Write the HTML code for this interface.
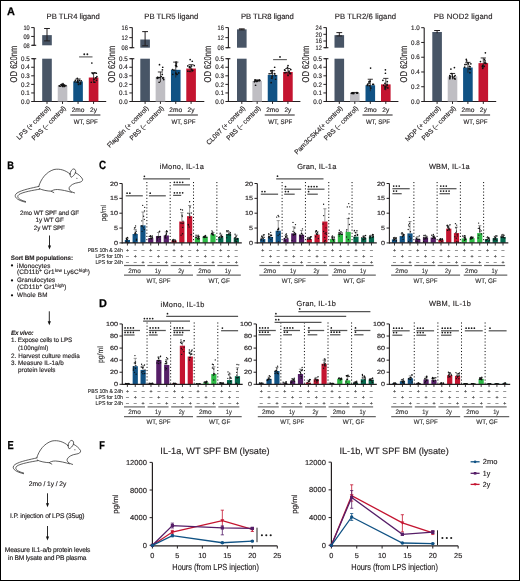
<!DOCTYPE html>
<html><head><meta charset="utf-8"><style>
html,body{margin:0;padding:0;background:#fff;}
body{width:520px;height:581px;overflow:hidden;}
svg{display:block;will-change:transform;}
text{font-family:"Liberation Sans",sans-serif;text-rendering:geometricPrecision;}
</style></head><body>
<svg width="520" height="581" viewBox="0 0 520 581">
<rect x="0" y="0" width="520" height="581" fill="#fff"/>
<text x="73.20" y="18.80" font-size="7.7" text-anchor="middle" fill="#231f20" textLength="53.3" lengthAdjust="spacing" stroke="#231f20" stroke-width="0.15">PB TLR4 ligand</text>
<line x1="33.70" y1="101.50" x2="106.20" y2="101.50" stroke="#231f20" stroke-width="1.1"/>
<line x1="34.20" y1="58.70" x2="34.20" y2="102.00" stroke="#231f20" stroke-width="1.1"/>
<line x1="32.20" y1="58.70" x2="36.20" y2="58.70" stroke="#231f20" stroke-width="1.1"/>
<line x1="31.20" y1="101.50" x2="34.20" y2="101.50" stroke="#231f20" stroke-width="1"/>
<text x="29.70" y="103.70" font-size="6.6" text-anchor="end" fill="#231f20" textLength="8.7" lengthAdjust="spacingAndGlyphs" stroke="#231f20" stroke-width="0.15">0.0</text>
<line x1="31.20" y1="92.94" x2="34.20" y2="92.94" stroke="#231f20" stroke-width="1"/>
<text x="29.70" y="95.14" font-size="6.6" text-anchor="end" fill="#231f20" textLength="8.7" lengthAdjust="spacingAndGlyphs" stroke="#231f20" stroke-width="0.15">0.1</text>
<line x1="31.20" y1="84.38" x2="34.20" y2="84.38" stroke="#231f20" stroke-width="1"/>
<text x="29.70" y="86.58" font-size="6.6" text-anchor="end" fill="#231f20" textLength="8.7" lengthAdjust="spacingAndGlyphs" stroke="#231f20" stroke-width="0.15">0.2</text>
<line x1="31.20" y1="75.82" x2="34.20" y2="75.82" stroke="#231f20" stroke-width="1"/>
<text x="29.70" y="78.02" font-size="6.6" text-anchor="end" fill="#231f20" textLength="8.7" lengthAdjust="spacingAndGlyphs" stroke="#231f20" stroke-width="0.15">0.3</text>
<line x1="31.20" y1="67.26" x2="34.20" y2="67.26" stroke="#231f20" stroke-width="1"/>
<text x="29.70" y="69.46" font-size="6.6" text-anchor="end" fill="#231f20" textLength="8.7" lengthAdjust="spacingAndGlyphs" stroke="#231f20" stroke-width="0.15">0.4</text>
<line x1="31.20" y1="58.70" x2="34.20" y2="58.70" stroke="#231f20" stroke-width="1"/>
<text x="29.70" y="60.90" font-size="6.6" text-anchor="end" fill="#231f20" textLength="8.7" lengthAdjust="spacingAndGlyphs" stroke="#231f20" stroke-width="0.15">0.5</text>
<line x1="34.20" y1="27.60" x2="34.20" y2="45.30" stroke="#231f20" stroke-width="1.1"/>
<line x1="32.20" y1="45.30" x2="36.20" y2="45.30" stroke="#231f20" stroke-width="1.1"/>
<line x1="31.20" y1="27.60" x2="34.20" y2="27.60" stroke="#231f20" stroke-width="1"/>
<text x="29.70" y="29.80" font-size="6.6" text-anchor="end" fill="#231f20" textLength="6.3" lengthAdjust="spacingAndGlyphs" stroke="#231f20" stroke-width="0.15">10</text>
<line x1="31.20" y1="36.45" x2="34.20" y2="36.45" stroke="#231f20" stroke-width="1"/>
<text x="29.70" y="38.65" font-size="6.6" text-anchor="end" fill="#231f20" textLength="6.3" lengthAdjust="spacingAndGlyphs" stroke="#231f20" stroke-width="0.15">09</text>
<line x1="31.20" y1="45.30" x2="34.20" y2="45.30" stroke="#231f20" stroke-width="1"/>
<text x="29.70" y="47.50" font-size="6.6" text-anchor="end" fill="#231f20" textLength="6.3" lengthAdjust="spacingAndGlyphs" stroke="#231f20" stroke-width="0.15">08</text>
<rect x="42.20" y="35.12" width="9.60" height="10.18" fill="#485566"/>
<rect x="42.20" y="58.70" width="9.60" height="42.80" fill="#485566"/>
<line x1="47.00" y1="28.49" x2="47.00" y2="40.88" stroke="#231f20" stroke-width="1"/>
<line x1="44.10" y1="28.49" x2="49.90" y2="28.49" stroke="#231f20" stroke-width="1"/>
<line x1="44.10" y1="40.88" x2="49.90" y2="40.88" stroke="#231f20" stroke-width="1"/>
<rect x="57.73" y="85.66" width="9.60" height="15.84" fill="#bfbec3"/>
<line x1="62.53" y1="84.64" x2="62.53" y2="86.69" stroke="#231f20" stroke-width="0.8"/>
<line x1="59.93" y1="84.64" x2="65.13" y2="84.64" stroke="#231f20" stroke-width="0.9"/>
<circle cx="61.65" cy="85.61" r="0.85" fill="#111"/>
<circle cx="63.24" cy="84.96" r="0.85" fill="#111"/>
<circle cx="59.22" cy="85.81" r="0.85" fill="#111"/>
<circle cx="64.82" cy="85.81" r="0.85" fill="#111"/>
<circle cx="65.90" cy="85.69" r="0.85" fill="#111"/>
<circle cx="62.33" cy="85.25" r="0.85" fill="#111"/>
<circle cx="63.48" cy="85.33" r="0.85" fill="#111"/>
<circle cx="60.15" cy="86.21" r="0.85" fill="#111"/>
<circle cx="62.69" cy="86.42" r="0.85" fill="#111"/>
<circle cx="64.17" cy="86.52" r="0.85" fill="#111"/>
<circle cx="64.29" cy="85.76" r="0.85" fill="#111"/>
<circle cx="62.99" cy="83.52" r="0.85" fill="#111"/>
<circle cx="61.54" cy="84.38" r="0.85" fill="#111"/>
<rect x="73.26" y="81.38" width="9.60" height="20.12" fill="#105284"/>
<line x1="78.06" y1="78.99" x2="78.06" y2="83.78" stroke="#231f20" stroke-width="0.8"/>
<line x1="75.46" y1="78.99" x2="80.66" y2="78.99" stroke="#231f20" stroke-width="0.9"/>
<circle cx="74.87" cy="81.81" r="0.85" fill="#111"/>
<circle cx="79.55" cy="80.39" r="0.85" fill="#111"/>
<circle cx="80.64" cy="82.50" r="0.85" fill="#111"/>
<circle cx="77.35" cy="82.05" r="0.85" fill="#111"/>
<circle cx="80.11" cy="83.78" r="0.85" fill="#111"/>
<circle cx="80.64" cy="83.78" r="0.85" fill="#111"/>
<circle cx="75.32" cy="80.33" r="0.85" fill="#111"/>
<circle cx="81.23" cy="80.78" r="0.85" fill="#111"/>
<circle cx="77.63" cy="80.69" r="0.85" fill="#111"/>
<circle cx="78.11" cy="82.16" r="0.85" fill="#111"/>
<circle cx="77.28" cy="82.18" r="0.85" fill="#111"/>
<circle cx="77.31" cy="78.39" r="0.85" fill="#111"/>
<circle cx="78.49" cy="84.38" r="0.85" fill="#111"/>
<rect x="88.79" y="77.53" width="9.60" height="23.97" fill="#c41430"/>
<line x1="93.59" y1="72.82" x2="93.59" y2="82.24" stroke="#231f20" stroke-width="0.8"/>
<line x1="90.99" y1="72.82" x2="96.19" y2="72.82" stroke="#231f20" stroke-width="0.9"/>
<circle cx="94.83" cy="82.24" r="0.85" fill="#111"/>
<circle cx="96.51" cy="80.36" r="0.85" fill="#111"/>
<circle cx="94.75" cy="72.82" r="0.85" fill="#111"/>
<circle cx="91.30" cy="82.24" r="0.85" fill="#111"/>
<circle cx="96.34" cy="73.24" r="0.85" fill="#111"/>
<circle cx="94.06" cy="82.24" r="0.85" fill="#111"/>
<circle cx="95.84" cy="77.93" r="0.85" fill="#111"/>
<circle cx="94.09" cy="79.27" r="0.85" fill="#111"/>
<circle cx="96.00" cy="77.74" r="0.85" fill="#111"/>
<circle cx="96.92" cy="76.62" r="0.85" fill="#111"/>
<circle cx="92.98" cy="73.58" r="0.85" fill="#111"/>
<circle cx="91.84" cy="62.98" r="0.85" fill="#111"/>
<circle cx="92.56" cy="73.25" r="0.85" fill="#111"/>
<line x1="47.00" y1="101.50" x2="47.00" y2="103.90" stroke="#231f20" stroke-width="1"/>
<line x1="62.53" y1="101.50" x2="62.53" y2="103.90" stroke="#231f20" stroke-width="1"/>
<line x1="78.06" y1="101.50" x2="78.06" y2="103.90" stroke="#231f20" stroke-width="1"/>
<line x1="93.59" y1="101.50" x2="93.59" y2="103.90" stroke="#231f20" stroke-width="1"/>
<text x="50.90" y="108.70" font-size="6.7" text-anchor="end" fill="#231f20" transform="rotate(-45 50.90 108.70)" stroke="#231f20" stroke-width="0.15">LPS (+ control)</text>
<text x="66.43" y="108.70" font-size="6.7" text-anchor="end" fill="#231f20" transform="rotate(-45 66.43 108.70)" stroke="#231f20" stroke-width="0.15">PBS (– control)</text>
<text x="78.06" y="112.30" font-size="6.6" text-anchor="middle" fill="#231f20" stroke="#231f20" stroke-width="0.15">2mo</text>
<text x="93.59" y="112.30" font-size="6.6" text-anchor="middle" fill="#231f20" stroke="#231f20" stroke-width="0.15">2y</text>
<line x1="70.26" y1="115.00" x2="100.39" y2="115.00" stroke="#231f20" stroke-width="1"/>
<text x="85.83" y="124.20" font-size="6.6" text-anchor="middle" fill="#231f20" textLength="24" lengthAdjust="spacingAndGlyphs" stroke="#231f20" stroke-width="0.15">WT, SPF</text>
<text x="16.90" y="64.00" font-size="9.9" text-anchor="middle" fill="#231f20" textLength="36.8" lengthAdjust="spacingAndGlyphs" transform="rotate(-90 16.90 64.00)" stroke="#231f20" stroke-width="0.15">OD 620nm</text>
<line x1="79.10" y1="56.90" x2="92.50" y2="56.90" stroke="#666" stroke-width="1.2"/>
<circle cx="84.25" cy="54.20" r="0.95" fill="#1a1a1a"/>
<circle cx="87.35" cy="54.20" r="0.95" fill="#1a1a1a"/>
<text x="171.30" y="18.80" font-size="7.7" text-anchor="middle" fill="#231f20" textLength="54" lengthAdjust="spacing" stroke="#231f20" stroke-width="0.15">PB TLR5 ligand</text>
<line x1="131.80" y1="101.50" x2="204.30" y2="101.50" stroke="#231f20" stroke-width="1.1"/>
<line x1="132.30" y1="58.70" x2="132.30" y2="102.00" stroke="#231f20" stroke-width="1.1"/>
<line x1="130.30" y1="58.70" x2="134.30" y2="58.70" stroke="#231f20" stroke-width="1.1"/>
<line x1="129.30" y1="101.50" x2="132.30" y2="101.50" stroke="#231f20" stroke-width="1"/>
<text x="127.80" y="103.70" font-size="6.6" text-anchor="end" fill="#231f20" textLength="8.7" lengthAdjust="spacingAndGlyphs" stroke="#231f20" stroke-width="0.15">0.0</text>
<line x1="129.30" y1="92.94" x2="132.30" y2="92.94" stroke="#231f20" stroke-width="1"/>
<text x="127.80" y="95.14" font-size="6.6" text-anchor="end" fill="#231f20" textLength="8.7" lengthAdjust="spacingAndGlyphs" stroke="#231f20" stroke-width="0.15">0.1</text>
<line x1="129.30" y1="84.38" x2="132.30" y2="84.38" stroke="#231f20" stroke-width="1"/>
<text x="127.80" y="86.58" font-size="6.6" text-anchor="end" fill="#231f20" textLength="8.7" lengthAdjust="spacingAndGlyphs" stroke="#231f20" stroke-width="0.15">0.2</text>
<line x1="129.30" y1="75.82" x2="132.30" y2="75.82" stroke="#231f20" stroke-width="1"/>
<text x="127.80" y="78.02" font-size="6.6" text-anchor="end" fill="#231f20" textLength="8.7" lengthAdjust="spacingAndGlyphs" stroke="#231f20" stroke-width="0.15">0.3</text>
<line x1="129.30" y1="67.26" x2="132.30" y2="67.26" stroke="#231f20" stroke-width="1"/>
<text x="127.80" y="69.46" font-size="6.6" text-anchor="end" fill="#231f20" textLength="8.7" lengthAdjust="spacingAndGlyphs" stroke="#231f20" stroke-width="0.15">0.4</text>
<line x1="129.30" y1="58.70" x2="132.30" y2="58.70" stroke="#231f20" stroke-width="1"/>
<text x="127.80" y="60.90" font-size="6.6" text-anchor="end" fill="#231f20" textLength="8.7" lengthAdjust="spacingAndGlyphs" stroke="#231f20" stroke-width="0.15">0.5</text>
<line x1="132.30" y1="27.60" x2="132.30" y2="47.70" stroke="#231f20" stroke-width="1.1"/>
<line x1="130.30" y1="47.70" x2="134.30" y2="47.70" stroke="#231f20" stroke-width="1.1"/>
<line x1="129.30" y1="27.60" x2="132.30" y2="27.60" stroke="#231f20" stroke-width="1"/>
<text x="127.80" y="29.80" font-size="6.6" text-anchor="end" fill="#231f20" textLength="6.3" lengthAdjust="spacingAndGlyphs" stroke="#231f20" stroke-width="0.15">16</text>
<line x1="129.30" y1="37.65" x2="132.30" y2="37.65" stroke="#231f20" stroke-width="1"/>
<text x="127.80" y="39.85" font-size="6.6" text-anchor="end" fill="#231f20" textLength="6.3" lengthAdjust="spacingAndGlyphs" stroke="#231f20" stroke-width="0.15">12</text>
<line x1="129.30" y1="47.70" x2="132.30" y2="47.70" stroke="#231f20" stroke-width="1"/>
<text x="127.80" y="49.90" font-size="6.6" text-anchor="end" fill="#231f20" textLength="6.3" lengthAdjust="spacingAndGlyphs" stroke="#231f20" stroke-width="0.15">08</text>
<rect x="140.30" y="39.51" width="9.60" height="8.19" fill="#485566"/>
<rect x="140.30" y="58.70" width="9.60" height="42.80" fill="#485566"/>
<line x1="145.10" y1="31.62" x2="145.10" y2="45.79" stroke="#231f20" stroke-width="1"/>
<line x1="142.20" y1="31.62" x2="148.00" y2="31.62" stroke="#231f20" stroke-width="1"/>
<line x1="142.20" y1="45.79" x2="148.00" y2="45.79" stroke="#231f20" stroke-width="1"/>
<rect x="155.63" y="77.10" width="9.60" height="24.40" fill="#bfbec3"/>
<line x1="160.43" y1="71.97" x2="160.43" y2="82.24" stroke="#231f20" stroke-width="0.8"/>
<line x1="157.83" y1="71.97" x2="163.03" y2="71.97" stroke="#231f20" stroke-width="0.9"/>
<circle cx="162.26" cy="74.43" r="0.85" fill="#111"/>
<circle cx="161.21" cy="76.51" r="0.85" fill="#111"/>
<circle cx="157.34" cy="77.71" r="0.85" fill="#111"/>
<circle cx="163.02" cy="77.60" r="0.85" fill="#111"/>
<circle cx="163.70" cy="79.59" r="0.85" fill="#111"/>
<circle cx="159.14" cy="82.24" r="0.85" fill="#111"/>
<circle cx="157.55" cy="77.45" r="0.85" fill="#111"/>
<circle cx="158.37" cy="77.68" r="0.85" fill="#111"/>
<circle cx="159.80" cy="77.52" r="0.85" fill="#111"/>
<circle cx="157.32" cy="78.37" r="0.85" fill="#111"/>
<circle cx="162.93" cy="78.16" r="0.85" fill="#111"/>
<circle cx="159.50" cy="64.69" r="0.85" fill="#111"/>
<circle cx="162.72" cy="67.26" r="0.85" fill="#111"/>
<circle cx="162.41" cy="69.83" r="0.85" fill="#111"/>
<rect x="170.96" y="69.83" width="9.60" height="31.67" fill="#105284"/>
<line x1="175.76" y1="62.12" x2="175.76" y2="77.53" stroke="#231f20" stroke-width="0.8"/>
<line x1="173.16" y1="62.12" x2="178.36" y2="62.12" stroke="#231f20" stroke-width="0.9"/>
<circle cx="175.90" cy="73.21" r="0.85" fill="#111"/>
<circle cx="176.74" cy="66.56" r="0.85" fill="#111"/>
<circle cx="176.58" cy="74.30" r="0.85" fill="#111"/>
<circle cx="178.76" cy="72.90" r="0.85" fill="#111"/>
<circle cx="177.26" cy="74.32" r="0.85" fill="#111"/>
<circle cx="173.98" cy="70.03" r="0.85" fill="#111"/>
<circle cx="175.90" cy="73.52" r="0.85" fill="#111"/>
<circle cx="176.09" cy="62.12" r="0.85" fill="#111"/>
<circle cx="176.30" cy="65.45" r="0.85" fill="#111"/>
<circle cx="172.50" cy="69.51" r="0.85" fill="#111"/>
<circle cx="172.77" cy="74.30" r="0.85" fill="#111"/>
<circle cx="176.40" cy="63.84" r="0.85" fill="#111"/>
<circle cx="175.59" cy="65.55" r="0.85" fill="#111"/>
<rect x="186.29" y="68.54" width="9.60" height="32.96" fill="#c41430"/>
<line x1="191.09" y1="64.69" x2="191.09" y2="72.40" stroke="#231f20" stroke-width="0.8"/>
<line x1="188.49" y1="64.69" x2="193.69" y2="64.69" stroke="#231f20" stroke-width="0.9"/>
<circle cx="192.31" cy="70.54" r="0.85" fill="#111"/>
<circle cx="192.71" cy="70.54" r="0.85" fill="#111"/>
<circle cx="187.84" cy="65.89" r="0.85" fill="#111"/>
<circle cx="194.24" cy="65.59" r="0.85" fill="#111"/>
<circle cx="189.40" cy="67.36" r="0.85" fill="#111"/>
<circle cx="189.87" cy="71.28" r="0.85" fill="#111"/>
<circle cx="190.16" cy="67.77" r="0.85" fill="#111"/>
<circle cx="191.74" cy="69.32" r="0.85" fill="#111"/>
<circle cx="189.73" cy="66.67" r="0.85" fill="#111"/>
<circle cx="187.87" cy="71.16" r="0.85" fill="#111"/>
<circle cx="191.56" cy="66.00" r="0.85" fill="#111"/>
<circle cx="192.27" cy="61.27" r="0.85" fill="#111"/>
<circle cx="190.14" cy="59.56" r="0.85" fill="#111"/>
<line x1="145.10" y1="101.50" x2="145.10" y2="103.90" stroke="#231f20" stroke-width="1"/>
<line x1="160.43" y1="101.50" x2="160.43" y2="103.90" stroke="#231f20" stroke-width="1"/>
<line x1="175.76" y1="101.50" x2="175.76" y2="103.90" stroke="#231f20" stroke-width="1"/>
<line x1="191.09" y1="101.50" x2="191.09" y2="103.90" stroke="#231f20" stroke-width="1"/>
<text x="149.00" y="108.70" font-size="6.7" text-anchor="end" fill="#231f20" transform="rotate(-45 149.00 108.70)" stroke="#231f20" stroke-width="0.15">Flagelin (+ control)</text>
<text x="164.33" y="108.70" font-size="6.7" text-anchor="end" fill="#231f20" transform="rotate(-45 164.33 108.70)" stroke="#231f20" stroke-width="0.15">PBS (– control)</text>
<text x="175.76" y="112.30" font-size="6.6" text-anchor="middle" fill="#231f20" stroke="#231f20" stroke-width="0.15">2mo</text>
<text x="191.09" y="112.30" font-size="6.6" text-anchor="middle" fill="#231f20" stroke="#231f20" stroke-width="0.15">2y</text>
<line x1="167.96" y1="115.00" x2="197.89" y2="115.00" stroke="#231f20" stroke-width="1"/>
<text x="183.43" y="124.20" font-size="6.6" text-anchor="middle" fill="#231f20" textLength="24" lengthAdjust="spacingAndGlyphs" stroke="#231f20" stroke-width="0.15">WT, SPF</text>
<text x="115.00" y="64.00" font-size="9.9" text-anchor="middle" fill="#231f20" textLength="36.8" lengthAdjust="spacingAndGlyphs" transform="rotate(-90 115.00 64.00)" stroke="#231f20" stroke-width="0.15">OD 620nm</text>
<text x="267.40" y="18.80" font-size="7.7" text-anchor="middle" fill="#231f20" textLength="52.9" lengthAdjust="spacing" stroke="#231f20" stroke-width="0.15">PB TLR8 ligand</text>
<line x1="227.90" y1="101.50" x2="300.40" y2="101.50" stroke="#231f20" stroke-width="1.1"/>
<line x1="228.40" y1="58.70" x2="228.40" y2="102.00" stroke="#231f20" stroke-width="1.1"/>
<line x1="226.40" y1="58.70" x2="230.40" y2="58.70" stroke="#231f20" stroke-width="1.1"/>
<line x1="225.40" y1="101.50" x2="228.40" y2="101.50" stroke="#231f20" stroke-width="1"/>
<text x="223.90" y="103.70" font-size="6.6" text-anchor="end" fill="#231f20" textLength="8.7" lengthAdjust="spacingAndGlyphs" stroke="#231f20" stroke-width="0.15">0.0</text>
<line x1="225.40" y1="92.94" x2="228.40" y2="92.94" stroke="#231f20" stroke-width="1"/>
<text x="223.90" y="95.14" font-size="6.6" text-anchor="end" fill="#231f20" textLength="8.7" lengthAdjust="spacingAndGlyphs" stroke="#231f20" stroke-width="0.15">0.1</text>
<line x1="225.40" y1="84.38" x2="228.40" y2="84.38" stroke="#231f20" stroke-width="1"/>
<text x="223.90" y="86.58" font-size="6.6" text-anchor="end" fill="#231f20" textLength="8.7" lengthAdjust="spacingAndGlyphs" stroke="#231f20" stroke-width="0.15">0.2</text>
<line x1="225.40" y1="75.82" x2="228.40" y2="75.82" stroke="#231f20" stroke-width="1"/>
<text x="223.90" y="78.02" font-size="6.6" text-anchor="end" fill="#231f20" textLength="8.7" lengthAdjust="spacingAndGlyphs" stroke="#231f20" stroke-width="0.15">0.3</text>
<line x1="225.40" y1="67.26" x2="228.40" y2="67.26" stroke="#231f20" stroke-width="1"/>
<text x="223.90" y="69.46" font-size="6.6" text-anchor="end" fill="#231f20" textLength="8.7" lengthAdjust="spacingAndGlyphs" stroke="#231f20" stroke-width="0.15">0.4</text>
<line x1="225.40" y1="58.70" x2="228.40" y2="58.70" stroke="#231f20" stroke-width="1"/>
<text x="223.90" y="60.90" font-size="6.6" text-anchor="end" fill="#231f20" textLength="8.7" lengthAdjust="spacingAndGlyphs" stroke="#231f20" stroke-width="0.15">0.5</text>
<line x1="228.40" y1="27.60" x2="228.40" y2="47.70" stroke="#231f20" stroke-width="1.1"/>
<line x1="226.40" y1="47.70" x2="230.40" y2="47.70" stroke="#231f20" stroke-width="1.1"/>
<line x1="225.40" y1="27.60" x2="228.40" y2="27.60" stroke="#231f20" stroke-width="1"/>
<text x="223.90" y="29.80" font-size="6.6" text-anchor="end" fill="#231f20" textLength="6.3" lengthAdjust="spacingAndGlyphs" stroke="#231f20" stroke-width="0.15">16</text>
<line x1="225.40" y1="37.65" x2="228.40" y2="37.65" stroke="#231f20" stroke-width="1"/>
<text x="223.90" y="39.85" font-size="6.6" text-anchor="end" fill="#231f20" textLength="6.3" lengthAdjust="spacingAndGlyphs" stroke="#231f20" stroke-width="0.15">12</text>
<line x1="225.40" y1="47.70" x2="228.40" y2="47.70" stroke="#231f20" stroke-width="1"/>
<text x="223.90" y="49.90" font-size="6.6" text-anchor="end" fill="#231f20" textLength="6.3" lengthAdjust="spacingAndGlyphs" stroke="#231f20" stroke-width="0.15">08</text>
<rect x="237.00" y="29.36" width="9.60" height="18.34" fill="#485566"/>
<rect x="237.00" y="58.70" width="9.60" height="42.80" fill="#485566"/>
<line x1="241.80" y1="28.86" x2="241.80" y2="29.86" stroke="#231f20" stroke-width="1"/>
<line x1="238.90" y1="28.86" x2="244.70" y2="28.86" stroke="#231f20" stroke-width="1"/>
<line x1="238.90" y1="29.86" x2="244.70" y2="29.86" stroke="#231f20" stroke-width="1"/>
<rect x="252.37" y="80.96" width="9.60" height="20.54" fill="#bfbec3"/>
<line x1="257.17" y1="79.93" x2="257.17" y2="81.98" stroke="#231f20" stroke-width="0.8"/>
<line x1="254.57" y1="79.93" x2="259.77" y2="79.93" stroke="#231f20" stroke-width="0.9"/>
<circle cx="255.39" cy="80.78" r="0.85" fill="#111"/>
<circle cx="255.04" cy="79.95" r="0.85" fill="#111"/>
<circle cx="254.46" cy="81.76" r="0.85" fill="#111"/>
<circle cx="255.96" cy="80.61" r="0.85" fill="#111"/>
<circle cx="256.75" cy="81.49" r="0.85" fill="#111"/>
<circle cx="259.59" cy="80.03" r="0.85" fill="#111"/>
<circle cx="258.19" cy="80.71" r="0.85" fill="#111"/>
<circle cx="259.79" cy="80.51" r="0.85" fill="#111"/>
<circle cx="254.59" cy="81.34" r="0.85" fill="#111"/>
<circle cx="257.37" cy="80.83" r="0.85" fill="#111"/>
<circle cx="259.47" cy="80.58" r="0.85" fill="#111"/>
<circle cx="255.59" cy="85.24" r="0.85" fill="#111"/>
<rect x="267.74" y="74.96" width="9.60" height="26.54" fill="#105284"/>
<line x1="272.54" y1="70.68" x2="272.54" y2="79.24" stroke="#231f20" stroke-width="0.8"/>
<line x1="269.94" y1="70.68" x2="275.14" y2="70.68" stroke="#231f20" stroke-width="0.9"/>
<circle cx="271.03" cy="70.99" r="0.85" fill="#111"/>
<circle cx="274.62" cy="73.78" r="0.85" fill="#111"/>
<circle cx="271.49" cy="78.12" r="0.85" fill="#111"/>
<circle cx="274.54" cy="73.62" r="0.85" fill="#111"/>
<circle cx="270.98" cy="73.54" r="0.85" fill="#111"/>
<circle cx="271.99" cy="76.36" r="0.85" fill="#111"/>
<circle cx="271.92" cy="72.95" r="0.85" fill="#111"/>
<circle cx="269.17" cy="73.76" r="0.85" fill="#111"/>
<circle cx="275.55" cy="75.62" r="0.85" fill="#111"/>
<circle cx="272.09" cy="70.68" r="0.85" fill="#111"/>
<circle cx="275.60" cy="79.24" r="0.85" fill="#111"/>
<circle cx="274.68" cy="67.26" r="0.85" fill="#111"/>
<circle cx="271.15" cy="82.67" r="0.85" fill="#111"/>
<rect x="283.11" y="71.97" width="9.60" height="29.53" fill="#c41430"/>
<line x1="287.91" y1="68.54" x2="287.91" y2="75.39" stroke="#231f20" stroke-width="0.8"/>
<line x1="285.31" y1="68.54" x2="290.51" y2="68.54" stroke="#231f20" stroke-width="0.9"/>
<circle cx="289.02" cy="72.07" r="0.85" fill="#111"/>
<circle cx="288.04" cy="75.39" r="0.85" fill="#111"/>
<circle cx="286.06" cy="72.39" r="0.85" fill="#111"/>
<circle cx="284.97" cy="70.30" r="0.85" fill="#111"/>
<circle cx="290.02" cy="73.28" r="0.85" fill="#111"/>
<circle cx="284.82" cy="72.79" r="0.85" fill="#111"/>
<circle cx="290.79" cy="69.59" r="0.85" fill="#111"/>
<circle cx="290.61" cy="73.62" r="0.85" fill="#111"/>
<circle cx="284.60" cy="69.97" r="0.85" fill="#111"/>
<circle cx="289.58" cy="73.42" r="0.85" fill="#111"/>
<circle cx="289.02" cy="71.22" r="0.85" fill="#111"/>
<circle cx="288.03" cy="65.55" r="0.85" fill="#111"/>
<circle cx="287.48" cy="67.26" r="0.85" fill="#111"/>
<line x1="241.80" y1="101.50" x2="241.80" y2="103.90" stroke="#231f20" stroke-width="1"/>
<line x1="257.17" y1="101.50" x2="257.17" y2="103.90" stroke="#231f20" stroke-width="1"/>
<line x1="272.54" y1="101.50" x2="272.54" y2="103.90" stroke="#231f20" stroke-width="1"/>
<line x1="287.91" y1="101.50" x2="287.91" y2="103.90" stroke="#231f20" stroke-width="1"/>
<text x="245.70" y="108.70" font-size="6.7" text-anchor="end" fill="#231f20" transform="rotate(-45 245.70 108.70)" stroke="#231f20" stroke-width="0.15">CL097 (+ control)</text>
<text x="261.07" y="108.70" font-size="6.7" text-anchor="end" fill="#231f20" transform="rotate(-45 261.07 108.70)" stroke="#231f20" stroke-width="0.15">PBS (– control)</text>
<text x="272.54" y="112.30" font-size="6.6" text-anchor="middle" fill="#231f20" stroke="#231f20" stroke-width="0.15">2mo</text>
<text x="287.91" y="112.30" font-size="6.6" text-anchor="middle" fill="#231f20" stroke="#231f20" stroke-width="0.15">2y</text>
<line x1="264.74" y1="115.00" x2="294.71" y2="115.00" stroke="#231f20" stroke-width="1"/>
<text x="280.23" y="124.20" font-size="6.6" text-anchor="middle" fill="#231f20" textLength="24" lengthAdjust="spacingAndGlyphs" stroke="#231f20" stroke-width="0.15">WT, SPF</text>
<text x="211.10" y="64.00" font-size="9.9" text-anchor="middle" fill="#231f20" textLength="36.8" lengthAdjust="spacingAndGlyphs" transform="rotate(-90 211.10 64.00)" stroke="#231f20" stroke-width="0.15">OD 620nm</text>
<line x1="273.10" y1="59.60" x2="286.90" y2="59.60" stroke="#666" stroke-width="1.2"/>
<circle cx="280.00" cy="56.90" r="0.95" fill="#1a1a1a"/>
<text x="365.40" y="18.80" font-size="7.7" text-anchor="middle" fill="#231f20" textLength="61.4" lengthAdjust="spacing" stroke="#231f20" stroke-width="0.15">PB TLR2/6 ligand</text>
<line x1="325.90" y1="101.50" x2="398.40" y2="101.50" stroke="#231f20" stroke-width="1.1"/>
<line x1="326.40" y1="58.70" x2="326.40" y2="102.00" stroke="#231f20" stroke-width="1.1"/>
<line x1="324.40" y1="58.70" x2="328.40" y2="58.70" stroke="#231f20" stroke-width="1.1"/>
<line x1="323.40" y1="101.50" x2="326.40" y2="101.50" stroke="#231f20" stroke-width="1"/>
<text x="321.90" y="103.70" font-size="6.6" text-anchor="end" fill="#231f20" textLength="8.7" lengthAdjust="spacingAndGlyphs" stroke="#231f20" stroke-width="0.15">0.0</text>
<line x1="323.40" y1="92.94" x2="326.40" y2="92.94" stroke="#231f20" stroke-width="1"/>
<text x="321.90" y="95.14" font-size="6.6" text-anchor="end" fill="#231f20" textLength="8.7" lengthAdjust="spacingAndGlyphs" stroke="#231f20" stroke-width="0.15">0.1</text>
<line x1="323.40" y1="84.38" x2="326.40" y2="84.38" stroke="#231f20" stroke-width="1"/>
<text x="321.90" y="86.58" font-size="6.6" text-anchor="end" fill="#231f20" textLength="8.7" lengthAdjust="spacingAndGlyphs" stroke="#231f20" stroke-width="0.15">0.2</text>
<line x1="323.40" y1="75.82" x2="326.40" y2="75.82" stroke="#231f20" stroke-width="1"/>
<text x="321.90" y="78.02" font-size="6.6" text-anchor="end" fill="#231f20" textLength="8.7" lengthAdjust="spacingAndGlyphs" stroke="#231f20" stroke-width="0.15">0.3</text>
<line x1="323.40" y1="67.26" x2="326.40" y2="67.26" stroke="#231f20" stroke-width="1"/>
<text x="321.90" y="69.46" font-size="6.6" text-anchor="end" fill="#231f20" textLength="8.7" lengthAdjust="spacingAndGlyphs" stroke="#231f20" stroke-width="0.15">0.4</text>
<line x1="323.40" y1="58.70" x2="326.40" y2="58.70" stroke="#231f20" stroke-width="1"/>
<text x="321.90" y="60.90" font-size="6.6" text-anchor="end" fill="#231f20" textLength="8.7" lengthAdjust="spacingAndGlyphs" stroke="#231f20" stroke-width="0.15">0.5</text>
<line x1="326.40" y1="27.60" x2="326.40" y2="47.70" stroke="#231f20" stroke-width="1.1"/>
<line x1="324.40" y1="47.70" x2="328.40" y2="47.70" stroke="#231f20" stroke-width="1.1"/>
<line x1="323.40" y1="27.60" x2="326.40" y2="27.60" stroke="#231f20" stroke-width="1"/>
<text x="321.90" y="29.80" font-size="6.6" text-anchor="end" fill="#231f20" textLength="6.3" lengthAdjust="spacingAndGlyphs" stroke="#231f20" stroke-width="0.15">24</text>
<line x1="323.40" y1="34.30" x2="326.40" y2="34.30" stroke="#231f20" stroke-width="1"/>
<text x="321.90" y="36.50" font-size="6.6" text-anchor="end" fill="#231f20" textLength="6.3" lengthAdjust="spacingAndGlyphs" stroke="#231f20" stroke-width="0.15">20</text>
<line x1="323.40" y1="41.00" x2="326.40" y2="41.00" stroke="#231f20" stroke-width="1"/>
<text x="321.90" y="43.20" font-size="6.6" text-anchor="end" fill="#231f20" textLength="6.3" lengthAdjust="spacingAndGlyphs" stroke="#231f20" stroke-width="0.15">16</text>
<line x1="323.40" y1="47.70" x2="326.40" y2="47.70" stroke="#231f20" stroke-width="1"/>
<text x="321.90" y="49.90" font-size="6.6" text-anchor="end" fill="#231f20" textLength="6.3" lengthAdjust="spacingAndGlyphs" stroke="#231f20" stroke-width="0.15">12</text>
<rect x="334.50" y="35.14" width="9.60" height="12.56" fill="#485566"/>
<rect x="334.50" y="58.70" width="9.60" height="42.80" fill="#485566"/>
<line x1="339.30" y1="32.62" x2="339.30" y2="35.98" stroke="#231f20" stroke-width="1"/>
<line x1="336.40" y1="32.62" x2="342.20" y2="32.62" stroke="#231f20" stroke-width="1"/>
<line x1="336.40" y1="35.98" x2="342.20" y2="35.98" stroke="#231f20" stroke-width="1"/>
<rect x="350.00" y="92.94" width="9.60" height="8.56" fill="#bfbec3"/>
<line x1="354.80" y1="92.43" x2="354.80" y2="93.45" stroke="#231f20" stroke-width="0.8"/>
<line x1="352.20" y1="92.43" x2="357.40" y2="92.43" stroke="#231f20" stroke-width="0.9"/>
<circle cx="357.79" cy="92.73" r="0.85" fill="#111"/>
<circle cx="353.12" cy="93.14" r="0.85" fill="#111"/>
<circle cx="357.26" cy="93.11" r="0.85" fill="#111"/>
<circle cx="353.79" cy="93.43" r="0.85" fill="#111"/>
<circle cx="352.74" cy="92.87" r="0.85" fill="#111"/>
<circle cx="352.56" cy="93.45" r="0.85" fill="#111"/>
<circle cx="356.78" cy="93.05" r="0.85" fill="#111"/>
<circle cx="357.00" cy="92.49" r="0.85" fill="#111"/>
<circle cx="351.45" cy="93.18" r="0.85" fill="#111"/>
<circle cx="351.74" cy="93.33" r="0.85" fill="#111"/>
<circle cx="353.25" cy="93.35" r="0.85" fill="#111"/>
<rect x="365.50" y="85.24" width="9.60" height="16.26" fill="#105284"/>
<line x1="370.30" y1="79.24" x2="370.30" y2="91.23" stroke="#231f20" stroke-width="0.8"/>
<line x1="367.70" y1="79.24" x2="372.90" y2="79.24" stroke="#231f20" stroke-width="0.9"/>
<circle cx="369.78" cy="85.71" r="0.85" fill="#111"/>
<circle cx="370.12" cy="81.23" r="0.85" fill="#111"/>
<circle cx="367.27" cy="85.20" r="0.85" fill="#111"/>
<circle cx="367.76" cy="85.43" r="0.85" fill="#111"/>
<circle cx="373.53" cy="84.36" r="0.85" fill="#111"/>
<circle cx="372.71" cy="84.36" r="0.85" fill="#111"/>
<circle cx="369.05" cy="81.90" r="0.85" fill="#111"/>
<circle cx="369.04" cy="83.23" r="0.85" fill="#111"/>
<circle cx="370.89" cy="88.06" r="0.85" fill="#111"/>
<circle cx="369.35" cy="81.41" r="0.85" fill="#111"/>
<circle cx="367.74" cy="84.17" r="0.85" fill="#111"/>
<circle cx="370.58" cy="68.12" r="0.85" fill="#111"/>
<rect x="381.00" y="84.38" width="9.60" height="17.12" fill="#c41430"/>
<line x1="385.80" y1="78.39" x2="385.80" y2="90.37" stroke="#231f20" stroke-width="0.8"/>
<line x1="383.20" y1="78.39" x2="388.40" y2="78.39" stroke="#231f20" stroke-width="0.9"/>
<circle cx="387.27" cy="81.64" r="0.85" fill="#111"/>
<circle cx="383.61" cy="85.36" r="0.85" fill="#111"/>
<circle cx="384.94" cy="83.46" r="0.85" fill="#111"/>
<circle cx="384.99" cy="88.94" r="0.85" fill="#111"/>
<circle cx="387.85" cy="87.89" r="0.85" fill="#111"/>
<circle cx="384.93" cy="86.89" r="0.85" fill="#111"/>
<circle cx="385.77" cy="86.82" r="0.85" fill="#111"/>
<circle cx="387.12" cy="85.38" r="0.85" fill="#111"/>
<circle cx="385.53" cy="87.67" r="0.85" fill="#111"/>
<circle cx="387.13" cy="84.25" r="0.85" fill="#111"/>
<circle cx="382.89" cy="80.30" r="0.85" fill="#111"/>
<circle cx="385.42" cy="69.83" r="0.85" fill="#111"/>
<circle cx="385.43" cy="73.25" r="0.85" fill="#111"/>
<line x1="339.30" y1="101.50" x2="339.30" y2="103.90" stroke="#231f20" stroke-width="1"/>
<line x1="354.80" y1="101.50" x2="354.80" y2="103.90" stroke="#231f20" stroke-width="1"/>
<line x1="370.30" y1="101.50" x2="370.30" y2="103.90" stroke="#231f20" stroke-width="1"/>
<line x1="385.80" y1="101.50" x2="385.80" y2="103.90" stroke="#231f20" stroke-width="1"/>
<text x="343.20" y="108.70" font-size="6.7" text-anchor="end" fill="#231f20" transform="rotate(-45 343.20 108.70)" stroke="#231f20" stroke-width="0.15">Pam3CSK4(+ control)</text>
<text x="358.70" y="108.70" font-size="6.7" text-anchor="end" fill="#231f20" transform="rotate(-45 358.70 108.70)" stroke="#231f20" stroke-width="0.15">PBS (– control)</text>
<text x="370.30" y="112.30" font-size="6.6" text-anchor="middle" fill="#231f20" stroke="#231f20" stroke-width="0.15">2mo</text>
<text x="385.80" y="112.30" font-size="6.6" text-anchor="middle" fill="#231f20" stroke="#231f20" stroke-width="0.15">2y</text>
<line x1="362.50" y1="115.00" x2="392.60" y2="115.00" stroke="#231f20" stroke-width="1"/>
<text x="378.05" y="124.20" font-size="6.6" text-anchor="middle" fill="#231f20" textLength="24" lengthAdjust="spacingAndGlyphs" stroke="#231f20" stroke-width="0.15">WT, SPF</text>
<text x="309.10" y="64.00" font-size="9.9" text-anchor="middle" fill="#231f20" textLength="36.8" lengthAdjust="spacingAndGlyphs" transform="rotate(-90 309.10 64.00)" stroke="#231f20" stroke-width="0.15">OD 620nm</text>
<text x="463.20" y="18.80" font-size="7.7" text-anchor="middle" fill="#231f20" textLength="58.8" lengthAdjust="spacing" stroke="#231f20" stroke-width="0.15">PB NOD2 ligand</text>
<line x1="423.70" y1="101.50" x2="496.20" y2="101.50" stroke="#231f20" stroke-width="1.1"/>
<line x1="424.20" y1="27.70" x2="424.20" y2="102.00" stroke="#231f20" stroke-width="1.1"/>
<line x1="421.20" y1="101.50" x2="424.20" y2="101.50" stroke="#231f20" stroke-width="1"/>
<text x="419.70" y="103.70" font-size="6.6" text-anchor="end" fill="#231f20" textLength="8.7" lengthAdjust="spacingAndGlyphs" stroke="#231f20" stroke-width="0.15">0.0</text>
<line x1="421.20" y1="86.74" x2="424.20" y2="86.74" stroke="#231f20" stroke-width="1"/>
<text x="419.70" y="88.94" font-size="6.6" text-anchor="end" fill="#231f20" textLength="8.7" lengthAdjust="spacingAndGlyphs" stroke="#231f20" stroke-width="0.15">0.2</text>
<line x1="421.20" y1="71.98" x2="424.20" y2="71.98" stroke="#231f20" stroke-width="1"/>
<text x="419.70" y="74.18" font-size="6.6" text-anchor="end" fill="#231f20" textLength="8.7" lengthAdjust="spacingAndGlyphs" stroke="#231f20" stroke-width="0.15">0.4</text>
<line x1="421.20" y1="57.22" x2="424.20" y2="57.22" stroke="#231f20" stroke-width="1"/>
<text x="419.70" y="59.42" font-size="6.6" text-anchor="end" fill="#231f20" textLength="8.7" lengthAdjust="spacingAndGlyphs" stroke="#231f20" stroke-width="0.15">0.6</text>
<line x1="421.20" y1="42.46" x2="424.20" y2="42.46" stroke="#231f20" stroke-width="1"/>
<text x="419.70" y="44.66" font-size="6.6" text-anchor="end" fill="#231f20" textLength="8.7" lengthAdjust="spacingAndGlyphs" stroke="#231f20" stroke-width="0.15">0.8</text>
<line x1="421.20" y1="27.70" x2="424.20" y2="27.70" stroke="#231f20" stroke-width="1"/>
<text x="419.70" y="29.90" font-size="6.6" text-anchor="end" fill="#231f20" textLength="8.7" lengthAdjust="spacingAndGlyphs" stroke="#231f20" stroke-width="0.15">1.0</text>
<rect x="432.30" y="31.98" width="9.60" height="69.52" fill="#485566"/>
<line x1="437.10" y1="30.50" x2="437.10" y2="33.23" stroke="#231f20" stroke-width="1"/>
<line x1="434.20" y1="30.50" x2="440.00" y2="30.50" stroke="#231f20" stroke-width="1"/>
<rect x="447.70" y="76.41" width="9.60" height="25.09" fill="#bfbec3"/>
<line x1="452.50" y1="73.46" x2="452.50" y2="79.36" stroke="#231f20" stroke-width="0.8"/>
<line x1="449.90" y1="73.46" x2="455.10" y2="73.46" stroke="#231f20" stroke-width="0.9"/>
<circle cx="451.64" cy="73.63" r="0.85" fill="#111"/>
<circle cx="455.21" cy="79.02" r="0.85" fill="#111"/>
<circle cx="452.26" cy="76.09" r="0.85" fill="#111"/>
<circle cx="449.94" cy="77.63" r="0.85" fill="#111"/>
<circle cx="455.13" cy="75.48" r="0.85" fill="#111"/>
<circle cx="454.49" cy="78.61" r="0.85" fill="#111"/>
<circle cx="452.93" cy="77.72" r="0.85" fill="#111"/>
<circle cx="449.80" cy="78.70" r="0.85" fill="#111"/>
<circle cx="450.08" cy="76.55" r="0.85" fill="#111"/>
<circle cx="454.37" cy="76.49" r="0.85" fill="#111"/>
<circle cx="449.78" cy="75.72" r="0.85" fill="#111"/>
<circle cx="454.40" cy="67.55" r="0.85" fill="#111"/>
<circle cx="450.90" cy="69.03" r="0.85" fill="#111"/>
<rect x="463.10" y="67.55" width="9.60" height="33.95" fill="#105284"/>
<line x1="467.90" y1="62.39" x2="467.90" y2="72.72" stroke="#231f20" stroke-width="0.8"/>
<line x1="465.30" y1="62.39" x2="470.50" y2="62.39" stroke="#231f20" stroke-width="0.9"/>
<circle cx="464.66" cy="67.21" r="0.85" fill="#111"/>
<circle cx="470.24" cy="66.77" r="0.85" fill="#111"/>
<circle cx="469.08" cy="68.76" r="0.85" fill="#111"/>
<circle cx="468.44" cy="63.94" r="0.85" fill="#111"/>
<circle cx="469.93" cy="72.72" r="0.85" fill="#111"/>
<circle cx="467.98" cy="62.82" r="0.85" fill="#111"/>
<circle cx="469.36" cy="66.46" r="0.85" fill="#111"/>
<circle cx="470.86" cy="63.85" r="0.85" fill="#111"/>
<circle cx="464.92" cy="64.62" r="0.85" fill="#111"/>
<circle cx="470.13" cy="69.20" r="0.85" fill="#111"/>
<circle cx="466.15" cy="64.28" r="0.85" fill="#111"/>
<circle cx="466.30" cy="59.43" r="0.85" fill="#111"/>
<circle cx="466.65" cy="60.91" r="0.85" fill="#111"/>
<rect x="478.50" y="63.12" width="9.60" height="38.38" fill="#c41430"/>
<line x1="483.30" y1="57.96" x2="483.30" y2="68.29" stroke="#231f20" stroke-width="0.8"/>
<line x1="480.70" y1="57.96" x2="485.90" y2="57.96" stroke="#231f20" stroke-width="0.9"/>
<circle cx="482.58" cy="66.67" r="0.85" fill="#111"/>
<circle cx="482.40" cy="66.29" r="0.85" fill="#111"/>
<circle cx="482.74" cy="65.23" r="0.85" fill="#111"/>
<circle cx="480.47" cy="61.53" r="0.85" fill="#111"/>
<circle cx="482.71" cy="68.29" r="0.85" fill="#111"/>
<circle cx="484.98" cy="63.14" r="0.85" fill="#111"/>
<circle cx="485.04" cy="60.81" r="0.85" fill="#111"/>
<circle cx="484.48" cy="59.44" r="0.85" fill="#111"/>
<circle cx="484.27" cy="66.37" r="0.85" fill="#111"/>
<circle cx="486.00" cy="63.47" r="0.85" fill="#111"/>
<circle cx="484.99" cy="62.37" r="0.85" fill="#111"/>
<circle cx="485.38" cy="52.79" r="0.85" fill="#111"/>
<line x1="437.10" y1="101.50" x2="437.10" y2="103.90" stroke="#231f20" stroke-width="1"/>
<line x1="452.50" y1="101.50" x2="452.50" y2="103.90" stroke="#231f20" stroke-width="1"/>
<line x1="467.90" y1="101.50" x2="467.90" y2="103.90" stroke="#231f20" stroke-width="1"/>
<line x1="483.30" y1="101.50" x2="483.30" y2="103.90" stroke="#231f20" stroke-width="1"/>
<text x="441.00" y="108.70" font-size="6.7" text-anchor="end" fill="#231f20" transform="rotate(-45 441.00 108.70)" stroke="#231f20" stroke-width="0.15">MDP (+ control)</text>
<text x="456.40" y="108.70" font-size="6.7" text-anchor="end" fill="#231f20" transform="rotate(-45 456.40 108.70)" stroke="#231f20" stroke-width="0.15">PBS (– control)</text>
<text x="467.90" y="112.30" font-size="6.6" text-anchor="middle" fill="#231f20" stroke="#231f20" stroke-width="0.15">2mo</text>
<text x="483.30" y="112.30" font-size="6.6" text-anchor="middle" fill="#231f20" stroke="#231f20" stroke-width="0.15">2y</text>
<line x1="460.10" y1="115.00" x2="490.10" y2="115.00" stroke="#231f20" stroke-width="1"/>
<text x="475.60" y="124.20" font-size="6.6" text-anchor="middle" fill="#231f20" textLength="24" lengthAdjust="spacingAndGlyphs" stroke="#231f20" stroke-width="0.15">WT, SPF</text>
<text x="406.90" y="64.00" font-size="9.9" text-anchor="middle" fill="#231f20" textLength="36.8" lengthAdjust="spacingAndGlyphs" transform="rotate(-90 406.90 64.00)" stroke="#231f20" stroke-width="0.15">OD 620nm</text>
<text x="181.80" y="168.80" font-size="7.4" text-anchor="middle" fill="#231f20" textLength="44.1" lengthAdjust="spacing" stroke="#231f20" stroke-width="0.15">iMono, IL-1a</text>
<line x1="122.20" y1="183.50" x2="122.20" y2="243.40" stroke="#231f20" stroke-width="1.1"/>
<line x1="119.40" y1="242.90" x2="122.20" y2="242.90" stroke="#231f20" stroke-width="1"/>
<text x="117.90" y="245.00" font-size="6.0" text-anchor="end" fill="#231f20" textLength="4.0" lengthAdjust="spacingAndGlyphs" stroke="#231f20" stroke-width="0.15">0</text>
<line x1="119.40" y1="228.05" x2="122.20" y2="228.05" stroke="#231f20" stroke-width="1"/>
<text x="117.90" y="230.15" font-size="6.0" text-anchor="end" fill="#231f20" textLength="4.0" lengthAdjust="spacingAndGlyphs" stroke="#231f20" stroke-width="0.15">5</text>
<line x1="119.40" y1="213.20" x2="122.20" y2="213.20" stroke="#231f20" stroke-width="1"/>
<text x="117.90" y="215.30" font-size="6.0" text-anchor="end" fill="#231f20" textLength="8.0" lengthAdjust="spacingAndGlyphs" stroke="#231f20" stroke-width="0.15">10</text>
<line x1="119.40" y1="198.35" x2="122.20" y2="198.35" stroke="#231f20" stroke-width="1"/>
<text x="117.90" y="200.45" font-size="6.0" text-anchor="end" fill="#231f20" textLength="8.0" lengthAdjust="spacingAndGlyphs" stroke="#231f20" stroke-width="0.15">15</text>
<line x1="119.40" y1="183.50" x2="122.20" y2="183.50" stroke="#231f20" stroke-width="1"/>
<text x="117.90" y="185.60" font-size="6.0" text-anchor="end" fill="#231f20" textLength="8.0" lengthAdjust="spacingAndGlyphs" stroke="#231f20" stroke-width="0.15">20</text>
<line x1="146.85" y1="182.00" x2="146.85" y2="242.90" stroke="#111" stroke-width="1.0" stroke-dasharray="1.1 2.07"/>
<line x1="170.19" y1="182.00" x2="170.19" y2="242.90" stroke="#111" stroke-width="1.0" stroke-dasharray="1.1 2.07"/>
<line x1="193.53" y1="182.00" x2="193.53" y2="242.90" stroke="#111" stroke-width="1.0" stroke-dasharray="1.1 2.07"/>
<line x1="216.87" y1="182.00" x2="216.87" y2="242.90" stroke="#111" stroke-width="1.0" stroke-dasharray="1.1 2.07"/>
<rect x="124.80" y="239.93" width="5.20" height="2.97" fill="#105284"/>
<line x1="127.40" y1="238.15" x2="127.40" y2="239.93" stroke="#555" stroke-width="0.6"/>
<line x1="125.80" y1="238.15" x2="129.00" y2="238.15" stroke="#555" stroke-width="0.6"/>
<circle cx="127.47" cy="237.52" r="0.68" fill="#111"/>
<circle cx="126.21" cy="241.92" r="0.68" fill="#111"/>
<circle cx="126.52" cy="239.18" r="0.68" fill="#111"/>
<circle cx="126.70" cy="239.37" r="0.68" fill="#111"/>
<circle cx="126.38" cy="238.25" r="0.68" fill="#111"/>
<circle cx="126.62" cy="241.13" r="0.68" fill="#111"/>
<circle cx="128.18" cy="242.87" r="0.68" fill="#111"/>
<circle cx="127.72" cy="242.17" r="0.68" fill="#111"/>
<circle cx="126.52" cy="238.57" r="0.68" fill="#111"/>
<circle cx="127.32" cy="239.87" r="0.68" fill="#111"/>
<circle cx="126.95" cy="239.65" r="0.68" fill="#111"/>
<rect x="132.58" y="233.99" width="5.20" height="8.91" fill="#105284"/>
<line x1="135.18" y1="229.53" x2="135.18" y2="233.99" stroke="#555" stroke-width="0.6"/>
<line x1="133.58" y1="229.53" x2="136.78" y2="229.53" stroke="#555" stroke-width="0.6"/>
<circle cx="134.50" cy="227.98" r="0.68" fill="#111"/>
<circle cx="136.22" cy="231.20" r="0.68" fill="#111"/>
<circle cx="135.10" cy="227.62" r="0.68" fill="#111"/>
<circle cx="135.56" cy="225.92" r="0.68" fill="#111"/>
<circle cx="136.40" cy="240.20" r="0.68" fill="#111"/>
<circle cx="135.40" cy="232.73" r="0.68" fill="#111"/>
<circle cx="136.54" cy="239.29" r="0.68" fill="#111"/>
<circle cx="134.80" cy="233.36" r="0.68" fill="#111"/>
<circle cx="135.06" cy="234.86" r="0.68" fill="#111"/>
<circle cx="134.15" cy="242.43" r="0.68" fill="#111"/>
<circle cx="135.85" cy="233.48" r="0.68" fill="#111"/>
<rect x="140.36" y="225.38" width="5.20" height="17.52" fill="#105284"/>
<line x1="142.96" y1="212.01" x2="142.96" y2="225.38" stroke="#555" stroke-width="0.6"/>
<line x1="141.36" y1="212.01" x2="144.56" y2="212.01" stroke="#555" stroke-width="0.6"/>
<circle cx="144.70" cy="207.33" r="0.68" fill="#111"/>
<circle cx="141.78" cy="220.84" r="0.68" fill="#111"/>
<circle cx="142.04" cy="231.31" r="0.68" fill="#111"/>
<circle cx="144.32" cy="219.36" r="0.68" fill="#111"/>
<circle cx="144.48" cy="210.92" r="0.68" fill="#111"/>
<circle cx="142.25" cy="226.01" r="0.68" fill="#111"/>
<circle cx="142.67" cy="205.32" r="0.68" fill="#111"/>
<circle cx="141.41" cy="225.94" r="0.68" fill="#111"/>
<circle cx="144.23" cy="229.59" r="0.68" fill="#111"/>
<circle cx="143.27" cy="227.82" r="0.68" fill="#111"/>
<circle cx="143.63" cy="216.28" r="0.68" fill="#111"/>
<rect x="148.14" y="238.15" width="5.20" height="4.75" fill="#561e68"/>
<line x1="150.74" y1="236.37" x2="150.74" y2="238.15" stroke="#555" stroke-width="0.6"/>
<line x1="149.14" y1="236.37" x2="152.34" y2="236.37" stroke="#555" stroke-width="0.6"/>
<circle cx="150.50" cy="235.74" r="0.68" fill="#111"/>
<circle cx="150.69" cy="238.10" r="0.68" fill="#111"/>
<circle cx="152.47" cy="237.71" r="0.68" fill="#111"/>
<circle cx="150.33" cy="236.43" r="0.68" fill="#111"/>
<circle cx="149.88" cy="238.80" r="0.68" fill="#111"/>
<circle cx="151.37" cy="238.33" r="0.68" fill="#111"/>
<circle cx="152.29" cy="236.03" r="0.68" fill="#111"/>
<circle cx="149.21" cy="236.33" r="0.68" fill="#111"/>
<circle cx="151.78" cy="236.94" r="0.68" fill="#111"/>
<circle cx="151.72" cy="238.61" r="0.68" fill="#111"/>
<circle cx="151.33" cy="238.71" r="0.68" fill="#111"/>
<rect x="155.92" y="236.07" width="5.20" height="6.83" fill="#561e68"/>
<line x1="158.52" y1="232.50" x2="158.52" y2="236.07" stroke="#555" stroke-width="0.6"/>
<line x1="156.92" y1="232.50" x2="160.12" y2="232.50" stroke="#555" stroke-width="0.6"/>
<circle cx="159.68" cy="231.26" r="0.68" fill="#111"/>
<circle cx="160.27" cy="236.51" r="0.68" fill="#111"/>
<circle cx="159.18" cy="231.61" r="0.68" fill="#111"/>
<circle cx="158.50" cy="237.35" r="0.68" fill="#111"/>
<circle cx="157.96" cy="236.36" r="0.68" fill="#111"/>
<circle cx="158.77" cy="236.87" r="0.68" fill="#111"/>
<circle cx="157.31" cy="240.02" r="0.68" fill="#111"/>
<circle cx="157.30" cy="238.37" r="0.68" fill="#111"/>
<circle cx="160.00" cy="239.06" r="0.68" fill="#111"/>
<circle cx="160.16" cy="236.84" r="0.68" fill="#111"/>
<circle cx="157.16" cy="237.20" r="0.68" fill="#111"/>
<rect x="163.70" y="235.47" width="5.20" height="7.43" fill="#561e68"/>
<line x1="166.30" y1="231.91" x2="166.30" y2="235.47" stroke="#555" stroke-width="0.6"/>
<line x1="164.70" y1="231.91" x2="167.90" y2="231.91" stroke="#555" stroke-width="0.6"/>
<circle cx="166.67" cy="230.66" r="0.68" fill="#111"/>
<circle cx="166.51" cy="231.75" r="0.68" fill="#111"/>
<circle cx="165.59" cy="237.25" r="0.68" fill="#111"/>
<circle cx="165.07" cy="237.84" r="0.68" fill="#111"/>
<circle cx="167.27" cy="231.62" r="0.68" fill="#111"/>
<circle cx="166.46" cy="233.70" r="0.68" fill="#111"/>
<circle cx="165.41" cy="235.64" r="0.68" fill="#111"/>
<circle cx="165.86" cy="237.99" r="0.68" fill="#111"/>
<circle cx="166.32" cy="234.93" r="0.68" fill="#111"/>
<circle cx="165.34" cy="236.04" r="0.68" fill="#111"/>
<circle cx="165.66" cy="235.18" r="0.68" fill="#111"/>
<rect x="171.48" y="240.52" width="5.20" height="2.38" fill="#c41430"/>
<line x1="174.08" y1="239.93" x2="174.08" y2="240.52" stroke="#555" stroke-width="0.6"/>
<line x1="172.48" y1="239.93" x2="175.68" y2="239.93" stroke="#555" stroke-width="0.6"/>
<circle cx="173.71" cy="239.32" r="0.68" fill="#111"/>
<circle cx="173.52" cy="241.63" r="0.68" fill="#111"/>
<circle cx="175.40" cy="240.82" r="0.68" fill="#111"/>
<circle cx="172.56" cy="240.12" r="0.68" fill="#111"/>
<circle cx="172.61" cy="240.18" r="0.68" fill="#111"/>
<circle cx="172.88" cy="240.33" r="0.68" fill="#111"/>
<circle cx="172.90" cy="241.58" r="0.68" fill="#111"/>
<circle cx="175.28" cy="241.48" r="0.68" fill="#111"/>
<circle cx="175.03" cy="239.97" r="0.68" fill="#111"/>
<circle cx="173.69" cy="240.84" r="0.68" fill="#111"/>
<circle cx="172.92" cy="240.73" r="0.68" fill="#111"/>
<rect x="179.26" y="221.52" width="5.20" height="21.38" fill="#c41430"/>
<line x1="181.86" y1="212.61" x2="181.86" y2="221.52" stroke="#555" stroke-width="0.6"/>
<line x1="180.26" y1="212.61" x2="183.46" y2="212.61" stroke="#555" stroke-width="0.6"/>
<circle cx="180.73" cy="209.49" r="0.68" fill="#111"/>
<circle cx="180.91" cy="223.01" r="0.68" fill="#111"/>
<circle cx="183.01" cy="221.19" r="0.68" fill="#111"/>
<circle cx="183.35" cy="223.14" r="0.68" fill="#111"/>
<circle cx="182.06" cy="215.28" r="0.68" fill="#111"/>
<circle cx="182.18" cy="223.57" r="0.68" fill="#111"/>
<circle cx="182.57" cy="233.77" r="0.68" fill="#111"/>
<circle cx="181.10" cy="235.18" r="0.68" fill="#111"/>
<circle cx="182.25" cy="216.62" r="0.68" fill="#111"/>
<circle cx="182.72" cy="227.44" r="0.68" fill="#111"/>
<circle cx="182.48" cy="210.05" r="0.68" fill="#111"/>
<rect x="187.04" y="216.17" width="5.20" height="26.73" fill="#c41430"/>
<line x1="189.64" y1="205.48" x2="189.64" y2="216.17" stroke="#555" stroke-width="0.6"/>
<line x1="188.04" y1="205.48" x2="191.24" y2="205.48" stroke="#555" stroke-width="0.6"/>
<circle cx="189.61" cy="201.74" r="0.68" fill="#111"/>
<circle cx="188.48" cy="224.98" r="0.68" fill="#111"/>
<circle cx="189.75" cy="217.49" r="0.68" fill="#111"/>
<circle cx="190.19" cy="206.98" r="0.68" fill="#111"/>
<circle cx="189.43" cy="213.99" r="0.68" fill="#111"/>
<circle cx="191.13" cy="234.72" r="0.68" fill="#111"/>
<circle cx="188.26" cy="224.34" r="0.68" fill="#111"/>
<circle cx="187.93" cy="213.22" r="0.68" fill="#111"/>
<circle cx="189.11" cy="226.98" r="0.68" fill="#111"/>
<circle cx="189.79" cy="215.83" r="0.68" fill="#111"/>
<circle cx="191.27" cy="212.96" r="0.68" fill="#111"/>
<rect x="194.82" y="237.55" width="5.20" height="5.35" fill="#2eba46"/>
<line x1="197.42" y1="235.77" x2="197.42" y2="237.55" stroke="#555" stroke-width="0.6"/>
<line x1="195.82" y1="235.77" x2="199.02" y2="235.77" stroke="#555" stroke-width="0.6"/>
<circle cx="198.16" cy="235.15" r="0.68" fill="#111"/>
<circle cx="196.03" cy="235.13" r="0.68" fill="#111"/>
<circle cx="199.04" cy="236.41" r="0.68" fill="#111"/>
<circle cx="198.24" cy="238.96" r="0.68" fill="#111"/>
<circle cx="198.59" cy="237.63" r="0.68" fill="#111"/>
<circle cx="199.06" cy="238.78" r="0.68" fill="#111"/>
<circle cx="198.40" cy="236.63" r="0.68" fill="#111"/>
<circle cx="197.36" cy="238.65" r="0.68" fill="#111"/>
<circle cx="195.82" cy="237.25" r="0.68" fill="#111"/>
<circle cx="196.28" cy="237.30" r="0.68" fill="#111"/>
<circle cx="198.18" cy="236.72" r="0.68" fill="#111"/>
<rect x="202.60" y="236.66" width="5.20" height="6.24" fill="#2eba46"/>
<line x1="205.20" y1="236.07" x2="205.20" y2="236.66" stroke="#555" stroke-width="0.6"/>
<line x1="203.60" y1="236.07" x2="206.80" y2="236.07" stroke="#555" stroke-width="0.6"/>
<circle cx="205.34" cy="235.46" r="0.68" fill="#111"/>
<circle cx="204.46" cy="237.56" r="0.68" fill="#111"/>
<circle cx="205.06" cy="236.19" r="0.68" fill="#111"/>
<circle cx="203.99" cy="236.63" r="0.68" fill="#111"/>
<circle cx="206.72" cy="237.37" r="0.68" fill="#111"/>
<circle cx="204.71" cy="236.79" r="0.68" fill="#111"/>
<circle cx="205.31" cy="237.32" r="0.68" fill="#111"/>
<circle cx="203.31" cy="237.07" r="0.68" fill="#111"/>
<circle cx="204.09" cy="236.95" r="0.68" fill="#111"/>
<circle cx="205.05" cy="236.58" r="0.68" fill="#111"/>
<circle cx="204.04" cy="237.05" r="0.68" fill="#111"/>
<rect x="210.38" y="234.29" width="5.20" height="8.61" fill="#2eba46"/>
<line x1="212.98" y1="232.50" x2="212.98" y2="234.29" stroke="#555" stroke-width="0.6"/>
<line x1="211.38" y1="232.50" x2="214.58" y2="232.50" stroke="#555" stroke-width="0.6"/>
<circle cx="212.61" cy="231.88" r="0.68" fill="#111"/>
<circle cx="211.72" cy="233.50" r="0.68" fill="#111"/>
<circle cx="211.72" cy="233.65" r="0.68" fill="#111"/>
<circle cx="212.94" cy="234.18" r="0.68" fill="#111"/>
<circle cx="212.78" cy="234.02" r="0.68" fill="#111"/>
<circle cx="212.63" cy="234.18" r="0.68" fill="#111"/>
<circle cx="212.61" cy="234.41" r="0.68" fill="#111"/>
<circle cx="212.59" cy="234.70" r="0.68" fill="#111"/>
<circle cx="211.91" cy="230.87" r="0.68" fill="#111"/>
<circle cx="211.44" cy="233.71" r="0.68" fill="#111"/>
<circle cx="213.45" cy="235.08" r="0.68" fill="#111"/>
<rect x="218.16" y="237.26" width="5.20" height="5.64" fill="#046a4e"/>
<line x1="220.76" y1="234.29" x2="220.76" y2="237.26" stroke="#555" stroke-width="0.6"/>
<line x1="219.16" y1="234.29" x2="222.36" y2="234.29" stroke="#555" stroke-width="0.6"/>
<circle cx="220.18" cy="233.25" r="0.68" fill="#111"/>
<circle cx="221.63" cy="236.74" r="0.68" fill="#111"/>
<circle cx="219.91" cy="236.75" r="0.68" fill="#111"/>
<circle cx="222.41" cy="236.67" r="0.68" fill="#111"/>
<circle cx="220.00" cy="239.68" r="0.68" fill="#111"/>
<circle cx="221.96" cy="237.26" r="0.68" fill="#111"/>
<circle cx="221.25" cy="235.51" r="0.68" fill="#111"/>
<circle cx="221.45" cy="237.81" r="0.68" fill="#111"/>
<circle cx="222.54" cy="236.44" r="0.68" fill="#111"/>
<circle cx="218.98" cy="237.42" r="0.68" fill="#111"/>
<circle cx="219.20" cy="237.36" r="0.68" fill="#111"/>
<rect x="225.94" y="233.99" width="5.20" height="8.91" fill="#046a4e"/>
<line x1="228.54" y1="231.61" x2="228.54" y2="233.99" stroke="#555" stroke-width="0.6"/>
<line x1="226.94" y1="231.61" x2="230.14" y2="231.61" stroke="#555" stroke-width="0.6"/>
<circle cx="226.84" cy="230.78" r="0.68" fill="#111"/>
<circle cx="229.13" cy="233.56" r="0.68" fill="#111"/>
<circle cx="230.34" cy="233.02" r="0.68" fill="#111"/>
<circle cx="228.45" cy="234.69" r="0.68" fill="#111"/>
<circle cx="230.21" cy="232.68" r="0.68" fill="#111"/>
<circle cx="226.77" cy="237.75" r="0.68" fill="#111"/>
<circle cx="230.24" cy="234.81" r="0.68" fill="#111"/>
<circle cx="226.97" cy="231.70" r="0.68" fill="#111"/>
<circle cx="227.08" cy="234.93" r="0.68" fill="#111"/>
<circle cx="228.12" cy="230.65" r="0.68" fill="#111"/>
<circle cx="230.17" cy="235.35" r="0.68" fill="#111"/>
<rect x="233.72" y="238.15" width="5.20" height="4.75" fill="#046a4e"/>
<line x1="236.32" y1="235.18" x2="236.32" y2="238.15" stroke="#555" stroke-width="0.6"/>
<line x1="234.72" y1="235.18" x2="237.92" y2="235.18" stroke="#555" stroke-width="0.6"/>
<circle cx="235.08" cy="234.14" r="0.68" fill="#111"/>
<circle cx="237.60" cy="238.38" r="0.68" fill="#111"/>
<circle cx="236.52" cy="241.77" r="0.68" fill="#111"/>
<circle cx="236.00" cy="236.27" r="0.68" fill="#111"/>
<circle cx="235.29" cy="239.13" r="0.68" fill="#111"/>
<circle cx="235.44" cy="237.68" r="0.68" fill="#111"/>
<circle cx="235.07" cy="240.65" r="0.68" fill="#111"/>
<circle cx="237.12" cy="238.71" r="0.68" fill="#111"/>
<circle cx="235.89" cy="241.14" r="0.68" fill="#111"/>
<circle cx="237.12" cy="239.43" r="0.68" fill="#111"/>
<circle cx="234.51" cy="238.04" r="0.68" fill="#111"/>
<line x1="121.70" y1="242.90" x2="241.80" y2="242.90" stroke="#231f20" stroke-width="1.3"/>
<line x1="127.40" y1="242.90" x2="127.40" y2="245.50" stroke="#231f20" stroke-width="0.9"/>
<line x1="135.18" y1="242.90" x2="135.18" y2="245.50" stroke="#231f20" stroke-width="0.9"/>
<line x1="142.96" y1="242.90" x2="142.96" y2="245.50" stroke="#231f20" stroke-width="0.9"/>
<line x1="150.74" y1="242.90" x2="150.74" y2="245.50" stroke="#231f20" stroke-width="0.9"/>
<line x1="158.52" y1="242.90" x2="158.52" y2="245.50" stroke="#231f20" stroke-width="0.9"/>
<line x1="166.30" y1="242.90" x2="166.30" y2="245.50" stroke="#231f20" stroke-width="0.9"/>
<line x1="174.08" y1="242.90" x2="174.08" y2="245.50" stroke="#231f20" stroke-width="0.9"/>
<line x1="181.86" y1="242.90" x2="181.86" y2="245.50" stroke="#231f20" stroke-width="0.9"/>
<line x1="189.64" y1="242.90" x2="189.64" y2="245.50" stroke="#231f20" stroke-width="0.9"/>
<line x1="197.42" y1="242.90" x2="197.42" y2="245.50" stroke="#231f20" stroke-width="0.9"/>
<line x1="205.20" y1="242.90" x2="205.20" y2="245.50" stroke="#231f20" stroke-width="0.9"/>
<line x1="212.98" y1="242.90" x2="212.98" y2="245.50" stroke="#231f20" stroke-width="0.9"/>
<line x1="220.76" y1="242.90" x2="220.76" y2="245.50" stroke="#231f20" stroke-width="0.9"/>
<line x1="228.54" y1="242.90" x2="228.54" y2="245.50" stroke="#231f20" stroke-width="0.9"/>
<line x1="236.32" y1="242.90" x2="236.32" y2="245.50" stroke="#231f20" stroke-width="0.9"/>
<text x="127.40" y="251.60" font-size="5.2" text-anchor="middle" fill="#333" stroke="#333" stroke-width="0.15">+</text>
<text x="127.40" y="257.80" font-size="5.2" text-anchor="middle" fill="#333" stroke="#333" stroke-width="0.15">–</text>
<text x="127.40" y="263.70" font-size="5.2" text-anchor="middle" fill="#333" stroke="#333" stroke-width="0.15">–</text>
<text x="135.18" y="251.60" font-size="5.2" text-anchor="middle" fill="#333" stroke="#333" stroke-width="0.15">–</text>
<text x="135.18" y="257.80" font-size="5.2" text-anchor="middle" fill="#333" stroke="#333" stroke-width="0.15">+</text>
<text x="135.18" y="263.70" font-size="5.2" text-anchor="middle" fill="#333" stroke="#333" stroke-width="0.15">–</text>
<text x="142.96" y="251.60" font-size="5.2" text-anchor="middle" fill="#333" stroke="#333" stroke-width="0.15">–</text>
<text x="142.96" y="257.80" font-size="5.2" text-anchor="middle" fill="#333" stroke="#333" stroke-width="0.15">–</text>
<text x="142.96" y="263.70" font-size="5.2" text-anchor="middle" fill="#333" stroke="#333" stroke-width="0.15">+</text>
<text x="150.74" y="251.60" font-size="5.2" text-anchor="middle" fill="#333" stroke="#333" stroke-width="0.15">+</text>
<text x="150.74" y="257.80" font-size="5.2" text-anchor="middle" fill="#333" stroke="#333" stroke-width="0.15">–</text>
<text x="150.74" y="263.70" font-size="5.2" text-anchor="middle" fill="#333" stroke="#333" stroke-width="0.15">–</text>
<text x="158.52" y="251.60" font-size="5.2" text-anchor="middle" fill="#333" stroke="#333" stroke-width="0.15">–</text>
<text x="158.52" y="257.80" font-size="5.2" text-anchor="middle" fill="#333" stroke="#333" stroke-width="0.15">+</text>
<text x="158.52" y="263.70" font-size="5.2" text-anchor="middle" fill="#333" stroke="#333" stroke-width="0.15">–</text>
<text x="166.30" y="251.60" font-size="5.2" text-anchor="middle" fill="#333" stroke="#333" stroke-width="0.15">–</text>
<text x="166.30" y="257.80" font-size="5.2" text-anchor="middle" fill="#333" stroke="#333" stroke-width="0.15">–</text>
<text x="166.30" y="263.70" font-size="5.2" text-anchor="middle" fill="#333" stroke="#333" stroke-width="0.15">+</text>
<text x="174.08" y="251.60" font-size="5.2" text-anchor="middle" fill="#333" stroke="#333" stroke-width="0.15">+</text>
<text x="174.08" y="257.80" font-size="5.2" text-anchor="middle" fill="#333" stroke="#333" stroke-width="0.15">–</text>
<text x="174.08" y="263.70" font-size="5.2" text-anchor="middle" fill="#333" stroke="#333" stroke-width="0.15">–</text>
<text x="181.86" y="251.60" font-size="5.2" text-anchor="middle" fill="#333" stroke="#333" stroke-width="0.15">–</text>
<text x="181.86" y="257.80" font-size="5.2" text-anchor="middle" fill="#333" stroke="#333" stroke-width="0.15">+</text>
<text x="181.86" y="263.70" font-size="5.2" text-anchor="middle" fill="#333" stroke="#333" stroke-width="0.15">–</text>
<text x="189.64" y="251.60" font-size="5.2" text-anchor="middle" fill="#333" stroke="#333" stroke-width="0.15">–</text>
<text x="189.64" y="257.80" font-size="5.2" text-anchor="middle" fill="#333" stroke="#333" stroke-width="0.15">–</text>
<text x="189.64" y="263.70" font-size="5.2" text-anchor="middle" fill="#333" stroke="#333" stroke-width="0.15">+</text>
<text x="197.42" y="251.60" font-size="5.2" text-anchor="middle" fill="#333" stroke="#333" stroke-width="0.15">+</text>
<text x="197.42" y="257.80" font-size="5.2" text-anchor="middle" fill="#333" stroke="#333" stroke-width="0.15">–</text>
<text x="197.42" y="263.70" font-size="5.2" text-anchor="middle" fill="#333" stroke="#333" stroke-width="0.15">–</text>
<text x="205.20" y="251.60" font-size="5.2" text-anchor="middle" fill="#333" stroke="#333" stroke-width="0.15">–</text>
<text x="205.20" y="257.80" font-size="5.2" text-anchor="middle" fill="#333" stroke="#333" stroke-width="0.15">+</text>
<text x="205.20" y="263.70" font-size="5.2" text-anchor="middle" fill="#333" stroke="#333" stroke-width="0.15">–</text>
<text x="212.98" y="251.60" font-size="5.2" text-anchor="middle" fill="#333" stroke="#333" stroke-width="0.15">–</text>
<text x="212.98" y="257.80" font-size="5.2" text-anchor="middle" fill="#333" stroke="#333" stroke-width="0.15">–</text>
<text x="212.98" y="263.70" font-size="5.2" text-anchor="middle" fill="#333" stroke="#333" stroke-width="0.15">+</text>
<text x="220.76" y="251.60" font-size="5.2" text-anchor="middle" fill="#333" stroke="#333" stroke-width="0.15">+</text>
<text x="220.76" y="257.80" font-size="5.2" text-anchor="middle" fill="#333" stroke="#333" stroke-width="0.15">–</text>
<text x="220.76" y="263.70" font-size="5.2" text-anchor="middle" fill="#333" stroke="#333" stroke-width="0.15">–</text>
<text x="228.54" y="251.60" font-size="5.2" text-anchor="middle" fill="#333" stroke="#333" stroke-width="0.15">–</text>
<text x="228.54" y="257.80" font-size="5.2" text-anchor="middle" fill="#333" stroke="#333" stroke-width="0.15">+</text>
<text x="228.54" y="263.70" font-size="5.2" text-anchor="middle" fill="#333" stroke="#333" stroke-width="0.15">–</text>
<text x="236.32" y="251.60" font-size="5.2" text-anchor="middle" fill="#333" stroke="#333" stroke-width="0.15">–</text>
<text x="236.32" y="257.80" font-size="5.2" text-anchor="middle" fill="#333" stroke="#333" stroke-width="0.15">–</text>
<text x="236.32" y="263.70" font-size="5.2" text-anchor="middle" fill="#333" stroke="#333" stroke-width="0.15">+</text>
<line x1="124.00" y1="265.50" x2="145.00" y2="265.50" stroke="#666" stroke-width="1.2"/>
<text x="134.50" y="273.00" font-size="6.6" text-anchor="middle" fill="#333" textLength="12.6" lengthAdjust="spacingAndGlyphs" stroke="#333" stroke-width="0.15">2mo</text>
<line x1="147.34" y1="265.50" x2="168.34" y2="265.50" stroke="#666" stroke-width="1.2"/>
<text x="157.84" y="273.00" font-size="6.6" text-anchor="middle" fill="#333" textLength="6.0" lengthAdjust="spacingAndGlyphs" stroke="#333" stroke-width="0.15">1y</text>
<line x1="170.68" y1="265.50" x2="191.68" y2="265.50" stroke="#666" stroke-width="1.2"/>
<text x="181.18" y="273.00" font-size="6.6" text-anchor="middle" fill="#333" textLength="6.0" lengthAdjust="spacingAndGlyphs" stroke="#333" stroke-width="0.15">2y</text>
<line x1="194.02" y1="265.50" x2="215.02" y2="265.50" stroke="#666" stroke-width="1.2"/>
<text x="204.52" y="273.00" font-size="6.6" text-anchor="middle" fill="#333" textLength="12.6" lengthAdjust="spacingAndGlyphs" stroke="#333" stroke-width="0.15">2mo</text>
<line x1="217.36" y1="265.50" x2="238.36" y2="265.50" stroke="#666" stroke-width="1.2"/>
<text x="227.86" y="273.00" font-size="6.6" text-anchor="middle" fill="#333" textLength="6.0" lengthAdjust="spacingAndGlyphs" stroke="#333" stroke-width="0.15">1y</text>
<line x1="124.00" y1="275.20" x2="193.00" y2="275.20" stroke="#666" stroke-width="1.3"/>
<text x="158.50" y="282.50" font-size="6.6" text-anchor="middle" fill="#333" textLength="24" lengthAdjust="spacingAndGlyphs" stroke="#333" stroke-width="0.15">WT, SPF</text>
<line x1="196.60" y1="275.20" x2="240.80" y2="275.20" stroke="#666" stroke-width="1.3"/>
<text x="219.20" y="282.50" font-size="6.6" text-anchor="middle" fill="#333" textLength="21.5" lengthAdjust="spacingAndGlyphs" stroke="#333" stroke-width="0.15">WT, GF</text>
<text x="122.80" y="251.70" font-size="5.6" text-anchor="end" fill="#333" textLength="35.1" lengthAdjust="spacingAndGlyphs" stroke="#333" stroke-width="0.15">PBS 10h &amp; 24h</text>
<text x="122.80" y="257.90" font-size="5.6" text-anchor="end" fill="#333" textLength="27.3" lengthAdjust="spacingAndGlyphs" stroke="#333" stroke-width="0.15">LPS for 10h</text>
<text x="122.80" y="263.80" font-size="5.6" text-anchor="end" fill="#333" textLength="27.3" lengthAdjust="spacingAndGlyphs" stroke="#333" stroke-width="0.15">LPS for 24h</text>
<text x="105.60" y="213.10" font-size="7.4" text-anchor="middle" fill="#333" textLength="16.2" lengthAdjust="spacingAndGlyphs" transform="rotate(-90 105.60 213.10)" stroke="#333" stroke-width="0.15">pg/ml</text>
<line x1="143.10" y1="178.90" x2="190.00" y2="178.90" stroke="#555" stroke-width="1.25"/>
<circle cx="144.40" cy="176.30" r="0.85" fill="#1a1a1a"/>
<line x1="125.80" y1="195.80" x2="142.80" y2="195.80" stroke="#555" stroke-width="1.25"/>
<circle cx="127.10" cy="193.20" r="0.85" fill="#1a1a1a"/>
<circle cx="129.85" cy="193.20" r="0.85" fill="#1a1a1a"/>
<line x1="148.90" y1="195.80" x2="165.80" y2="195.80" stroke="#555" stroke-width="1.25"/>
<circle cx="150.20" cy="193.20" r="0.85" fill="#1a1a1a"/>
<line x1="173.10" y1="184.90" x2="190.00" y2="184.90" stroke="#555" stroke-width="1.25"/>
<circle cx="174.40" cy="182.30" r="0.85" fill="#1a1a1a"/>
<circle cx="177.15" cy="182.30" r="0.85" fill="#1a1a1a"/>
<circle cx="179.90" cy="182.30" r="0.85" fill="#1a1a1a"/>
<circle cx="182.65" cy="182.30" r="0.85" fill="#1a1a1a"/>
<line x1="173.10" y1="195.40" x2="181.20" y2="195.40" stroke="#555" stroke-width="1.25"/>
<circle cx="174.40" cy="192.80" r="0.85" fill="#1a1a1a"/>
<circle cx="177.15" cy="192.80" r="0.85" fill="#1a1a1a"/>
<circle cx="179.90" cy="192.80" r="0.85" fill="#1a1a1a"/>
<circle cx="182.65" cy="192.80" r="0.85" fill="#1a1a1a"/>
<text x="316.70" y="168.80" font-size="7.4" text-anchor="middle" fill="#231f20" textLength="39.1" lengthAdjust="spacing" stroke="#231f20" stroke-width="0.15">Gran, IL-1a</text>
<line x1="257.30" y1="183.50" x2="257.30" y2="243.40" stroke="#231f20" stroke-width="1.1"/>
<line x1="254.50" y1="242.90" x2="257.30" y2="242.90" stroke="#231f20" stroke-width="1"/>
<text x="253.00" y="245.00" font-size="6.0" text-anchor="end" fill="#231f20" textLength="4.0" lengthAdjust="spacingAndGlyphs" stroke="#231f20" stroke-width="0.15">0</text>
<line x1="254.50" y1="228.05" x2="257.30" y2="228.05" stroke="#231f20" stroke-width="1"/>
<text x="253.00" y="230.15" font-size="6.0" text-anchor="end" fill="#231f20" textLength="4.0" lengthAdjust="spacingAndGlyphs" stroke="#231f20" stroke-width="0.15">5</text>
<line x1="254.50" y1="213.20" x2="257.30" y2="213.20" stroke="#231f20" stroke-width="1"/>
<text x="253.00" y="215.30" font-size="6.0" text-anchor="end" fill="#231f20" textLength="8.0" lengthAdjust="spacingAndGlyphs" stroke="#231f20" stroke-width="0.15">10</text>
<line x1="254.50" y1="198.35" x2="257.30" y2="198.35" stroke="#231f20" stroke-width="1"/>
<text x="253.00" y="200.45" font-size="6.0" text-anchor="end" fill="#231f20" textLength="8.0" lengthAdjust="spacingAndGlyphs" stroke="#231f20" stroke-width="0.15">15</text>
<line x1="254.50" y1="183.50" x2="257.30" y2="183.50" stroke="#231f20" stroke-width="1"/>
<text x="253.00" y="185.60" font-size="6.0" text-anchor="end" fill="#231f20" textLength="8.0" lengthAdjust="spacingAndGlyphs" stroke="#231f20" stroke-width="0.15">20</text>
<line x1="282.12" y1="182.00" x2="282.12" y2="242.90" stroke="#111" stroke-width="1.0" stroke-dasharray="1.1 2.07"/>
<line x1="305.44" y1="182.00" x2="305.44" y2="242.90" stroke="#111" stroke-width="1.0" stroke-dasharray="1.1 2.07"/>
<line x1="328.75" y1="182.00" x2="328.75" y2="242.90" stroke="#111" stroke-width="1.0" stroke-dasharray="1.1 2.07"/>
<line x1="352.05" y1="182.00" x2="352.05" y2="242.90" stroke="#111" stroke-width="1.0" stroke-dasharray="1.1 2.07"/>
<rect x="260.10" y="239.04" width="5.20" height="3.86" fill="#105284"/>
<line x1="262.70" y1="236.07" x2="262.70" y2="239.04" stroke="#555" stroke-width="0.6"/>
<line x1="261.10" y1="236.07" x2="264.30" y2="236.07" stroke="#555" stroke-width="0.6"/>
<circle cx="263.37" cy="235.03" r="0.68" fill="#111"/>
<circle cx="261.17" cy="238.26" r="0.68" fill="#111"/>
<circle cx="263.24" cy="238.69" r="0.68" fill="#111"/>
<circle cx="264.14" cy="234.76" r="0.68" fill="#111"/>
<circle cx="264.21" cy="237.35" r="0.68" fill="#111"/>
<circle cx="263.58" cy="240.79" r="0.68" fill="#111"/>
<circle cx="261.07" cy="240.11" r="0.68" fill="#111"/>
<circle cx="262.32" cy="237.19" r="0.68" fill="#111"/>
<circle cx="262.96" cy="238.03" r="0.68" fill="#111"/>
<circle cx="261.22" cy="239.33" r="0.68" fill="#111"/>
<circle cx="261.71" cy="236.22" r="0.68" fill="#111"/>
<rect x="267.87" y="236.96" width="5.20" height="5.94" fill="#105284"/>
<line x1="270.47" y1="234.58" x2="270.47" y2="236.96" stroke="#555" stroke-width="0.6"/>
<line x1="268.87" y1="234.58" x2="272.07" y2="234.58" stroke="#555" stroke-width="0.6"/>
<circle cx="268.76" cy="233.75" r="0.68" fill="#111"/>
<circle cx="270.80" cy="235.49" r="0.68" fill="#111"/>
<circle cx="268.61" cy="234.86" r="0.68" fill="#111"/>
<circle cx="269.41" cy="236.37" r="0.68" fill="#111"/>
<circle cx="270.71" cy="232.34" r="0.68" fill="#111"/>
<circle cx="270.87" cy="239.68" r="0.68" fill="#111"/>
<circle cx="271.57" cy="235.46" r="0.68" fill="#111"/>
<circle cx="269.24" cy="238.08" r="0.68" fill="#111"/>
<circle cx="268.87" cy="237.21" r="0.68" fill="#111"/>
<circle cx="268.66" cy="236.56" r="0.68" fill="#111"/>
<circle cx="272.24" cy="237.73" r="0.68" fill="#111"/>
<rect x="275.64" y="230.72" width="5.20" height="12.18" fill="#105284"/>
<line x1="278.24" y1="220.62" x2="278.24" y2="230.72" stroke="#555" stroke-width="0.6"/>
<line x1="276.64" y1="220.62" x2="279.84" y2="220.62" stroke="#555" stroke-width="0.6"/>
<circle cx="276.67" cy="217.09" r="0.68" fill="#111"/>
<circle cx="278.11" cy="215.51" r="0.68" fill="#111"/>
<circle cx="278.68" cy="228.30" r="0.68" fill="#111"/>
<circle cx="278.78" cy="216.69" r="0.68" fill="#111"/>
<circle cx="277.65" cy="229.62" r="0.68" fill="#111"/>
<circle cx="278.63" cy="241.96" r="0.68" fill="#111"/>
<circle cx="279.51" cy="234.18" r="0.68" fill="#111"/>
<circle cx="278.60" cy="229.49" r="0.68" fill="#111"/>
<circle cx="278.39" cy="228.69" r="0.68" fill="#111"/>
<circle cx="278.10" cy="235.45" r="0.68" fill="#111"/>
<circle cx="277.66" cy="231.14" r="0.68" fill="#111"/>
<rect x="283.41" y="238.44" width="5.20" height="4.46" fill="#561e68"/>
<line x1="286.01" y1="235.47" x2="286.01" y2="238.44" stroke="#555" stroke-width="0.6"/>
<line x1="284.41" y1="235.47" x2="287.61" y2="235.47" stroke="#555" stroke-width="0.6"/>
<circle cx="285.95" cy="234.44" r="0.68" fill="#111"/>
<circle cx="286.90" cy="235.90" r="0.68" fill="#111"/>
<circle cx="285.72" cy="237.22" r="0.68" fill="#111"/>
<circle cx="284.92" cy="240.26" r="0.68" fill="#111"/>
<circle cx="285.44" cy="240.89" r="0.68" fill="#111"/>
<circle cx="285.75" cy="236.43" r="0.68" fill="#111"/>
<circle cx="284.43" cy="238.50" r="0.68" fill="#111"/>
<circle cx="287.65" cy="238.18" r="0.68" fill="#111"/>
<circle cx="286.87" cy="237.13" r="0.68" fill="#111"/>
<circle cx="286.44" cy="233.83" r="0.68" fill="#111"/>
<circle cx="287.65" cy="242.85" r="0.68" fill="#111"/>
<rect x="291.18" y="233.40" width="5.20" height="9.50" fill="#561e68"/>
<line x1="293.78" y1="226.86" x2="293.78" y2="233.40" stroke="#555" stroke-width="0.6"/>
<line x1="292.18" y1="226.86" x2="295.38" y2="226.86" stroke="#555" stroke-width="0.6"/>
<circle cx="295.48" cy="224.58" r="0.68" fill="#111"/>
<circle cx="295.31" cy="234.53" r="0.68" fill="#111"/>
<circle cx="294.82" cy="228.04" r="0.68" fill="#111"/>
<circle cx="293.43" cy="235.15" r="0.68" fill="#111"/>
<circle cx="292.99" cy="222.38" r="0.68" fill="#111"/>
<circle cx="295.43" cy="233.58" r="0.68" fill="#111"/>
<circle cx="294.62" cy="232.52" r="0.68" fill="#111"/>
<circle cx="293.00" cy="231.38" r="0.68" fill="#111"/>
<circle cx="292.03" cy="240.34" r="0.68" fill="#111"/>
<circle cx="294.71" cy="234.25" r="0.68" fill="#111"/>
<circle cx="293.19" cy="234.24" r="0.68" fill="#111"/>
<rect x="298.95" y="234.88" width="5.20" height="8.02" fill="#561e68"/>
<line x1="301.55" y1="230.43" x2="301.55" y2="234.88" stroke="#555" stroke-width="0.6"/>
<line x1="299.95" y1="230.43" x2="303.15" y2="230.43" stroke="#555" stroke-width="0.6"/>
<circle cx="302.47" cy="228.87" r="0.68" fill="#111"/>
<circle cx="300.04" cy="234.94" r="0.68" fill="#111"/>
<circle cx="300.79" cy="237.63" r="0.68" fill="#111"/>
<circle cx="300.23" cy="236.02" r="0.68" fill="#111"/>
<circle cx="302.55" cy="234.17" r="0.68" fill="#111"/>
<circle cx="303.37" cy="237.68" r="0.68" fill="#111"/>
<circle cx="302.98" cy="242.69" r="0.68" fill="#111"/>
<circle cx="300.84" cy="236.26" r="0.68" fill="#111"/>
<circle cx="301.41" cy="233.46" r="0.68" fill="#111"/>
<circle cx="301.02" cy="239.00" r="0.68" fill="#111"/>
<circle cx="302.89" cy="235.56" r="0.68" fill="#111"/>
<rect x="306.72" y="239.04" width="5.20" height="3.86" fill="#c41430"/>
<line x1="309.32" y1="237.26" x2="309.32" y2="239.04" stroke="#555" stroke-width="0.6"/>
<line x1="307.72" y1="237.26" x2="310.92" y2="237.26" stroke="#555" stroke-width="0.6"/>
<circle cx="310.79" cy="236.63" r="0.68" fill="#111"/>
<circle cx="310.49" cy="237.58" r="0.68" fill="#111"/>
<circle cx="310.49" cy="239.33" r="0.68" fill="#111"/>
<circle cx="307.46" cy="238.09" r="0.68" fill="#111"/>
<circle cx="309.46" cy="237.92" r="0.68" fill="#111"/>
<circle cx="308.05" cy="237.83" r="0.68" fill="#111"/>
<circle cx="310.35" cy="238.18" r="0.68" fill="#111"/>
<circle cx="309.19" cy="238.76" r="0.68" fill="#111"/>
<circle cx="311.14" cy="236.71" r="0.68" fill="#111"/>
<circle cx="307.55" cy="239.34" r="0.68" fill="#111"/>
<circle cx="309.06" cy="238.95" r="0.68" fill="#111"/>
<rect x="314.49" y="234.58" width="5.20" height="8.32" fill="#c41430"/>
<line x1="317.09" y1="231.61" x2="317.09" y2="234.58" stroke="#555" stroke-width="0.6"/>
<line x1="315.49" y1="231.61" x2="318.69" y2="231.61" stroke="#555" stroke-width="0.6"/>
<circle cx="316.48" cy="230.57" r="0.68" fill="#111"/>
<circle cx="315.55" cy="231.93" r="0.68" fill="#111"/>
<circle cx="316.37" cy="233.70" r="0.68" fill="#111"/>
<circle cx="316.78" cy="234.51" r="0.68" fill="#111"/>
<circle cx="316.18" cy="230.57" r="0.68" fill="#111"/>
<circle cx="317.57" cy="232.31" r="0.68" fill="#111"/>
<circle cx="317.76" cy="233.94" r="0.68" fill="#111"/>
<circle cx="316.13" cy="231.13" r="0.68" fill="#111"/>
<circle cx="315.71" cy="236.70" r="0.68" fill="#111"/>
<circle cx="317.12" cy="234.38" r="0.68" fill="#111"/>
<circle cx="318.35" cy="238.51" r="0.68" fill="#111"/>
<rect x="322.26" y="221.52" width="5.20" height="21.38" fill="#c41430"/>
<line x1="324.86" y1="208.75" x2="324.86" y2="221.52" stroke="#555" stroke-width="0.6"/>
<line x1="323.26" y1="208.75" x2="326.46" y2="208.75" stroke="#555" stroke-width="0.6"/>
<circle cx="323.60" cy="204.28" r="0.68" fill="#111"/>
<circle cx="323.02" cy="224.00" r="0.68" fill="#111"/>
<circle cx="326.40" cy="234.22" r="0.68" fill="#111"/>
<circle cx="324.74" cy="237.50" r="0.68" fill="#111"/>
<circle cx="326.05" cy="232.66" r="0.68" fill="#111"/>
<circle cx="325.25" cy="240.49" r="0.68" fill="#111"/>
<circle cx="323.61" cy="231.46" r="0.68" fill="#111"/>
<circle cx="323.66" cy="215.59" r="0.68" fill="#111"/>
<circle cx="325.04" cy="233.56" r="0.68" fill="#111"/>
<circle cx="324.51" cy="241.14" r="0.68" fill="#111"/>
<circle cx="326.01" cy="227.82" r="0.68" fill="#111"/>
<rect x="330.03" y="239.04" width="5.20" height="3.86" fill="#2eba46"/>
<line x1="332.63" y1="236.66" x2="332.63" y2="239.04" stroke="#555" stroke-width="0.6"/>
<line x1="331.03" y1="236.66" x2="334.23" y2="236.66" stroke="#555" stroke-width="0.6"/>
<circle cx="332.45" cy="235.83" r="0.68" fill="#111"/>
<circle cx="331.93" cy="238.04" r="0.68" fill="#111"/>
<circle cx="332.71" cy="239.30" r="0.68" fill="#111"/>
<circle cx="333.87" cy="242.00" r="0.68" fill="#111"/>
<circle cx="334.27" cy="237.21" r="0.68" fill="#111"/>
<circle cx="332.91" cy="239.38" r="0.68" fill="#111"/>
<circle cx="332.82" cy="239.33" r="0.68" fill="#111"/>
<circle cx="333.43" cy="240.48" r="0.68" fill="#111"/>
<circle cx="334.19" cy="238.93" r="0.68" fill="#111"/>
<circle cx="332.14" cy="236.92" r="0.68" fill="#111"/>
<circle cx="332.69" cy="237.45" r="0.68" fill="#111"/>
<rect x="337.80" y="233.99" width="5.20" height="8.91" fill="#2eba46"/>
<line x1="340.40" y1="232.21" x2="340.40" y2="233.99" stroke="#555" stroke-width="0.6"/>
<line x1="338.80" y1="232.21" x2="342.00" y2="232.21" stroke="#555" stroke-width="0.6"/>
<circle cx="340.95" cy="231.58" r="0.68" fill="#111"/>
<circle cx="339.24" cy="236.06" r="0.68" fill="#111"/>
<circle cx="339.96" cy="233.25" r="0.68" fill="#111"/>
<circle cx="341.65" cy="234.39" r="0.68" fill="#111"/>
<circle cx="342.11" cy="234.42" r="0.68" fill="#111"/>
<circle cx="342.09" cy="233.02" r="0.68" fill="#111"/>
<circle cx="339.57" cy="234.54" r="0.68" fill="#111"/>
<circle cx="339.00" cy="232.77" r="0.68" fill="#111"/>
<circle cx="338.80" cy="234.00" r="0.68" fill="#111"/>
<circle cx="339.37" cy="230.25" r="0.68" fill="#111"/>
<circle cx="340.50" cy="233.82" r="0.68" fill="#111"/>
<rect x="345.57" y="231.91" width="5.20" height="10.99" fill="#2eba46"/>
<line x1="348.17" y1="218.55" x2="348.17" y2="231.91" stroke="#555" stroke-width="0.6"/>
<line x1="346.57" y1="218.55" x2="349.77" y2="218.55" stroke="#555" stroke-width="0.6"/>
<circle cx="349.09" cy="213.87" r="0.68" fill="#111"/>
<circle cx="349.38" cy="224.45" r="0.68" fill="#111"/>
<circle cx="346.29" cy="242.59" r="0.68" fill="#111"/>
<circle cx="346.53" cy="237.04" r="0.68" fill="#111"/>
<circle cx="347.29" cy="206.88" r="0.68" fill="#111"/>
<circle cx="348.35" cy="239.78" r="0.68" fill="#111"/>
<circle cx="346.45" cy="231.06" r="0.68" fill="#111"/>
<circle cx="346.82" cy="229.69" r="0.68" fill="#111"/>
<circle cx="349.71" cy="206.81" r="0.68" fill="#111"/>
<circle cx="348.83" cy="218.13" r="0.68" fill="#111"/>
<circle cx="348.73" cy="203.59" r="0.68" fill="#111"/>
<rect x="353.34" y="236.66" width="5.20" height="6.24" fill="#046a4e"/>
<line x1="355.94" y1="232.21" x2="355.94" y2="236.66" stroke="#555" stroke-width="0.6"/>
<line x1="354.34" y1="232.21" x2="357.54" y2="232.21" stroke="#555" stroke-width="0.6"/>
<circle cx="356.93" cy="230.65" r="0.68" fill="#111"/>
<circle cx="354.71" cy="235.79" r="0.68" fill="#111"/>
<circle cx="357.36" cy="234.36" r="0.68" fill="#111"/>
<circle cx="354.23" cy="230.89" r="0.68" fill="#111"/>
<circle cx="355.49" cy="232.65" r="0.68" fill="#111"/>
<circle cx="354.45" cy="237.67" r="0.68" fill="#111"/>
<circle cx="355.11" cy="242.49" r="0.68" fill="#111"/>
<circle cx="354.54" cy="230.35" r="0.68" fill="#111"/>
<circle cx="355.38" cy="235.60" r="0.68" fill="#111"/>
<circle cx="357.52" cy="235.29" r="0.68" fill="#111"/>
<circle cx="357.61" cy="234.73" r="0.68" fill="#111"/>
<rect x="361.11" y="237.85" width="5.20" height="5.05" fill="#046a4e"/>
<line x1="363.71" y1="236.07" x2="363.71" y2="237.85" stroke="#555" stroke-width="0.6"/>
<line x1="362.11" y1="236.07" x2="365.31" y2="236.07" stroke="#555" stroke-width="0.6"/>
<circle cx="365.60" cy="235.45" r="0.68" fill="#111"/>
<circle cx="363.16" cy="236.85" r="0.68" fill="#111"/>
<circle cx="365.42" cy="237.98" r="0.68" fill="#111"/>
<circle cx="363.00" cy="239.93" r="0.68" fill="#111"/>
<circle cx="361.89" cy="237.66" r="0.68" fill="#111"/>
<circle cx="364.78" cy="239.10" r="0.68" fill="#111"/>
<circle cx="363.97" cy="236.02" r="0.68" fill="#111"/>
<circle cx="363.49" cy="239.47" r="0.68" fill="#111"/>
<circle cx="363.84" cy="237.48" r="0.68" fill="#111"/>
<circle cx="364.07" cy="237.41" r="0.68" fill="#111"/>
<circle cx="365.35" cy="238.63" r="0.68" fill="#111"/>
<rect x="368.88" y="236.66" width="5.20" height="6.24" fill="#046a4e"/>
<line x1="371.48" y1="235.18" x2="371.48" y2="236.66" stroke="#555" stroke-width="0.6"/>
<line x1="369.88" y1="235.18" x2="373.08" y2="235.18" stroke="#555" stroke-width="0.6"/>
<circle cx="373.24" cy="234.66" r="0.68" fill="#111"/>
<circle cx="372.77" cy="237.23" r="0.68" fill="#111"/>
<circle cx="370.35" cy="236.23" r="0.68" fill="#111"/>
<circle cx="369.78" cy="235.90" r="0.68" fill="#111"/>
<circle cx="372.90" cy="235.53" r="0.68" fill="#111"/>
<circle cx="370.02" cy="236.82" r="0.68" fill="#111"/>
<circle cx="372.60" cy="234.42" r="0.68" fill="#111"/>
<circle cx="373.35" cy="236.47" r="0.68" fill="#111"/>
<circle cx="372.49" cy="237.20" r="0.68" fill="#111"/>
<circle cx="369.93" cy="237.91" r="0.68" fill="#111"/>
<circle cx="370.14" cy="237.83" r="0.68" fill="#111"/>
<line x1="256.80" y1="242.90" x2="376.80" y2="242.90" stroke="#231f20" stroke-width="1.3"/>
<line x1="262.70" y1="242.90" x2="262.70" y2="245.50" stroke="#231f20" stroke-width="0.9"/>
<line x1="270.47" y1="242.90" x2="270.47" y2="245.50" stroke="#231f20" stroke-width="0.9"/>
<line x1="278.24" y1="242.90" x2="278.24" y2="245.50" stroke="#231f20" stroke-width="0.9"/>
<line x1="286.01" y1="242.90" x2="286.01" y2="245.50" stroke="#231f20" stroke-width="0.9"/>
<line x1="293.78" y1="242.90" x2="293.78" y2="245.50" stroke="#231f20" stroke-width="0.9"/>
<line x1="301.55" y1="242.90" x2="301.55" y2="245.50" stroke="#231f20" stroke-width="0.9"/>
<line x1="309.32" y1="242.90" x2="309.32" y2="245.50" stroke="#231f20" stroke-width="0.9"/>
<line x1="317.09" y1="242.90" x2="317.09" y2="245.50" stroke="#231f20" stroke-width="0.9"/>
<line x1="324.86" y1="242.90" x2="324.86" y2="245.50" stroke="#231f20" stroke-width="0.9"/>
<line x1="332.63" y1="242.90" x2="332.63" y2="245.50" stroke="#231f20" stroke-width="0.9"/>
<line x1="340.40" y1="242.90" x2="340.40" y2="245.50" stroke="#231f20" stroke-width="0.9"/>
<line x1="348.17" y1="242.90" x2="348.17" y2="245.50" stroke="#231f20" stroke-width="0.9"/>
<line x1="355.94" y1="242.90" x2="355.94" y2="245.50" stroke="#231f20" stroke-width="0.9"/>
<line x1="363.71" y1="242.90" x2="363.71" y2="245.50" stroke="#231f20" stroke-width="0.9"/>
<line x1="371.48" y1="242.90" x2="371.48" y2="245.50" stroke="#231f20" stroke-width="0.9"/>
<text x="262.70" y="251.60" font-size="5.2" text-anchor="middle" fill="#333" stroke="#333" stroke-width="0.15">+</text>
<text x="262.70" y="257.80" font-size="5.2" text-anchor="middle" fill="#333" stroke="#333" stroke-width="0.15">–</text>
<text x="262.70" y="263.70" font-size="5.2" text-anchor="middle" fill="#333" stroke="#333" stroke-width="0.15">–</text>
<text x="270.47" y="251.60" font-size="5.2" text-anchor="middle" fill="#333" stroke="#333" stroke-width="0.15">–</text>
<text x="270.47" y="257.80" font-size="5.2" text-anchor="middle" fill="#333" stroke="#333" stroke-width="0.15">+</text>
<text x="270.47" y="263.70" font-size="5.2" text-anchor="middle" fill="#333" stroke="#333" stroke-width="0.15">–</text>
<text x="278.24" y="251.60" font-size="5.2" text-anchor="middle" fill="#333" stroke="#333" stroke-width="0.15">–</text>
<text x="278.24" y="257.80" font-size="5.2" text-anchor="middle" fill="#333" stroke="#333" stroke-width="0.15">–</text>
<text x="278.24" y="263.70" font-size="5.2" text-anchor="middle" fill="#333" stroke="#333" stroke-width="0.15">+</text>
<text x="286.01" y="251.60" font-size="5.2" text-anchor="middle" fill="#333" stroke="#333" stroke-width="0.15">+</text>
<text x="286.01" y="257.80" font-size="5.2" text-anchor="middle" fill="#333" stroke="#333" stroke-width="0.15">–</text>
<text x="286.01" y="263.70" font-size="5.2" text-anchor="middle" fill="#333" stroke="#333" stroke-width="0.15">–</text>
<text x="293.78" y="251.60" font-size="5.2" text-anchor="middle" fill="#333" stroke="#333" stroke-width="0.15">–</text>
<text x="293.78" y="257.80" font-size="5.2" text-anchor="middle" fill="#333" stroke="#333" stroke-width="0.15">+</text>
<text x="293.78" y="263.70" font-size="5.2" text-anchor="middle" fill="#333" stroke="#333" stroke-width="0.15">–</text>
<text x="301.55" y="251.60" font-size="5.2" text-anchor="middle" fill="#333" stroke="#333" stroke-width="0.15">–</text>
<text x="301.55" y="257.80" font-size="5.2" text-anchor="middle" fill="#333" stroke="#333" stroke-width="0.15">–</text>
<text x="301.55" y="263.70" font-size="5.2" text-anchor="middle" fill="#333" stroke="#333" stroke-width="0.15">+</text>
<text x="309.32" y="251.60" font-size="5.2" text-anchor="middle" fill="#333" stroke="#333" stroke-width="0.15">+</text>
<text x="309.32" y="257.80" font-size="5.2" text-anchor="middle" fill="#333" stroke="#333" stroke-width="0.15">–</text>
<text x="309.32" y="263.70" font-size="5.2" text-anchor="middle" fill="#333" stroke="#333" stroke-width="0.15">–</text>
<text x="317.09" y="251.60" font-size="5.2" text-anchor="middle" fill="#333" stroke="#333" stroke-width="0.15">–</text>
<text x="317.09" y="257.80" font-size="5.2" text-anchor="middle" fill="#333" stroke="#333" stroke-width="0.15">+</text>
<text x="317.09" y="263.70" font-size="5.2" text-anchor="middle" fill="#333" stroke="#333" stroke-width="0.15">–</text>
<text x="324.86" y="251.60" font-size="5.2" text-anchor="middle" fill="#333" stroke="#333" stroke-width="0.15">–</text>
<text x="324.86" y="257.80" font-size="5.2" text-anchor="middle" fill="#333" stroke="#333" stroke-width="0.15">–</text>
<text x="324.86" y="263.70" font-size="5.2" text-anchor="middle" fill="#333" stroke="#333" stroke-width="0.15">+</text>
<text x="332.63" y="251.60" font-size="5.2" text-anchor="middle" fill="#333" stroke="#333" stroke-width="0.15">+</text>
<text x="332.63" y="257.80" font-size="5.2" text-anchor="middle" fill="#333" stroke="#333" stroke-width="0.15">–</text>
<text x="332.63" y="263.70" font-size="5.2" text-anchor="middle" fill="#333" stroke="#333" stroke-width="0.15">–</text>
<text x="340.40" y="251.60" font-size="5.2" text-anchor="middle" fill="#333" stroke="#333" stroke-width="0.15">–</text>
<text x="340.40" y="257.80" font-size="5.2" text-anchor="middle" fill="#333" stroke="#333" stroke-width="0.15">+</text>
<text x="340.40" y="263.70" font-size="5.2" text-anchor="middle" fill="#333" stroke="#333" stroke-width="0.15">–</text>
<text x="348.17" y="251.60" font-size="5.2" text-anchor="middle" fill="#333" stroke="#333" stroke-width="0.15">–</text>
<text x="348.17" y="257.80" font-size="5.2" text-anchor="middle" fill="#333" stroke="#333" stroke-width="0.15">–</text>
<text x="348.17" y="263.70" font-size="5.2" text-anchor="middle" fill="#333" stroke="#333" stroke-width="0.15">+</text>
<text x="355.94" y="251.60" font-size="5.2" text-anchor="middle" fill="#333" stroke="#333" stroke-width="0.15">+</text>
<text x="355.94" y="257.80" font-size="5.2" text-anchor="middle" fill="#333" stroke="#333" stroke-width="0.15">–</text>
<text x="355.94" y="263.70" font-size="5.2" text-anchor="middle" fill="#333" stroke="#333" stroke-width="0.15">–</text>
<text x="363.71" y="251.60" font-size="5.2" text-anchor="middle" fill="#333" stroke="#333" stroke-width="0.15">–</text>
<text x="363.71" y="257.80" font-size="5.2" text-anchor="middle" fill="#333" stroke="#333" stroke-width="0.15">+</text>
<text x="363.71" y="263.70" font-size="5.2" text-anchor="middle" fill="#333" stroke="#333" stroke-width="0.15">–</text>
<text x="371.48" y="251.60" font-size="5.2" text-anchor="middle" fill="#333" stroke="#333" stroke-width="0.15">–</text>
<text x="371.48" y="257.80" font-size="5.2" text-anchor="middle" fill="#333" stroke="#333" stroke-width="0.15">–</text>
<text x="371.48" y="263.70" font-size="5.2" text-anchor="middle" fill="#333" stroke="#333" stroke-width="0.15">+</text>
<line x1="259.30" y1="265.50" x2="280.30" y2="265.50" stroke="#666" stroke-width="1.2"/>
<text x="269.80" y="273.00" font-size="6.6" text-anchor="middle" fill="#333" textLength="12.6" lengthAdjust="spacingAndGlyphs" stroke="#333" stroke-width="0.15">2mo</text>
<line x1="282.61" y1="265.50" x2="303.61" y2="265.50" stroke="#666" stroke-width="1.2"/>
<text x="293.11" y="273.00" font-size="6.6" text-anchor="middle" fill="#333" textLength="6.0" lengthAdjust="spacingAndGlyphs" stroke="#333" stroke-width="0.15">1y</text>
<line x1="305.92" y1="265.50" x2="326.92" y2="265.50" stroke="#666" stroke-width="1.2"/>
<text x="316.42" y="273.00" font-size="6.6" text-anchor="middle" fill="#333" textLength="6.0" lengthAdjust="spacingAndGlyphs" stroke="#333" stroke-width="0.15">2y</text>
<line x1="329.23" y1="265.50" x2="350.23" y2="265.50" stroke="#666" stroke-width="1.2"/>
<text x="339.73" y="273.00" font-size="6.6" text-anchor="middle" fill="#333" textLength="12.6" lengthAdjust="spacingAndGlyphs" stroke="#333" stroke-width="0.15">2mo</text>
<line x1="352.54" y1="265.50" x2="373.54" y2="265.50" stroke="#666" stroke-width="1.2"/>
<text x="363.04" y="273.00" font-size="6.6" text-anchor="middle" fill="#333" textLength="6.0" lengthAdjust="spacingAndGlyphs" stroke="#333" stroke-width="0.15">1y</text>
<line x1="259.30" y1="275.20" x2="328.30" y2="275.20" stroke="#666" stroke-width="1.3"/>
<text x="293.80" y="282.50" font-size="6.6" text-anchor="middle" fill="#333" textLength="24" lengthAdjust="spacingAndGlyphs" stroke="#333" stroke-width="0.15">WT, SPF</text>
<line x1="331.90" y1="275.20" x2="375.80" y2="275.20" stroke="#666" stroke-width="1.3"/>
<text x="354.35" y="282.50" font-size="6.6" text-anchor="middle" fill="#333" textLength="21.5" lengthAdjust="spacingAndGlyphs" stroke="#333" stroke-width="0.15">WT, GF</text>
<line x1="276.20" y1="178.80" x2="323.50" y2="178.80" stroke="#555" stroke-width="1.25"/>
<circle cx="277.50" cy="176.20" r="0.85" fill="#1a1a1a"/>
<line x1="260.80" y1="194.20" x2="278.10" y2="194.20" stroke="#555" stroke-width="1.25"/>
<circle cx="262.10" cy="191.60" r="0.85" fill="#1a1a1a"/>
<circle cx="264.85" cy="191.60" r="0.85" fill="#1a1a1a"/>
<line x1="284.20" y1="189.20" x2="301.20" y2="189.20" stroke="#555" stroke-width="1.25"/>
<circle cx="285.50" cy="186.60" r="0.85" fill="#1a1a1a"/>
<line x1="284.20" y1="194.20" x2="294.70" y2="194.20" stroke="#555" stroke-width="1.25"/>
<circle cx="285.50" cy="191.60" r="0.85" fill="#1a1a1a"/>
<circle cx="288.25" cy="191.60" r="0.85" fill="#1a1a1a"/>
<line x1="307.30" y1="189.20" x2="324.50" y2="189.20" stroke="#555" stroke-width="1.25"/>
<circle cx="308.60" cy="186.60" r="0.85" fill="#1a1a1a"/>
<circle cx="311.35" cy="186.60" r="0.85" fill="#1a1a1a"/>
<circle cx="314.10" cy="186.60" r="0.85" fill="#1a1a1a"/>
<circle cx="316.85" cy="186.60" r="0.85" fill="#1a1a1a"/>
<line x1="307.30" y1="194.20" x2="317.80" y2="194.20" stroke="#555" stroke-width="1.25"/>
<circle cx="308.60" cy="191.60" r="0.85" fill="#1a1a1a"/>
<text x="449.30" y="168.80" font-size="7.4" text-anchor="middle" fill="#231f20" textLength="40.8" lengthAdjust="spacing" stroke="#231f20" stroke-width="0.15">WBM, IL-1a</text>
<line x1="389.40" y1="183.50" x2="389.40" y2="243.40" stroke="#231f20" stroke-width="1.1"/>
<line x1="386.60" y1="242.90" x2="389.40" y2="242.90" stroke="#231f20" stroke-width="1"/>
<text x="385.10" y="245.00" font-size="6.0" text-anchor="end" fill="#231f20" textLength="4.0" lengthAdjust="spacingAndGlyphs" stroke="#231f20" stroke-width="0.15">0</text>
<line x1="386.60" y1="228.05" x2="389.40" y2="228.05" stroke="#231f20" stroke-width="1"/>
<text x="385.10" y="230.15" font-size="6.0" text-anchor="end" fill="#231f20" textLength="4.0" lengthAdjust="spacingAndGlyphs" stroke="#231f20" stroke-width="0.15">5</text>
<line x1="386.60" y1="213.20" x2="389.40" y2="213.20" stroke="#231f20" stroke-width="1"/>
<text x="385.10" y="215.30" font-size="6.0" text-anchor="end" fill="#231f20" textLength="8.0" lengthAdjust="spacingAndGlyphs" stroke="#231f20" stroke-width="0.15">10</text>
<line x1="386.60" y1="198.35" x2="389.40" y2="198.35" stroke="#231f20" stroke-width="1"/>
<text x="385.10" y="200.45" font-size="6.0" text-anchor="end" fill="#231f20" textLength="8.0" lengthAdjust="spacingAndGlyphs" stroke="#231f20" stroke-width="0.15">15</text>
<line x1="386.60" y1="183.50" x2="389.40" y2="183.50" stroke="#231f20" stroke-width="1"/>
<text x="385.10" y="185.60" font-size="6.0" text-anchor="end" fill="#231f20" textLength="8.0" lengthAdjust="spacingAndGlyphs" stroke="#231f20" stroke-width="0.15">20</text>
<line x1="413.88" y1="182.00" x2="413.88" y2="242.90" stroke="#111" stroke-width="1.0" stroke-dasharray="1.1 2.07"/>
<line x1="437.12" y1="182.00" x2="437.12" y2="242.90" stroke="#111" stroke-width="1.0" stroke-dasharray="1.1 2.07"/>
<line x1="460.38" y1="182.00" x2="460.38" y2="242.90" stroke="#111" stroke-width="1.0" stroke-dasharray="1.1 2.07"/>
<line x1="483.62" y1="182.00" x2="483.62" y2="242.90" stroke="#111" stroke-width="1.0" stroke-dasharray="1.1 2.07"/>
<rect x="391.90" y="239.34" width="5.20" height="3.56" fill="#105284"/>
<line x1="394.50" y1="237.85" x2="394.50" y2="239.34" stroke="#555" stroke-width="0.6"/>
<line x1="392.90" y1="237.85" x2="396.10" y2="237.85" stroke="#555" stroke-width="0.6"/>
<circle cx="394.88" cy="237.33" r="0.68" fill="#111"/>
<circle cx="394.02" cy="239.92" r="0.68" fill="#111"/>
<circle cx="393.81" cy="238.15" r="0.68" fill="#111"/>
<circle cx="396.33" cy="240.29" r="0.68" fill="#111"/>
<circle cx="396.16" cy="238.16" r="0.68" fill="#111"/>
<circle cx="393.69" cy="237.97" r="0.68" fill="#111"/>
<circle cx="396.31" cy="240.95" r="0.68" fill="#111"/>
<circle cx="394.50" cy="239.41" r="0.68" fill="#111"/>
<circle cx="395.38" cy="238.77" r="0.68" fill="#111"/>
<circle cx="393.67" cy="240.20" r="0.68" fill="#111"/>
<circle cx="396.27" cy="237.99" r="0.68" fill="#111"/>
<rect x="399.65" y="236.07" width="5.20" height="6.83" fill="#105284"/>
<line x1="402.25" y1="233.69" x2="402.25" y2="236.07" stroke="#555" stroke-width="0.6"/>
<line x1="400.65" y1="233.69" x2="403.85" y2="233.69" stroke="#555" stroke-width="0.6"/>
<circle cx="402.37" cy="232.86" r="0.68" fill="#111"/>
<circle cx="403.67" cy="235.48" r="0.68" fill="#111"/>
<circle cx="402.03" cy="233.89" r="0.68" fill="#111"/>
<circle cx="402.70" cy="236.25" r="0.68" fill="#111"/>
<circle cx="403.57" cy="234.37" r="0.68" fill="#111"/>
<circle cx="403.30" cy="235.28" r="0.68" fill="#111"/>
<circle cx="401.81" cy="232.81" r="0.68" fill="#111"/>
<circle cx="404.08" cy="234.79" r="0.68" fill="#111"/>
<circle cx="402.44" cy="236.90" r="0.68" fill="#111"/>
<circle cx="403.71" cy="235.15" r="0.68" fill="#111"/>
<circle cx="403.05" cy="239.32" r="0.68" fill="#111"/>
<rect x="407.40" y="233.40" width="5.20" height="9.50" fill="#105284"/>
<line x1="410.00" y1="221.52" x2="410.00" y2="233.40" stroke="#555" stroke-width="0.6"/>
<line x1="408.40" y1="221.52" x2="411.60" y2="221.52" stroke="#555" stroke-width="0.6"/>
<circle cx="409.47" cy="217.36" r="0.68" fill="#111"/>
<circle cx="409.62" cy="236.70" r="0.68" fill="#111"/>
<circle cx="409.52" cy="223.35" r="0.68" fill="#111"/>
<circle cx="410.32" cy="242.59" r="0.68" fill="#111"/>
<circle cx="408.66" cy="241.31" r="0.68" fill="#111"/>
<circle cx="410.44" cy="231.78" r="0.68" fill="#111"/>
<circle cx="408.63" cy="224.97" r="0.68" fill="#111"/>
<circle cx="409.18" cy="226.57" r="0.68" fill="#111"/>
<circle cx="408.21" cy="229.55" r="0.68" fill="#111"/>
<circle cx="410.13" cy="239.90" r="0.68" fill="#111"/>
<circle cx="410.90" cy="238.24" r="0.68" fill="#111"/>
<rect x="415.15" y="239.04" width="5.20" height="3.86" fill="#561e68"/>
<line x1="417.75" y1="236.66" x2="417.75" y2="239.04" stroke="#555" stroke-width="0.6"/>
<line x1="416.15" y1="236.66" x2="419.35" y2="236.66" stroke="#555" stroke-width="0.6"/>
<circle cx="419.32" cy="235.83" r="0.68" fill="#111"/>
<circle cx="417.53" cy="242.03" r="0.68" fill="#111"/>
<circle cx="419.19" cy="239.41" r="0.68" fill="#111"/>
<circle cx="417.29" cy="239.86" r="0.68" fill="#111"/>
<circle cx="416.94" cy="242.74" r="0.68" fill="#111"/>
<circle cx="416.57" cy="238.46" r="0.68" fill="#111"/>
<circle cx="416.17" cy="237.96" r="0.68" fill="#111"/>
<circle cx="415.96" cy="241.19" r="0.68" fill="#111"/>
<circle cx="419.01" cy="239.17" r="0.68" fill="#111"/>
<circle cx="416.55" cy="238.86" r="0.68" fill="#111"/>
<circle cx="417.79" cy="239.31" r="0.68" fill="#111"/>
<rect x="422.90" y="237.55" width="5.20" height="5.35" fill="#561e68"/>
<line x1="425.50" y1="235.77" x2="425.50" y2="237.55" stroke="#555" stroke-width="0.6"/>
<line x1="423.90" y1="235.77" x2="427.10" y2="235.77" stroke="#555" stroke-width="0.6"/>
<circle cx="425.24" cy="235.15" r="0.68" fill="#111"/>
<circle cx="425.26" cy="238.91" r="0.68" fill="#111"/>
<circle cx="423.97" cy="238.97" r="0.68" fill="#111"/>
<circle cx="423.92" cy="235.52" r="0.68" fill="#111"/>
<circle cx="425.28" cy="237.82" r="0.68" fill="#111"/>
<circle cx="423.85" cy="237.46" r="0.68" fill="#111"/>
<circle cx="423.64" cy="241.69" r="0.68" fill="#111"/>
<circle cx="427.00" cy="238.94" r="0.68" fill="#111"/>
<circle cx="426.74" cy="237.38" r="0.68" fill="#111"/>
<circle cx="425.81" cy="238.24" r="0.68" fill="#111"/>
<circle cx="426.96" cy="236.34" r="0.68" fill="#111"/>
<rect x="430.65" y="237.55" width="5.20" height="5.35" fill="#561e68"/>
<line x1="433.25" y1="235.77" x2="433.25" y2="237.55" stroke="#555" stroke-width="0.6"/>
<line x1="431.65" y1="235.77" x2="434.85" y2="235.77" stroke="#555" stroke-width="0.6"/>
<circle cx="431.69" cy="235.15" r="0.68" fill="#111"/>
<circle cx="433.79" cy="236.28" r="0.68" fill="#111"/>
<circle cx="433.34" cy="234.47" r="0.68" fill="#111"/>
<circle cx="433.53" cy="237.03" r="0.68" fill="#111"/>
<circle cx="433.13" cy="236.72" r="0.68" fill="#111"/>
<circle cx="434.61" cy="237.06" r="0.68" fill="#111"/>
<circle cx="435.08" cy="238.62" r="0.68" fill="#111"/>
<circle cx="433.86" cy="237.82" r="0.68" fill="#111"/>
<circle cx="432.48" cy="238.44" r="0.68" fill="#111"/>
<circle cx="434.77" cy="237.71" r="0.68" fill="#111"/>
<circle cx="433.71" cy="236.45" r="0.68" fill="#111"/>
<rect x="438.40" y="239.93" width="5.20" height="2.97" fill="#c41430"/>
<line x1="441.00" y1="239.04" x2="441.00" y2="239.93" stroke="#555" stroke-width="0.6"/>
<line x1="439.40" y1="239.04" x2="442.60" y2="239.04" stroke="#555" stroke-width="0.6"/>
<circle cx="440.45" cy="238.73" r="0.68" fill="#111"/>
<circle cx="442.36" cy="239.76" r="0.68" fill="#111"/>
<circle cx="441.90" cy="241.39" r="0.68" fill="#111"/>
<circle cx="440.74" cy="239.86" r="0.68" fill="#111"/>
<circle cx="440.29" cy="239.71" r="0.68" fill="#111"/>
<circle cx="439.92" cy="239.46" r="0.68" fill="#111"/>
<circle cx="442.23" cy="238.66" r="0.68" fill="#111"/>
<circle cx="442.57" cy="239.62" r="0.68" fill="#111"/>
<circle cx="440.61" cy="240.06" r="0.68" fill="#111"/>
<circle cx="439.24" cy="239.83" r="0.68" fill="#111"/>
<circle cx="441.00" cy="239.51" r="0.68" fill="#111"/>
<rect x="446.15" y="228.64" width="5.20" height="14.26" fill="#c41430"/>
<line x1="448.75" y1="225.67" x2="448.75" y2="228.64" stroke="#555" stroke-width="0.6"/>
<line x1="447.15" y1="225.67" x2="450.35" y2="225.67" stroke="#555" stroke-width="0.6"/>
<circle cx="450.02" cy="224.63" r="0.68" fill="#111"/>
<circle cx="447.07" cy="225.75" r="0.68" fill="#111"/>
<circle cx="447.53" cy="230.44" r="0.68" fill="#111"/>
<circle cx="447.80" cy="227.36" r="0.68" fill="#111"/>
<circle cx="448.14" cy="228.93" r="0.68" fill="#111"/>
<circle cx="447.27" cy="225.23" r="0.68" fill="#111"/>
<circle cx="449.00" cy="228.20" r="0.68" fill="#111"/>
<circle cx="447.78" cy="226.28" r="0.68" fill="#111"/>
<circle cx="449.40" cy="229.13" r="0.68" fill="#111"/>
<circle cx="449.17" cy="230.12" r="0.68" fill="#111"/>
<circle cx="448.35" cy="226.97" r="0.68" fill="#111"/>
<rect x="453.90" y="233.10" width="5.20" height="9.80" fill="#c41430"/>
<line x1="456.50" y1="227.16" x2="456.50" y2="233.10" stroke="#555" stroke-width="0.6"/>
<line x1="454.90" y1="227.16" x2="458.10" y2="227.16" stroke="#555" stroke-width="0.6"/>
<circle cx="456.65" cy="225.08" r="0.68" fill="#111"/>
<circle cx="456.28" cy="238.22" r="0.68" fill="#111"/>
<circle cx="454.81" cy="236.71" r="0.68" fill="#111"/>
<circle cx="456.46" cy="231.08" r="0.68" fill="#111"/>
<circle cx="456.80" cy="241.69" r="0.68" fill="#111"/>
<circle cx="457.21" cy="234.20" r="0.68" fill="#111"/>
<circle cx="455.44" cy="223.63" r="0.68" fill="#111"/>
<circle cx="455.91" cy="227.74" r="0.68" fill="#111"/>
<circle cx="458.38" cy="242.28" r="0.68" fill="#111"/>
<circle cx="457.32" cy="235.88" r="0.68" fill="#111"/>
<circle cx="455.89" cy="232.80" r="0.68" fill="#111"/>
<rect x="461.65" y="238.44" width="5.20" height="4.46" fill="#2eba46"/>
<line x1="464.25" y1="236.66" x2="464.25" y2="238.44" stroke="#555" stroke-width="0.6"/>
<line x1="462.65" y1="236.66" x2="465.85" y2="236.66" stroke="#555" stroke-width="0.6"/>
<circle cx="462.76" cy="236.04" r="0.68" fill="#111"/>
<circle cx="464.36" cy="240.20" r="0.68" fill="#111"/>
<circle cx="464.40" cy="237.54" r="0.68" fill="#111"/>
<circle cx="465.63" cy="239.67" r="0.68" fill="#111"/>
<circle cx="464.56" cy="239.92" r="0.68" fill="#111"/>
<circle cx="465.48" cy="237.93" r="0.68" fill="#111"/>
<circle cx="465.24" cy="238.27" r="0.68" fill="#111"/>
<circle cx="464.45" cy="237.88" r="0.68" fill="#111"/>
<circle cx="465.71" cy="239.36" r="0.68" fill="#111"/>
<circle cx="464.41" cy="235.78" r="0.68" fill="#111"/>
<circle cx="465.19" cy="235.91" r="0.68" fill="#111"/>
<rect x="469.40" y="238.15" width="5.20" height="4.75" fill="#2eba46"/>
<line x1="472.00" y1="237.26" x2="472.00" y2="238.15" stroke="#555" stroke-width="0.6"/>
<line x1="470.40" y1="237.26" x2="473.60" y2="237.26" stroke="#555" stroke-width="0.6"/>
<circle cx="471.21" cy="236.95" r="0.68" fill="#111"/>
<circle cx="472.89" cy="237.14" r="0.68" fill="#111"/>
<circle cx="471.43" cy="238.08" r="0.68" fill="#111"/>
<circle cx="471.05" cy="239.01" r="0.68" fill="#111"/>
<circle cx="472.75" cy="238.03" r="0.68" fill="#111"/>
<circle cx="470.52" cy="238.76" r="0.68" fill="#111"/>
<circle cx="472.20" cy="238.40" r="0.68" fill="#111"/>
<circle cx="470.76" cy="238.60" r="0.68" fill="#111"/>
<circle cx="471.60" cy="237.18" r="0.68" fill="#111"/>
<circle cx="472.29" cy="237.92" r="0.68" fill="#111"/>
<circle cx="470.51" cy="237.50" r="0.68" fill="#111"/>
<rect x="477.15" y="233.10" width="5.20" height="9.80" fill="#2eba46"/>
<line x1="479.75" y1="225.67" x2="479.75" y2="233.10" stroke="#555" stroke-width="0.6"/>
<line x1="478.15" y1="225.67" x2="481.35" y2="225.67" stroke="#555" stroke-width="0.6"/>
<circle cx="478.62" cy="223.08" r="0.68" fill="#111"/>
<circle cx="479.77" cy="230.94" r="0.68" fill="#111"/>
<circle cx="479.89" cy="231.82" r="0.68" fill="#111"/>
<circle cx="481.36" cy="230.87" r="0.68" fill="#111"/>
<circle cx="479.36" cy="228.55" r="0.68" fill="#111"/>
<circle cx="478.10" cy="238.03" r="0.68" fill="#111"/>
<circle cx="481.43" cy="233.90" r="0.68" fill="#111"/>
<circle cx="478.30" cy="228.33" r="0.68" fill="#111"/>
<circle cx="479.50" cy="227.10" r="0.68" fill="#111"/>
<circle cx="478.85" cy="235.13" r="0.68" fill="#111"/>
<circle cx="480.02" cy="229.62" r="0.68" fill="#111"/>
<rect x="484.90" y="239.34" width="5.20" height="3.56" fill="#046a4e"/>
<line x1="487.50" y1="237.55" x2="487.50" y2="239.34" stroke="#555" stroke-width="0.6"/>
<line x1="485.90" y1="237.55" x2="489.10" y2="237.55" stroke="#555" stroke-width="0.6"/>
<circle cx="487.54" cy="236.93" r="0.68" fill="#111"/>
<circle cx="489.34" cy="239.04" r="0.68" fill="#111"/>
<circle cx="488.61" cy="238.43" r="0.68" fill="#111"/>
<circle cx="485.97" cy="239.64" r="0.68" fill="#111"/>
<circle cx="488.27" cy="242.21" r="0.68" fill="#111"/>
<circle cx="487.34" cy="239.33" r="0.68" fill="#111"/>
<circle cx="489.30" cy="240.29" r="0.68" fill="#111"/>
<circle cx="486.23" cy="240.39" r="0.68" fill="#111"/>
<circle cx="488.14" cy="237.33" r="0.68" fill="#111"/>
<circle cx="487.02" cy="239.53" r="0.68" fill="#111"/>
<circle cx="488.91" cy="237.75" r="0.68" fill="#111"/>
<rect x="492.65" y="238.15" width="5.20" height="4.75" fill="#046a4e"/>
<line x1="495.25" y1="236.37" x2="495.25" y2="238.15" stroke="#555" stroke-width="0.6"/>
<line x1="493.65" y1="236.37" x2="496.85" y2="236.37" stroke="#555" stroke-width="0.6"/>
<circle cx="495.96" cy="235.74" r="0.68" fill="#111"/>
<circle cx="494.98" cy="239.73" r="0.68" fill="#111"/>
<circle cx="495.42" cy="237.80" r="0.68" fill="#111"/>
<circle cx="495.58" cy="239.12" r="0.68" fill="#111"/>
<circle cx="494.00" cy="238.46" r="0.68" fill="#111"/>
<circle cx="495.78" cy="237.88" r="0.68" fill="#111"/>
<circle cx="495.27" cy="237.61" r="0.68" fill="#111"/>
<circle cx="496.97" cy="235.96" r="0.68" fill="#111"/>
<circle cx="494.77" cy="236.91" r="0.68" fill="#111"/>
<circle cx="493.52" cy="239.91" r="0.68" fill="#111"/>
<circle cx="496.85" cy="240.22" r="0.68" fill="#111"/>
<rect x="500.40" y="236.96" width="5.20" height="5.94" fill="#046a4e"/>
<line x1="503.00" y1="235.47" x2="503.00" y2="236.96" stroke="#555" stroke-width="0.6"/>
<line x1="501.40" y1="235.47" x2="504.60" y2="235.47" stroke="#555" stroke-width="0.6"/>
<circle cx="501.87" cy="234.96" r="0.68" fill="#111"/>
<circle cx="503.91" cy="235.26" r="0.68" fill="#111"/>
<circle cx="502.94" cy="234.34" r="0.68" fill="#111"/>
<circle cx="503.17" cy="237.01" r="0.68" fill="#111"/>
<circle cx="503.64" cy="237.59" r="0.68" fill="#111"/>
<circle cx="501.62" cy="237.48" r="0.68" fill="#111"/>
<circle cx="503.47" cy="237.36" r="0.68" fill="#111"/>
<circle cx="501.13" cy="236.51" r="0.68" fill="#111"/>
<circle cx="501.41" cy="237.36" r="0.68" fill="#111"/>
<circle cx="502.83" cy="236.72" r="0.68" fill="#111"/>
<circle cx="504.88" cy="238.04" r="0.68" fill="#111"/>
<line x1="388.90" y1="242.90" x2="508.30" y2="242.90" stroke="#231f20" stroke-width="1.3"/>
<line x1="394.50" y1="242.90" x2="394.50" y2="245.50" stroke="#231f20" stroke-width="0.9"/>
<line x1="402.25" y1="242.90" x2="402.25" y2="245.50" stroke="#231f20" stroke-width="0.9"/>
<line x1="410.00" y1="242.90" x2="410.00" y2="245.50" stroke="#231f20" stroke-width="0.9"/>
<line x1="417.75" y1="242.90" x2="417.75" y2="245.50" stroke="#231f20" stroke-width="0.9"/>
<line x1="425.50" y1="242.90" x2="425.50" y2="245.50" stroke="#231f20" stroke-width="0.9"/>
<line x1="433.25" y1="242.90" x2="433.25" y2="245.50" stroke="#231f20" stroke-width="0.9"/>
<line x1="441.00" y1="242.90" x2="441.00" y2="245.50" stroke="#231f20" stroke-width="0.9"/>
<line x1="448.75" y1="242.90" x2="448.75" y2="245.50" stroke="#231f20" stroke-width="0.9"/>
<line x1="456.50" y1="242.90" x2="456.50" y2="245.50" stroke="#231f20" stroke-width="0.9"/>
<line x1="464.25" y1="242.90" x2="464.25" y2="245.50" stroke="#231f20" stroke-width="0.9"/>
<line x1="472.00" y1="242.90" x2="472.00" y2="245.50" stroke="#231f20" stroke-width="0.9"/>
<line x1="479.75" y1="242.90" x2="479.75" y2="245.50" stroke="#231f20" stroke-width="0.9"/>
<line x1="487.50" y1="242.90" x2="487.50" y2="245.50" stroke="#231f20" stroke-width="0.9"/>
<line x1="495.25" y1="242.90" x2="495.25" y2="245.50" stroke="#231f20" stroke-width="0.9"/>
<line x1="503.00" y1="242.90" x2="503.00" y2="245.50" stroke="#231f20" stroke-width="0.9"/>
<text x="394.50" y="251.60" font-size="5.2" text-anchor="middle" fill="#333" stroke="#333" stroke-width="0.15">+</text>
<text x="394.50" y="257.80" font-size="5.2" text-anchor="middle" fill="#333" stroke="#333" stroke-width="0.15">–</text>
<text x="394.50" y="263.70" font-size="5.2" text-anchor="middle" fill="#333" stroke="#333" stroke-width="0.15">–</text>
<text x="402.25" y="251.60" font-size="5.2" text-anchor="middle" fill="#333" stroke="#333" stroke-width="0.15">–</text>
<text x="402.25" y="257.80" font-size="5.2" text-anchor="middle" fill="#333" stroke="#333" stroke-width="0.15">+</text>
<text x="402.25" y="263.70" font-size="5.2" text-anchor="middle" fill="#333" stroke="#333" stroke-width="0.15">–</text>
<text x="410.00" y="251.60" font-size="5.2" text-anchor="middle" fill="#333" stroke="#333" stroke-width="0.15">–</text>
<text x="410.00" y="257.80" font-size="5.2" text-anchor="middle" fill="#333" stroke="#333" stroke-width="0.15">–</text>
<text x="410.00" y="263.70" font-size="5.2" text-anchor="middle" fill="#333" stroke="#333" stroke-width="0.15">+</text>
<text x="417.75" y="251.60" font-size="5.2" text-anchor="middle" fill="#333" stroke="#333" stroke-width="0.15">+</text>
<text x="417.75" y="257.80" font-size="5.2" text-anchor="middle" fill="#333" stroke="#333" stroke-width="0.15">–</text>
<text x="417.75" y="263.70" font-size="5.2" text-anchor="middle" fill="#333" stroke="#333" stroke-width="0.15">–</text>
<text x="425.50" y="251.60" font-size="5.2" text-anchor="middle" fill="#333" stroke="#333" stroke-width="0.15">–</text>
<text x="425.50" y="257.80" font-size="5.2" text-anchor="middle" fill="#333" stroke="#333" stroke-width="0.15">+</text>
<text x="425.50" y="263.70" font-size="5.2" text-anchor="middle" fill="#333" stroke="#333" stroke-width="0.15">–</text>
<text x="433.25" y="251.60" font-size="5.2" text-anchor="middle" fill="#333" stroke="#333" stroke-width="0.15">–</text>
<text x="433.25" y="257.80" font-size="5.2" text-anchor="middle" fill="#333" stroke="#333" stroke-width="0.15">–</text>
<text x="433.25" y="263.70" font-size="5.2" text-anchor="middle" fill="#333" stroke="#333" stroke-width="0.15">+</text>
<text x="441.00" y="251.60" font-size="5.2" text-anchor="middle" fill="#333" stroke="#333" stroke-width="0.15">+</text>
<text x="441.00" y="257.80" font-size="5.2" text-anchor="middle" fill="#333" stroke="#333" stroke-width="0.15">–</text>
<text x="441.00" y="263.70" font-size="5.2" text-anchor="middle" fill="#333" stroke="#333" stroke-width="0.15">–</text>
<text x="448.75" y="251.60" font-size="5.2" text-anchor="middle" fill="#333" stroke="#333" stroke-width="0.15">–</text>
<text x="448.75" y="257.80" font-size="5.2" text-anchor="middle" fill="#333" stroke="#333" stroke-width="0.15">+</text>
<text x="448.75" y="263.70" font-size="5.2" text-anchor="middle" fill="#333" stroke="#333" stroke-width="0.15">–</text>
<text x="456.50" y="251.60" font-size="5.2" text-anchor="middle" fill="#333" stroke="#333" stroke-width="0.15">–</text>
<text x="456.50" y="257.80" font-size="5.2" text-anchor="middle" fill="#333" stroke="#333" stroke-width="0.15">–</text>
<text x="456.50" y="263.70" font-size="5.2" text-anchor="middle" fill="#333" stroke="#333" stroke-width="0.15">+</text>
<text x="464.25" y="251.60" font-size="5.2" text-anchor="middle" fill="#333" stroke="#333" stroke-width="0.15">+</text>
<text x="464.25" y="257.80" font-size="5.2" text-anchor="middle" fill="#333" stroke="#333" stroke-width="0.15">–</text>
<text x="464.25" y="263.70" font-size="5.2" text-anchor="middle" fill="#333" stroke="#333" stroke-width="0.15">–</text>
<text x="472.00" y="251.60" font-size="5.2" text-anchor="middle" fill="#333" stroke="#333" stroke-width="0.15">–</text>
<text x="472.00" y="257.80" font-size="5.2" text-anchor="middle" fill="#333" stroke="#333" stroke-width="0.15">+</text>
<text x="472.00" y="263.70" font-size="5.2" text-anchor="middle" fill="#333" stroke="#333" stroke-width="0.15">–</text>
<text x="479.75" y="251.60" font-size="5.2" text-anchor="middle" fill="#333" stroke="#333" stroke-width="0.15">–</text>
<text x="479.75" y="257.80" font-size="5.2" text-anchor="middle" fill="#333" stroke="#333" stroke-width="0.15">–</text>
<text x="479.75" y="263.70" font-size="5.2" text-anchor="middle" fill="#333" stroke="#333" stroke-width="0.15">+</text>
<text x="487.50" y="251.60" font-size="5.2" text-anchor="middle" fill="#333" stroke="#333" stroke-width="0.15">+</text>
<text x="487.50" y="257.80" font-size="5.2" text-anchor="middle" fill="#333" stroke="#333" stroke-width="0.15">–</text>
<text x="487.50" y="263.70" font-size="5.2" text-anchor="middle" fill="#333" stroke="#333" stroke-width="0.15">–</text>
<text x="495.25" y="251.60" font-size="5.2" text-anchor="middle" fill="#333" stroke="#333" stroke-width="0.15">–</text>
<text x="495.25" y="257.80" font-size="5.2" text-anchor="middle" fill="#333" stroke="#333" stroke-width="0.15">+</text>
<text x="495.25" y="263.70" font-size="5.2" text-anchor="middle" fill="#333" stroke="#333" stroke-width="0.15">–</text>
<text x="503.00" y="251.60" font-size="5.2" text-anchor="middle" fill="#333" stroke="#333" stroke-width="0.15">–</text>
<text x="503.00" y="257.80" font-size="5.2" text-anchor="middle" fill="#333" stroke="#333" stroke-width="0.15">–</text>
<text x="503.00" y="263.70" font-size="5.2" text-anchor="middle" fill="#333" stroke="#333" stroke-width="0.15">+</text>
<line x1="391.10" y1="265.50" x2="412.10" y2="265.50" stroke="#666" stroke-width="1.2"/>
<text x="401.60" y="273.00" font-size="6.6" text-anchor="middle" fill="#333" textLength="12.6" lengthAdjust="spacingAndGlyphs" stroke="#333" stroke-width="0.15">2mo</text>
<line x1="414.35" y1="265.50" x2="435.35" y2="265.50" stroke="#666" stroke-width="1.2"/>
<text x="424.85" y="273.00" font-size="6.6" text-anchor="middle" fill="#333" textLength="6.0" lengthAdjust="spacingAndGlyphs" stroke="#333" stroke-width="0.15">1y</text>
<line x1="437.60" y1="265.50" x2="458.60" y2="265.50" stroke="#666" stroke-width="1.2"/>
<text x="448.10" y="273.00" font-size="6.6" text-anchor="middle" fill="#333" textLength="6.0" lengthAdjust="spacingAndGlyphs" stroke="#333" stroke-width="0.15">2y</text>
<line x1="460.85" y1="265.50" x2="481.85" y2="265.50" stroke="#666" stroke-width="1.2"/>
<text x="471.35" y="273.00" font-size="6.6" text-anchor="middle" fill="#333" textLength="12.6" lengthAdjust="spacingAndGlyphs" stroke="#333" stroke-width="0.15">2mo</text>
<line x1="484.10" y1="265.50" x2="505.10" y2="265.50" stroke="#666" stroke-width="1.2"/>
<text x="494.60" y="273.00" font-size="6.6" text-anchor="middle" fill="#333" textLength="6.0" lengthAdjust="spacingAndGlyphs" stroke="#333" stroke-width="0.15">1y</text>
<line x1="391.10" y1="275.20" x2="460.10" y2="275.20" stroke="#666" stroke-width="1.3"/>
<text x="425.60" y="282.50" font-size="6.6" text-anchor="middle" fill="#333" textLength="24" lengthAdjust="spacingAndGlyphs" stroke="#333" stroke-width="0.15">WT, SPF</text>
<line x1="463.70" y1="275.20" x2="507.30" y2="275.20" stroke="#666" stroke-width="1.3"/>
<text x="486.00" y="282.50" font-size="6.6" text-anchor="middle" fill="#333" textLength="21.5" lengthAdjust="spacingAndGlyphs" stroke="#333" stroke-width="0.15">WT, GF</text>
<line x1="392.40" y1="188.70" x2="409.70" y2="188.70" stroke="#555" stroke-width="1.25"/>
<circle cx="393.70" cy="186.10" r="0.85" fill="#1a1a1a"/>
<circle cx="396.45" cy="186.10" r="0.85" fill="#1a1a1a"/>
<circle cx="399.20" cy="186.10" r="0.85" fill="#1a1a1a"/>
<line x1="392.40" y1="193.70" x2="401.70" y2="193.70" stroke="#555" stroke-width="1.25"/>
<circle cx="393.70" cy="191.10" r="0.85" fill="#1a1a1a"/>
<circle cx="396.45" cy="191.10" r="0.85" fill="#1a1a1a"/>
<line x1="439.50" y1="188.70" x2="456.50" y2="188.70" stroke="#555" stroke-width="1.25"/>
<circle cx="440.80" cy="186.10" r="0.85" fill="#1a1a1a"/>
<circle cx="443.55" cy="186.10" r="0.85" fill="#1a1a1a"/>
<circle cx="446.30" cy="186.10" r="0.85" fill="#1a1a1a"/>
<line x1="439.50" y1="193.70" x2="450.00" y2="193.70" stroke="#555" stroke-width="1.25"/>
<circle cx="440.80" cy="191.10" r="0.85" fill="#1a1a1a"/>
<circle cx="443.55" cy="191.10" r="0.85" fill="#1a1a1a"/>
<circle cx="446.30" cy="191.10" r="0.85" fill="#1a1a1a"/>
<circle cx="449.05" cy="191.10" r="0.85" fill="#1a1a1a"/>
<text x="182.50" y="306.50" font-size="7.4" text-anchor="middle" fill="#231f20" textLength="43.9" lengthAdjust="spacing" stroke="#231f20" stroke-width="0.15">iMono, IL-1b</text>
<line x1="122.30" y1="323.95" x2="122.30" y2="384.80" stroke="#231f20" stroke-width="1.1"/>
<line x1="119.50" y1="384.30" x2="122.30" y2="384.30" stroke="#231f20" stroke-width="1"/>
<text x="118.00" y="386.40" font-size="6.0" text-anchor="end" fill="#231f20" textLength="4.0" lengthAdjust="spacingAndGlyphs" stroke="#231f20" stroke-width="0.15">0</text>
<line x1="119.50" y1="372.23" x2="122.30" y2="372.23" stroke="#231f20" stroke-width="1"/>
<text x="118.00" y="374.33" font-size="6.0" text-anchor="end" fill="#231f20" textLength="8.0" lengthAdjust="spacingAndGlyphs" stroke="#231f20" stroke-width="0.15">20</text>
<line x1="119.50" y1="360.16" x2="122.30" y2="360.16" stroke="#231f20" stroke-width="1"/>
<text x="118.00" y="362.26" font-size="6.0" text-anchor="end" fill="#231f20" textLength="8.0" lengthAdjust="spacingAndGlyphs" stroke="#231f20" stroke-width="0.15">40</text>
<line x1="119.50" y1="348.09" x2="122.30" y2="348.09" stroke="#231f20" stroke-width="1"/>
<text x="118.00" y="350.19" font-size="6.0" text-anchor="end" fill="#231f20" textLength="8.0" lengthAdjust="spacingAndGlyphs" stroke="#231f20" stroke-width="0.15">60</text>
<line x1="119.50" y1="336.02" x2="122.30" y2="336.02" stroke="#231f20" stroke-width="1"/>
<text x="118.00" y="338.12" font-size="6.0" text-anchor="end" fill="#231f20" textLength="8.0" lengthAdjust="spacingAndGlyphs" stroke="#231f20" stroke-width="0.15">80</text>
<line x1="119.50" y1="323.95" x2="122.30" y2="323.95" stroke="#231f20" stroke-width="1"/>
<text x="118.00" y="326.05" font-size="6.0" text-anchor="end" fill="#231f20" textLength="12.0" lengthAdjust="spacingAndGlyphs" stroke="#231f20" stroke-width="0.15">100</text>
<line x1="147.05" y1="322.45" x2="147.05" y2="384.30" stroke="#111" stroke-width="1.0" stroke-dasharray="1.1 2.07"/>
<line x1="170.63" y1="322.45" x2="170.63" y2="384.30" stroke="#111" stroke-width="1.0" stroke-dasharray="1.1 2.07"/>
<line x1="194.21" y1="322.45" x2="194.21" y2="384.30" stroke="#111" stroke-width="1.0" stroke-dasharray="1.1 2.07"/>
<line x1="217.79" y1="322.45" x2="217.79" y2="384.30" stroke="#111" stroke-width="1.0" stroke-dasharray="1.1 2.07"/>
<rect x="124.80" y="383.50" width="5.20" height="0.80" fill="#105284"/>
<line x1="127.40" y1="383.52" x2="127.40" y2="383.82" stroke="#555" stroke-width="0.6"/>
<line x1="125.80" y1="383.52" x2="129.00" y2="383.52" stroke="#555" stroke-width="0.6"/>
<circle cx="128.16" cy="383.41" r="0.68" fill="#111"/>
<circle cx="125.51" cy="383.93" r="0.68" fill="#111"/>
<circle cx="126.15" cy="383.89" r="0.68" fill="#111"/>
<circle cx="125.62" cy="383.47" r="0.68" fill="#111"/>
<circle cx="129.19" cy="384.02" r="0.68" fill="#111"/>
<circle cx="125.89" cy="383.84" r="0.68" fill="#111"/>
<circle cx="128.56" cy="383.74" r="0.68" fill="#111"/>
<circle cx="127.19" cy="384.03" r="0.68" fill="#111"/>
<circle cx="126.35" cy="383.92" r="0.68" fill="#111"/>
<circle cx="127.22" cy="383.99" r="0.68" fill="#111"/>
<circle cx="126.37" cy="383.75" r="0.68" fill="#111"/>
<rect x="132.66" y="366.19" width="5.20" height="18.11" fill="#105284"/>
<line x1="135.26" y1="358.35" x2="135.26" y2="366.19" stroke="#555" stroke-width="0.6"/>
<line x1="133.66" y1="358.35" x2="136.86" y2="358.35" stroke="#555" stroke-width="0.6"/>
<circle cx="134.94" cy="355.60" r="0.68" fill="#111"/>
<circle cx="135.54" cy="361.97" r="0.68" fill="#111"/>
<circle cx="135.43" cy="363.29" r="0.68" fill="#111"/>
<circle cx="133.45" cy="370.18" r="0.68" fill="#111"/>
<circle cx="133.46" cy="368.99" r="0.68" fill="#111"/>
<circle cx="135.52" cy="368.26" r="0.68" fill="#111"/>
<circle cx="134.37" cy="362.90" r="0.68" fill="#111"/>
<circle cx="135.88" cy="365.60" r="0.68" fill="#111"/>
<circle cx="136.16" cy="374.15" r="0.68" fill="#111"/>
<circle cx="134.53" cy="372.34" r="0.68" fill="#111"/>
<circle cx="133.60" cy="367.04" r="0.68" fill="#111"/>
<rect x="140.52" y="369.94" width="5.20" height="14.36" fill="#105284"/>
<line x1="143.12" y1="365.71" x2="143.12" y2="369.94" stroke="#555" stroke-width="0.6"/>
<line x1="141.52" y1="365.71" x2="144.72" y2="365.71" stroke="#555" stroke-width="0.6"/>
<circle cx="141.60" cy="364.23" r="0.68" fill="#111"/>
<circle cx="144.74" cy="373.52" r="0.68" fill="#111"/>
<circle cx="142.89" cy="373.79" r="0.68" fill="#111"/>
<circle cx="141.70" cy="372.12" r="0.68" fill="#111"/>
<circle cx="142.61" cy="368.01" r="0.68" fill="#111"/>
<circle cx="145.02" cy="369.94" r="0.68" fill="#111"/>
<circle cx="143.04" cy="367.25" r="0.68" fill="#111"/>
<circle cx="142.16" cy="367.35" r="0.68" fill="#111"/>
<circle cx="141.26" cy="367.02" r="0.68" fill="#111"/>
<circle cx="143.02" cy="371.43" r="0.68" fill="#111"/>
<circle cx="144.52" cy="364.96" r="0.68" fill="#111"/>
<rect x="148.38" y="383.50" width="5.20" height="0.80" fill="#561e68"/>
<line x1="150.98" y1="383.39" x2="150.98" y2="383.70" stroke="#555" stroke-width="0.6"/>
<line x1="149.38" y1="383.39" x2="152.58" y2="383.39" stroke="#555" stroke-width="0.6"/>
<circle cx="152.52" cy="383.29" r="0.68" fill="#111"/>
<circle cx="150.24" cy="383.37" r="0.68" fill="#111"/>
<circle cx="150.88" cy="383.60" r="0.68" fill="#111"/>
<circle cx="149.58" cy="383.76" r="0.68" fill="#111"/>
<circle cx="151.46" cy="383.51" r="0.68" fill="#111"/>
<circle cx="149.25" cy="383.20" r="0.68" fill="#111"/>
<circle cx="152.74" cy="383.39" r="0.68" fill="#111"/>
<circle cx="151.91" cy="383.66" r="0.68" fill="#111"/>
<circle cx="151.10" cy="383.61" r="0.68" fill="#111"/>
<circle cx="151.48" cy="383.66" r="0.68" fill="#111"/>
<circle cx="149.39" cy="383.96" r="0.68" fill="#111"/>
<rect x="156.24" y="360.16" width="5.20" height="24.14" fill="#561e68"/>
<line x1="158.84" y1="357.14" x2="158.84" y2="360.16" stroke="#555" stroke-width="0.6"/>
<line x1="157.24" y1="357.14" x2="160.44" y2="357.14" stroke="#555" stroke-width="0.6"/>
<circle cx="160.60" cy="356.09" r="0.68" fill="#111"/>
<circle cx="156.96" cy="363.05" r="0.68" fill="#111"/>
<circle cx="160.46" cy="356.45" r="0.68" fill="#111"/>
<circle cx="158.54" cy="358.46" r="0.68" fill="#111"/>
<circle cx="158.43" cy="361.01" r="0.68" fill="#111"/>
<circle cx="158.71" cy="363.54" r="0.68" fill="#111"/>
<circle cx="158.10" cy="360.69" r="0.68" fill="#111"/>
<circle cx="159.74" cy="360.55" r="0.68" fill="#111"/>
<circle cx="157.92" cy="360.32" r="0.68" fill="#111"/>
<circle cx="158.30" cy="357.09" r="0.68" fill="#111"/>
<circle cx="160.58" cy="362.78" r="0.68" fill="#111"/>
<rect x="164.10" y="364.99" width="5.20" height="19.31" fill="#561e68"/>
<line x1="166.70" y1="359.56" x2="166.70" y2="364.99" stroke="#555" stroke-width="0.6"/>
<line x1="165.10" y1="359.56" x2="168.30" y2="359.56" stroke="#555" stroke-width="0.6"/>
<circle cx="166.61" cy="357.66" r="0.68" fill="#111"/>
<circle cx="165.02" cy="363.91" r="0.68" fill="#111"/>
<circle cx="165.71" cy="361.46" r="0.68" fill="#111"/>
<circle cx="165.72" cy="369.82" r="0.68" fill="#111"/>
<circle cx="165.49" cy="367.82" r="0.68" fill="#111"/>
<circle cx="166.71" cy="362.90" r="0.68" fill="#111"/>
<circle cx="165.77" cy="363.51" r="0.68" fill="#111"/>
<circle cx="166.09" cy="361.07" r="0.68" fill="#111"/>
<circle cx="166.44" cy="368.50" r="0.68" fill="#111"/>
<circle cx="167.65" cy="358.58" r="0.68" fill="#111"/>
<circle cx="166.18" cy="363.34" r="0.68" fill="#111"/>
<rect x="171.96" y="383.50" width="5.20" height="0.80" fill="#c41430"/>
<line x1="174.56" y1="383.39" x2="174.56" y2="383.70" stroke="#555" stroke-width="0.6"/>
<line x1="172.96" y1="383.39" x2="176.16" y2="383.39" stroke="#555" stroke-width="0.6"/>
<circle cx="173.49" cy="383.29" r="0.68" fill="#111"/>
<circle cx="173.53" cy="383.87" r="0.68" fill="#111"/>
<circle cx="175.10" cy="383.59" r="0.68" fill="#111"/>
<circle cx="175.43" cy="383.40" r="0.68" fill="#111"/>
<circle cx="174.48" cy="383.39" r="0.68" fill="#111"/>
<circle cx="174.10" cy="383.46" r="0.68" fill="#111"/>
<circle cx="173.42" cy="383.94" r="0.68" fill="#111"/>
<circle cx="174.16" cy="383.70" r="0.68" fill="#111"/>
<circle cx="176.14" cy="383.91" r="0.68" fill="#111"/>
<circle cx="173.40" cy="383.98" r="0.68" fill="#111"/>
<circle cx="175.37" cy="383.38" r="0.68" fill="#111"/>
<rect x="179.82" y="345.68" width="5.20" height="38.62" fill="#c41430"/>
<line x1="182.42" y1="342.06" x2="182.42" y2="345.68" stroke="#555" stroke-width="0.6"/>
<line x1="180.82" y1="342.06" x2="184.02" y2="342.06" stroke="#555" stroke-width="0.6"/>
<circle cx="184.24" cy="340.79" r="0.68" fill="#111"/>
<circle cx="183.94" cy="340.80" r="0.68" fill="#111"/>
<circle cx="180.98" cy="339.94" r="0.68" fill="#111"/>
<circle cx="181.63" cy="354.40" r="0.68" fill="#111"/>
<circle cx="183.77" cy="351.58" r="0.68" fill="#111"/>
<circle cx="181.07" cy="341.81" r="0.68" fill="#111"/>
<circle cx="181.34" cy="348.25" r="0.68" fill="#111"/>
<circle cx="181.72" cy="343.49" r="0.68" fill="#111"/>
<circle cx="182.20" cy="349.67" r="0.68" fill="#111"/>
<circle cx="180.59" cy="342.68" r="0.68" fill="#111"/>
<circle cx="184.13" cy="347.13" r="0.68" fill="#111"/>
<rect x="187.68" y="356.54" width="5.20" height="27.76" fill="#c41430"/>
<line x1="190.28" y1="351.71" x2="190.28" y2="356.54" stroke="#555" stroke-width="0.6"/>
<line x1="188.68" y1="351.71" x2="191.88" y2="351.71" stroke="#555" stroke-width="0.6"/>
<circle cx="192.09" cy="350.02" r="0.68" fill="#111"/>
<circle cx="189.45" cy="353.28" r="0.68" fill="#111"/>
<circle cx="189.31" cy="350.04" r="0.68" fill="#111"/>
<circle cx="189.22" cy="352.65" r="0.68" fill="#111"/>
<circle cx="191.80" cy="354.12" r="0.68" fill="#111"/>
<circle cx="189.65" cy="357.54" r="0.68" fill="#111"/>
<circle cx="190.44" cy="357.37" r="0.68" fill="#111"/>
<circle cx="190.51" cy="354.15" r="0.68" fill="#111"/>
<circle cx="189.51" cy="360.00" r="0.68" fill="#111"/>
<circle cx="191.56" cy="353.97" r="0.68" fill="#111"/>
<circle cx="191.50" cy="351.00" r="0.68" fill="#111"/>
<rect x="195.54" y="383.50" width="5.20" height="0.80" fill="#2eba46"/>
<line x1="198.14" y1="384.00" x2="198.14" y2="384.12" stroke="#555" stroke-width="0.6"/>
<line x1="196.54" y1="384.00" x2="199.74" y2="384.00" stroke="#555" stroke-width="0.6"/>
<circle cx="196.51" cy="383.87" r="0.68" fill="#111"/>
<circle cx="196.83" cy="384.12" r="0.68" fill="#111"/>
<circle cx="199.92" cy="384.03" r="0.68" fill="#111"/>
<circle cx="198.36" cy="383.87" r="0.68" fill="#111"/>
<circle cx="196.68" cy="384.29" r="0.68" fill="#111"/>
<circle cx="199.68" cy="384.16" r="0.68" fill="#111"/>
<circle cx="197.25" cy="384.10" r="0.68" fill="#111"/>
<circle cx="197.00" cy="384.20" r="0.68" fill="#111"/>
<circle cx="199.75" cy="383.80" r="0.68" fill="#111"/>
<circle cx="196.65" cy="384.19" r="0.68" fill="#111"/>
<circle cx="199.65" cy="383.93" r="0.68" fill="#111"/>
<rect x="203.40" y="382.49" width="5.20" height="1.81" fill="#2eba46"/>
<line x1="206.00" y1="381.58" x2="206.00" y2="382.49" stroke="#555" stroke-width="0.6"/>
<line x1="204.40" y1="381.58" x2="207.60" y2="381.58" stroke="#555" stroke-width="0.6"/>
<circle cx="206.59" cy="381.27" r="0.68" fill="#111"/>
<circle cx="206.35" cy="382.12" r="0.68" fill="#111"/>
<circle cx="206.29" cy="382.49" r="0.68" fill="#111"/>
<circle cx="204.19" cy="382.14" r="0.68" fill="#111"/>
<circle cx="204.74" cy="382.06" r="0.68" fill="#111"/>
<circle cx="205.35" cy="382.94" r="0.68" fill="#111"/>
<circle cx="206.16" cy="382.04" r="0.68" fill="#111"/>
<circle cx="205.65" cy="382.10" r="0.68" fill="#111"/>
<circle cx="205.95" cy="382.77" r="0.68" fill="#111"/>
<circle cx="207.06" cy="382.00" r="0.68" fill="#111"/>
<circle cx="205.93" cy="383.56" r="0.68" fill="#111"/>
<rect x="211.26" y="374.04" width="5.20" height="10.26" fill="#2eba46"/>
<line x1="213.86" y1="366.80" x2="213.86" y2="374.04" stroke="#555" stroke-width="0.6"/>
<line x1="212.26" y1="366.80" x2="215.46" y2="366.80" stroke="#555" stroke-width="0.6"/>
<circle cx="212.42" cy="364.26" r="0.68" fill="#111"/>
<circle cx="213.78" cy="368.98" r="0.68" fill="#111"/>
<circle cx="213.41" cy="364.80" r="0.68" fill="#111"/>
<circle cx="213.39" cy="384.24" r="0.68" fill="#111"/>
<circle cx="213.33" cy="375.07" r="0.68" fill="#111"/>
<circle cx="214.03" cy="374.57" r="0.68" fill="#111"/>
<circle cx="213.78" cy="373.44" r="0.68" fill="#111"/>
<circle cx="213.76" cy="379.99" r="0.68" fill="#111"/>
<circle cx="214.68" cy="373.88" r="0.68" fill="#111"/>
<circle cx="212.40" cy="368.05" r="0.68" fill="#111"/>
<circle cx="215.25" cy="359.93" r="0.68" fill="#111"/>
<rect x="219.12" y="383.39" width="5.20" height="0.91" fill="#046a4e"/>
<line x1="221.72" y1="382.79" x2="221.72" y2="383.39" stroke="#555" stroke-width="0.6"/>
<line x1="220.12" y1="382.79" x2="223.32" y2="382.79" stroke="#555" stroke-width="0.6"/>
<circle cx="220.81" cy="382.58" r="0.68" fill="#111"/>
<circle cx="220.12" cy="382.68" r="0.68" fill="#111"/>
<circle cx="223.03" cy="384.23" r="0.68" fill="#111"/>
<circle cx="223.15" cy="383.61" r="0.68" fill="#111"/>
<circle cx="221.26" cy="383.25" r="0.68" fill="#111"/>
<circle cx="220.23" cy="383.41" r="0.68" fill="#111"/>
<circle cx="222.65" cy="383.38" r="0.68" fill="#111"/>
<circle cx="222.84" cy="383.89" r="0.68" fill="#111"/>
<circle cx="223.15" cy="382.71" r="0.68" fill="#111"/>
<circle cx="221.90" cy="383.40" r="0.68" fill="#111"/>
<circle cx="220.17" cy="382.56" r="0.68" fill="#111"/>
<rect x="226.98" y="380.08" width="5.20" height="4.22" fill="#046a4e"/>
<line x1="229.58" y1="374.04" x2="229.58" y2="380.08" stroke="#555" stroke-width="0.6"/>
<line x1="227.98" y1="374.04" x2="231.18" y2="374.04" stroke="#555" stroke-width="0.6"/>
<circle cx="228.01" cy="371.93" r="0.68" fill="#111"/>
<circle cx="230.20" cy="378.30" r="0.68" fill="#111"/>
<circle cx="227.79" cy="383.29" r="0.68" fill="#111"/>
<circle cx="227.82" cy="378.32" r="0.68" fill="#111"/>
<circle cx="229.62" cy="373.11" r="0.68" fill="#111"/>
<circle cx="230.36" cy="377.17" r="0.68" fill="#111"/>
<circle cx="230.51" cy="381.28" r="0.68" fill="#111"/>
<circle cx="230.33" cy="383.88" r="0.68" fill="#111"/>
<circle cx="227.73" cy="383.98" r="0.68" fill="#111"/>
<circle cx="231.37" cy="378.07" r="0.68" fill="#111"/>
<circle cx="228.50" cy="374.83" r="0.68" fill="#111"/>
<rect x="234.84" y="376.21" width="5.20" height="8.09" fill="#046a4e"/>
<line x1="237.44" y1="367.76" x2="237.44" y2="376.21" stroke="#555" stroke-width="0.6"/>
<line x1="235.84" y1="367.76" x2="239.04" y2="367.76" stroke="#555" stroke-width="0.6"/>
<circle cx="238.76" cy="364.81" r="0.68" fill="#111"/>
<circle cx="237.23" cy="377.94" r="0.68" fill="#111"/>
<circle cx="236.06" cy="383.92" r="0.68" fill="#111"/>
<circle cx="238.31" cy="377.51" r="0.68" fill="#111"/>
<circle cx="236.61" cy="372.34" r="0.68" fill="#111"/>
<circle cx="236.43" cy="383.14" r="0.68" fill="#111"/>
<circle cx="237.20" cy="369.30" r="0.68" fill="#111"/>
<circle cx="237.02" cy="364.53" r="0.68" fill="#111"/>
<circle cx="236.75" cy="383.81" r="0.68" fill="#111"/>
<circle cx="236.82" cy="377.47" r="0.68" fill="#111"/>
<circle cx="236.66" cy="375.10" r="0.68" fill="#111"/>
<line x1="121.80" y1="384.30" x2="242.70" y2="384.30" stroke="#231f20" stroke-width="1.3"/>
<line x1="127.40" y1="384.30" x2="127.40" y2="386.90" stroke="#231f20" stroke-width="0.9"/>
<line x1="135.26" y1="384.30" x2="135.26" y2="386.90" stroke="#231f20" stroke-width="0.9"/>
<line x1="143.12" y1="384.30" x2="143.12" y2="386.90" stroke="#231f20" stroke-width="0.9"/>
<line x1="150.98" y1="384.30" x2="150.98" y2="386.90" stroke="#231f20" stroke-width="0.9"/>
<line x1="158.84" y1="384.30" x2="158.84" y2="386.90" stroke="#231f20" stroke-width="0.9"/>
<line x1="166.70" y1="384.30" x2="166.70" y2="386.90" stroke="#231f20" stroke-width="0.9"/>
<line x1="174.56" y1="384.30" x2="174.56" y2="386.90" stroke="#231f20" stroke-width="0.9"/>
<line x1="182.42" y1="384.30" x2="182.42" y2="386.90" stroke="#231f20" stroke-width="0.9"/>
<line x1="190.28" y1="384.30" x2="190.28" y2="386.90" stroke="#231f20" stroke-width="0.9"/>
<line x1="198.14" y1="384.30" x2="198.14" y2="386.90" stroke="#231f20" stroke-width="0.9"/>
<line x1="206.00" y1="384.30" x2="206.00" y2="386.90" stroke="#231f20" stroke-width="0.9"/>
<line x1="213.86" y1="384.30" x2="213.86" y2="386.90" stroke="#231f20" stroke-width="0.9"/>
<line x1="221.72" y1="384.30" x2="221.72" y2="386.90" stroke="#231f20" stroke-width="0.9"/>
<line x1="229.58" y1="384.30" x2="229.58" y2="386.90" stroke="#231f20" stroke-width="0.9"/>
<line x1="237.44" y1="384.30" x2="237.44" y2="386.90" stroke="#231f20" stroke-width="0.9"/>
<text x="127.40" y="393.00" font-size="5.2" text-anchor="middle" fill="#333" stroke="#333" stroke-width="0.15">+</text>
<text x="127.40" y="399.20" font-size="5.2" text-anchor="middle" fill="#333" stroke="#333" stroke-width="0.15">–</text>
<text x="127.40" y="405.10" font-size="5.2" text-anchor="middle" fill="#333" stroke="#333" stroke-width="0.15">–</text>
<text x="135.26" y="393.00" font-size="5.2" text-anchor="middle" fill="#333" stroke="#333" stroke-width="0.15">–</text>
<text x="135.26" y="399.20" font-size="5.2" text-anchor="middle" fill="#333" stroke="#333" stroke-width="0.15">+</text>
<text x="135.26" y="405.10" font-size="5.2" text-anchor="middle" fill="#333" stroke="#333" stroke-width="0.15">–</text>
<text x="143.12" y="393.00" font-size="5.2" text-anchor="middle" fill="#333" stroke="#333" stroke-width="0.15">–</text>
<text x="143.12" y="399.20" font-size="5.2" text-anchor="middle" fill="#333" stroke="#333" stroke-width="0.15">–</text>
<text x="143.12" y="405.10" font-size="5.2" text-anchor="middle" fill="#333" stroke="#333" stroke-width="0.15">+</text>
<text x="150.98" y="393.00" font-size="5.2" text-anchor="middle" fill="#333" stroke="#333" stroke-width="0.15">+</text>
<text x="150.98" y="399.20" font-size="5.2" text-anchor="middle" fill="#333" stroke="#333" stroke-width="0.15">–</text>
<text x="150.98" y="405.10" font-size="5.2" text-anchor="middle" fill="#333" stroke="#333" stroke-width="0.15">–</text>
<text x="158.84" y="393.00" font-size="5.2" text-anchor="middle" fill="#333" stroke="#333" stroke-width="0.15">–</text>
<text x="158.84" y="399.20" font-size="5.2" text-anchor="middle" fill="#333" stroke="#333" stroke-width="0.15">+</text>
<text x="158.84" y="405.10" font-size="5.2" text-anchor="middle" fill="#333" stroke="#333" stroke-width="0.15">–</text>
<text x="166.70" y="393.00" font-size="5.2" text-anchor="middle" fill="#333" stroke="#333" stroke-width="0.15">–</text>
<text x="166.70" y="399.20" font-size="5.2" text-anchor="middle" fill="#333" stroke="#333" stroke-width="0.15">–</text>
<text x="166.70" y="405.10" font-size="5.2" text-anchor="middle" fill="#333" stroke="#333" stroke-width="0.15">+</text>
<text x="174.56" y="393.00" font-size="5.2" text-anchor="middle" fill="#333" stroke="#333" stroke-width="0.15">+</text>
<text x="174.56" y="399.20" font-size="5.2" text-anchor="middle" fill="#333" stroke="#333" stroke-width="0.15">–</text>
<text x="174.56" y="405.10" font-size="5.2" text-anchor="middle" fill="#333" stroke="#333" stroke-width="0.15">–</text>
<text x="182.42" y="393.00" font-size="5.2" text-anchor="middle" fill="#333" stroke="#333" stroke-width="0.15">–</text>
<text x="182.42" y="399.20" font-size="5.2" text-anchor="middle" fill="#333" stroke="#333" stroke-width="0.15">+</text>
<text x="182.42" y="405.10" font-size="5.2" text-anchor="middle" fill="#333" stroke="#333" stroke-width="0.15">–</text>
<text x="190.28" y="393.00" font-size="5.2" text-anchor="middle" fill="#333" stroke="#333" stroke-width="0.15">–</text>
<text x="190.28" y="399.20" font-size="5.2" text-anchor="middle" fill="#333" stroke="#333" stroke-width="0.15">–</text>
<text x="190.28" y="405.10" font-size="5.2" text-anchor="middle" fill="#333" stroke="#333" stroke-width="0.15">+</text>
<text x="198.14" y="393.00" font-size="5.2" text-anchor="middle" fill="#333" stroke="#333" stroke-width="0.15">+</text>
<text x="198.14" y="399.20" font-size="5.2" text-anchor="middle" fill="#333" stroke="#333" stroke-width="0.15">–</text>
<text x="198.14" y="405.10" font-size="5.2" text-anchor="middle" fill="#333" stroke="#333" stroke-width="0.15">–</text>
<text x="206.00" y="393.00" font-size="5.2" text-anchor="middle" fill="#333" stroke="#333" stroke-width="0.15">–</text>
<text x="206.00" y="399.20" font-size="5.2" text-anchor="middle" fill="#333" stroke="#333" stroke-width="0.15">+</text>
<text x="206.00" y="405.10" font-size="5.2" text-anchor="middle" fill="#333" stroke="#333" stroke-width="0.15">–</text>
<text x="213.86" y="393.00" font-size="5.2" text-anchor="middle" fill="#333" stroke="#333" stroke-width="0.15">–</text>
<text x="213.86" y="399.20" font-size="5.2" text-anchor="middle" fill="#333" stroke="#333" stroke-width="0.15">–</text>
<text x="213.86" y="405.10" font-size="5.2" text-anchor="middle" fill="#333" stroke="#333" stroke-width="0.15">+</text>
<text x="221.72" y="393.00" font-size="5.2" text-anchor="middle" fill="#333" stroke="#333" stroke-width="0.15">+</text>
<text x="221.72" y="399.20" font-size="5.2" text-anchor="middle" fill="#333" stroke="#333" stroke-width="0.15">–</text>
<text x="221.72" y="405.10" font-size="5.2" text-anchor="middle" fill="#333" stroke="#333" stroke-width="0.15">–</text>
<text x="229.58" y="393.00" font-size="5.2" text-anchor="middle" fill="#333" stroke="#333" stroke-width="0.15">–</text>
<text x="229.58" y="399.20" font-size="5.2" text-anchor="middle" fill="#333" stroke="#333" stroke-width="0.15">+</text>
<text x="229.58" y="405.10" font-size="5.2" text-anchor="middle" fill="#333" stroke="#333" stroke-width="0.15">–</text>
<text x="237.44" y="393.00" font-size="5.2" text-anchor="middle" fill="#333" stroke="#333" stroke-width="0.15">–</text>
<text x="237.44" y="399.20" font-size="5.2" text-anchor="middle" fill="#333" stroke="#333" stroke-width="0.15">–</text>
<text x="237.44" y="405.10" font-size="5.2" text-anchor="middle" fill="#333" stroke="#333" stroke-width="0.15">+</text>
<line x1="124.00" y1="406.90" x2="145.00" y2="406.90" stroke="#666" stroke-width="1.2"/>
<text x="134.50" y="414.40" font-size="6.6" text-anchor="middle" fill="#333" textLength="12.6" lengthAdjust="spacingAndGlyphs" stroke="#333" stroke-width="0.15">2mo</text>
<line x1="147.58" y1="406.90" x2="168.58" y2="406.90" stroke="#666" stroke-width="1.2"/>
<text x="158.08" y="414.40" font-size="6.6" text-anchor="middle" fill="#333" textLength="6.0" lengthAdjust="spacingAndGlyphs" stroke="#333" stroke-width="0.15">1y</text>
<line x1="171.16" y1="406.90" x2="192.16" y2="406.90" stroke="#666" stroke-width="1.2"/>
<text x="181.66" y="414.40" font-size="6.6" text-anchor="middle" fill="#333" textLength="6.0" lengthAdjust="spacingAndGlyphs" stroke="#333" stroke-width="0.15">2y</text>
<line x1="194.74" y1="406.90" x2="215.74" y2="406.90" stroke="#666" stroke-width="1.2"/>
<text x="205.24" y="414.40" font-size="6.6" text-anchor="middle" fill="#333" textLength="12.6" lengthAdjust="spacingAndGlyphs" stroke="#333" stroke-width="0.15">2mo</text>
<line x1="218.32" y1="406.90" x2="239.32" y2="406.90" stroke="#666" stroke-width="1.2"/>
<text x="228.82" y="414.40" font-size="6.6" text-anchor="middle" fill="#333" textLength="6.0" lengthAdjust="spacingAndGlyphs" stroke="#333" stroke-width="0.15">1y</text>
<line x1="124.00" y1="416.60" x2="193.00" y2="416.60" stroke="#666" stroke-width="1.3"/>
<text x="158.50" y="423.90" font-size="6.6" text-anchor="middle" fill="#333" textLength="24" lengthAdjust="spacingAndGlyphs" stroke="#333" stroke-width="0.15">WT, SPF</text>
<line x1="196.60" y1="416.60" x2="241.70" y2="416.60" stroke="#666" stroke-width="1.3"/>
<text x="219.65" y="423.90" font-size="6.6" text-anchor="middle" fill="#333" textLength="21.5" lengthAdjust="spacingAndGlyphs" stroke="#333" stroke-width="0.15">WT, GF</text>
<text x="122.90" y="393.10" font-size="5.6" text-anchor="end" fill="#333" textLength="35.1" lengthAdjust="spacingAndGlyphs" stroke="#333" stroke-width="0.15">PBS 10h &amp; 24h</text>
<text x="122.90" y="399.30" font-size="5.6" text-anchor="end" fill="#333" textLength="27.3" lengthAdjust="spacingAndGlyphs" stroke="#333" stroke-width="0.15">LPS for 10h</text>
<text x="122.90" y="405.20" font-size="5.6" text-anchor="end" fill="#333" textLength="27.3" lengthAdjust="spacingAndGlyphs" stroke="#333" stroke-width="0.15">LPS for 24h</text>
<text x="102.80" y="354.70" font-size="7.8" text-anchor="middle" fill="#333" textLength="16.8" lengthAdjust="spacingAndGlyphs" transform="rotate(-90 102.80 354.70)" stroke="#333" stroke-width="0.15">pg/ml</text>
<line x1="166.20" y1="316.30" x2="238.10" y2="316.30" stroke="#555" stroke-width="1.25"/>
<circle cx="167.50" cy="313.70" r="0.85" fill="#1a1a1a"/>
<line x1="143.10" y1="321.20" x2="190.00" y2="321.20" stroke="#555" stroke-width="1.25"/>
<circle cx="144.40" cy="318.60" r="0.85" fill="#1a1a1a"/>
<circle cx="147.15" cy="318.60" r="0.85" fill="#1a1a1a"/>
<circle cx="149.90" cy="318.60" r="0.85" fill="#1a1a1a"/>
<circle cx="152.65" cy="318.60" r="0.85" fill="#1a1a1a"/>
<line x1="123.80" y1="330.50" x2="140.00" y2="330.50" stroke="#555" stroke-width="1.25"/>
<circle cx="125.10" cy="327.90" r="0.85" fill="#1a1a1a"/>
<circle cx="127.85" cy="327.90" r="0.85" fill="#1a1a1a"/>
<circle cx="130.60" cy="327.90" r="0.85" fill="#1a1a1a"/>
<circle cx="133.35" cy="327.90" r="0.85" fill="#1a1a1a"/>
<line x1="123.80" y1="335.00" x2="134.60" y2="335.00" stroke="#555" stroke-width="1.25"/>
<circle cx="125.10" cy="332.40" r="0.85" fill="#1a1a1a"/>
<circle cx="127.85" cy="332.40" r="0.85" fill="#1a1a1a"/>
<circle cx="130.60" cy="332.40" r="0.85" fill="#1a1a1a"/>
<circle cx="133.35" cy="332.40" r="0.85" fill="#1a1a1a"/>
<line x1="148.90" y1="330.50" x2="165.80" y2="330.50" stroke="#555" stroke-width="1.25"/>
<circle cx="150.20" cy="327.90" r="0.85" fill="#1a1a1a"/>
<circle cx="152.95" cy="327.90" r="0.85" fill="#1a1a1a"/>
<circle cx="155.70" cy="327.90" r="0.85" fill="#1a1a1a"/>
<circle cx="158.45" cy="327.90" r="0.85" fill="#1a1a1a"/>
<line x1="148.90" y1="335.00" x2="157.70" y2="335.00" stroke="#555" stroke-width="1.25"/>
<circle cx="150.20" cy="332.40" r="0.85" fill="#1a1a1a"/>
<circle cx="152.95" cy="332.40" r="0.85" fill="#1a1a1a"/>
<circle cx="155.70" cy="332.40" r="0.85" fill="#1a1a1a"/>
<line x1="173.10" y1="330.50" x2="190.00" y2="330.50" stroke="#555" stroke-width="1.25"/>
<circle cx="174.40" cy="327.90" r="0.85" fill="#1a1a1a"/>
<circle cx="177.15" cy="327.90" r="0.85" fill="#1a1a1a"/>
<circle cx="179.90" cy="327.90" r="0.85" fill="#1a1a1a"/>
<circle cx="182.65" cy="327.90" r="0.85" fill="#1a1a1a"/>
<line x1="173.10" y1="335.00" x2="183.10" y2="335.00" stroke="#555" stroke-width="1.25"/>
<circle cx="174.40" cy="332.40" r="0.85" fill="#1a1a1a"/>
<circle cx="177.15" cy="332.40" r="0.85" fill="#1a1a1a"/>
<circle cx="179.90" cy="332.40" r="0.85" fill="#1a1a1a"/>
<circle cx="182.65" cy="332.40" r="0.85" fill="#1a1a1a"/>
<line x1="221.10" y1="330.70" x2="238.10" y2="330.70" stroke="#555" stroke-width="1.25"/>
<circle cx="222.40" cy="328.10" r="0.85" fill="#1a1a1a"/>
<text x="316.20" y="305.80" font-size="7.4" text-anchor="middle" fill="#231f20" textLength="39.3" lengthAdjust="spacing" stroke="#231f20" stroke-width="0.15">Gran, IL-1b</text>
<line x1="256.40" y1="323.95" x2="256.40" y2="384.80" stroke="#231f20" stroke-width="1.1"/>
<line x1="253.60" y1="384.30" x2="256.40" y2="384.30" stroke="#231f20" stroke-width="1"/>
<text x="252.10" y="386.40" font-size="6.0" text-anchor="end" fill="#231f20" textLength="4.0" lengthAdjust="spacingAndGlyphs" stroke="#231f20" stroke-width="0.15">0</text>
<line x1="253.60" y1="372.23" x2="256.40" y2="372.23" stroke="#231f20" stroke-width="1"/>
<text x="252.10" y="374.33" font-size="6.0" text-anchor="end" fill="#231f20" textLength="8.0" lengthAdjust="spacingAndGlyphs" stroke="#231f20" stroke-width="0.15">20</text>
<line x1="253.60" y1="360.16" x2="256.40" y2="360.16" stroke="#231f20" stroke-width="1"/>
<text x="252.10" y="362.26" font-size="6.0" text-anchor="end" fill="#231f20" textLength="8.0" lengthAdjust="spacingAndGlyphs" stroke="#231f20" stroke-width="0.15">40</text>
<line x1="253.60" y1="348.09" x2="256.40" y2="348.09" stroke="#231f20" stroke-width="1"/>
<text x="252.10" y="350.19" font-size="6.0" text-anchor="end" fill="#231f20" textLength="8.0" lengthAdjust="spacingAndGlyphs" stroke="#231f20" stroke-width="0.15">60</text>
<line x1="253.60" y1="336.02" x2="256.40" y2="336.02" stroke="#231f20" stroke-width="1"/>
<text x="252.10" y="338.12" font-size="6.0" text-anchor="end" fill="#231f20" textLength="8.0" lengthAdjust="spacingAndGlyphs" stroke="#231f20" stroke-width="0.15">80</text>
<line x1="253.60" y1="323.95" x2="256.40" y2="323.95" stroke="#231f20" stroke-width="1"/>
<text x="252.10" y="326.05" font-size="6.0" text-anchor="end" fill="#231f20" textLength="12.0" lengthAdjust="spacingAndGlyphs" stroke="#231f20" stroke-width="0.15">100</text>
<line x1="280.85" y1="322.45" x2="280.85" y2="384.30" stroke="#111" stroke-width="1.0" stroke-dasharray="1.1 2.07"/>
<line x1="304.43" y1="322.45" x2="304.43" y2="384.30" stroke="#111" stroke-width="1.0" stroke-dasharray="1.1 2.07"/>
<line x1="328.01" y1="322.45" x2="328.01" y2="384.30" stroke="#111" stroke-width="1.0" stroke-dasharray="1.1 2.07"/>
<line x1="351.59" y1="322.45" x2="351.59" y2="384.30" stroke="#111" stroke-width="1.0" stroke-dasharray="1.1 2.07"/>
<rect x="258.60" y="383.50" width="5.20" height="0.80" fill="#105284"/>
<line x1="261.20" y1="383.09" x2="261.20" y2="383.70" stroke="#555" stroke-width="0.6"/>
<line x1="259.60" y1="383.09" x2="262.80" y2="383.09" stroke="#555" stroke-width="0.6"/>
<circle cx="259.58" cy="382.88" r="0.68" fill="#111"/>
<circle cx="261.56" cy="383.04" r="0.68" fill="#111"/>
<circle cx="260.84" cy="384.02" r="0.68" fill="#111"/>
<circle cx="260.12" cy="383.23" r="0.68" fill="#111"/>
<circle cx="259.68" cy="383.82" r="0.68" fill="#111"/>
<circle cx="260.69" cy="384.06" r="0.68" fill="#111"/>
<circle cx="262.90" cy="383.20" r="0.68" fill="#111"/>
<circle cx="261.81" cy="383.99" r="0.68" fill="#111"/>
<circle cx="261.59" cy="384.10" r="0.68" fill="#111"/>
<circle cx="261.29" cy="384.09" r="0.68" fill="#111"/>
<circle cx="261.17" cy="384.05" r="0.68" fill="#111"/>
<rect x="266.46" y="378.87" width="5.20" height="5.43" fill="#105284"/>
<line x1="269.06" y1="377.06" x2="269.06" y2="378.87" stroke="#555" stroke-width="0.6"/>
<line x1="267.46" y1="377.06" x2="270.66" y2="377.06" stroke="#555" stroke-width="0.6"/>
<circle cx="270.14" cy="376.42" r="0.68" fill="#111"/>
<circle cx="268.29" cy="379.64" r="0.68" fill="#111"/>
<circle cx="269.00" cy="378.56" r="0.68" fill="#111"/>
<circle cx="268.84" cy="379.30" r="0.68" fill="#111"/>
<circle cx="268.16" cy="379.09" r="0.68" fill="#111"/>
<circle cx="267.67" cy="379.76" r="0.68" fill="#111"/>
<circle cx="267.16" cy="380.52" r="0.68" fill="#111"/>
<circle cx="267.84" cy="379.54" r="0.68" fill="#111"/>
<circle cx="268.89" cy="377.81" r="0.68" fill="#111"/>
<circle cx="269.31" cy="375.63" r="0.68" fill="#111"/>
<circle cx="270.25" cy="379.36" r="0.68" fill="#111"/>
<rect x="274.32" y="371.02" width="5.20" height="13.28" fill="#105284"/>
<line x1="276.92" y1="367.40" x2="276.92" y2="371.02" stroke="#555" stroke-width="0.6"/>
<line x1="275.32" y1="367.40" x2="278.52" y2="367.40" stroke="#555" stroke-width="0.6"/>
<circle cx="277.57" cy="366.13" r="0.68" fill="#111"/>
<circle cx="276.88" cy="368.10" r="0.68" fill="#111"/>
<circle cx="275.19" cy="371.00" r="0.68" fill="#111"/>
<circle cx="276.13" cy="370.43" r="0.68" fill="#111"/>
<circle cx="277.40" cy="373.33" r="0.68" fill="#111"/>
<circle cx="278.29" cy="373.76" r="0.68" fill="#111"/>
<circle cx="276.99" cy="372.64" r="0.68" fill="#111"/>
<circle cx="277.12" cy="371.57" r="0.68" fill="#111"/>
<circle cx="276.40" cy="370.20" r="0.68" fill="#111"/>
<circle cx="275.05" cy="373.47" r="0.68" fill="#111"/>
<circle cx="275.16" cy="371.59" r="0.68" fill="#111"/>
<rect x="282.18" y="383.50" width="5.20" height="0.80" fill="#561e68"/>
<line x1="284.78" y1="382.49" x2="284.78" y2="383.70" stroke="#555" stroke-width="0.6"/>
<line x1="283.18" y1="382.49" x2="286.38" y2="382.49" stroke="#555" stroke-width="0.6"/>
<circle cx="286.12" cy="382.07" r="0.68" fill="#111"/>
<circle cx="285.09" cy="383.36" r="0.68" fill="#111"/>
<circle cx="285.29" cy="383.59" r="0.68" fill="#111"/>
<circle cx="283.12" cy="382.27" r="0.68" fill="#111"/>
<circle cx="286.67" cy="383.69" r="0.68" fill="#111"/>
<circle cx="283.42" cy="384.29" r="0.68" fill="#111"/>
<circle cx="286.16" cy="383.85" r="0.68" fill="#111"/>
<circle cx="285.99" cy="383.03" r="0.68" fill="#111"/>
<circle cx="284.51" cy="384.15" r="0.68" fill="#111"/>
<circle cx="285.55" cy="383.94" r="0.68" fill="#111"/>
<circle cx="286.08" cy="381.79" r="0.68" fill="#111"/>
<rect x="290.04" y="380.68" width="5.20" height="3.62" fill="#561e68"/>
<line x1="292.64" y1="378.87" x2="292.64" y2="380.68" stroke="#555" stroke-width="0.6"/>
<line x1="291.04" y1="378.87" x2="294.24" y2="378.87" stroke="#555" stroke-width="0.6"/>
<circle cx="294.28" cy="378.23" r="0.68" fill="#111"/>
<circle cx="294.45" cy="381.28" r="0.68" fill="#111"/>
<circle cx="291.75" cy="382.46" r="0.68" fill="#111"/>
<circle cx="291.43" cy="380.92" r="0.68" fill="#111"/>
<circle cx="293.77" cy="380.02" r="0.68" fill="#111"/>
<circle cx="292.25" cy="378.83" r="0.68" fill="#111"/>
<circle cx="294.07" cy="379.42" r="0.68" fill="#111"/>
<circle cx="293.95" cy="380.55" r="0.68" fill="#111"/>
<circle cx="290.90" cy="382.74" r="0.68" fill="#111"/>
<circle cx="292.37" cy="380.81" r="0.68" fill="#111"/>
<circle cx="293.29" cy="379.38" r="0.68" fill="#111"/>
<rect x="297.90" y="374.04" width="5.20" height="10.26" fill="#561e68"/>
<line x1="300.50" y1="369.21" x2="300.50" y2="374.04" stroke="#555" stroke-width="0.6"/>
<line x1="298.90" y1="369.21" x2="302.10" y2="369.21" stroke="#555" stroke-width="0.6"/>
<circle cx="302.13" cy="367.52" r="0.68" fill="#111"/>
<circle cx="301.24" cy="378.13" r="0.68" fill="#111"/>
<circle cx="301.44" cy="376.71" r="0.68" fill="#111"/>
<circle cx="301.70" cy="370.66" r="0.68" fill="#111"/>
<circle cx="300.94" cy="376.36" r="0.68" fill="#111"/>
<circle cx="299.47" cy="371.57" r="0.68" fill="#111"/>
<circle cx="301.07" cy="374.01" r="0.68" fill="#111"/>
<circle cx="300.45" cy="374.07" r="0.68" fill="#111"/>
<circle cx="300.40" cy="372.45" r="0.68" fill="#111"/>
<circle cx="302.26" cy="369.61" r="0.68" fill="#111"/>
<circle cx="301.91" cy="370.44" r="0.68" fill="#111"/>
<rect x="305.76" y="382.61" width="5.20" height="1.69" fill="#c41430"/>
<line x1="308.36" y1="380.20" x2="308.36" y2="382.61" stroke="#555" stroke-width="0.6"/>
<line x1="306.76" y1="380.20" x2="309.96" y2="380.20" stroke="#555" stroke-width="0.6"/>
<circle cx="309.82" cy="379.35" r="0.68" fill="#111"/>
<circle cx="309.63" cy="380.89" r="0.68" fill="#111"/>
<circle cx="310.23" cy="379.69" r="0.68" fill="#111"/>
<circle cx="307.24" cy="382.50" r="0.68" fill="#111"/>
<circle cx="308.94" cy="384.27" r="0.68" fill="#111"/>
<circle cx="308.64" cy="381.87" r="0.68" fill="#111"/>
<circle cx="309.60" cy="379.66" r="0.68" fill="#111"/>
<circle cx="309.90" cy="383.56" r="0.68" fill="#111"/>
<circle cx="308.98" cy="381.40" r="0.68" fill="#111"/>
<circle cx="308.12" cy="384.29" r="0.68" fill="#111"/>
<circle cx="308.90" cy="381.00" r="0.68" fill="#111"/>
<rect x="313.62" y="379.23" width="5.20" height="5.07" fill="#c41430"/>
<line x1="316.22" y1="377.42" x2="316.22" y2="379.23" stroke="#555" stroke-width="0.6"/>
<line x1="314.62" y1="377.42" x2="317.82" y2="377.42" stroke="#555" stroke-width="0.6"/>
<circle cx="318.04" cy="376.79" r="0.68" fill="#111"/>
<circle cx="317.68" cy="379.35" r="0.68" fill="#111"/>
<circle cx="315.06" cy="379.17" r="0.68" fill="#111"/>
<circle cx="317.10" cy="380.33" r="0.68" fill="#111"/>
<circle cx="315.13" cy="378.36" r="0.68" fill="#111"/>
<circle cx="317.06" cy="381.00" r="0.68" fill="#111"/>
<circle cx="316.56" cy="380.53" r="0.68" fill="#111"/>
<circle cx="316.03" cy="379.42" r="0.68" fill="#111"/>
<circle cx="318.05" cy="380.58" r="0.68" fill="#111"/>
<circle cx="314.74" cy="381.05" r="0.68" fill="#111"/>
<circle cx="316.82" cy="382.18" r="0.68" fill="#111"/>
<rect x="321.48" y="363.78" width="5.20" height="20.52" fill="#c41430"/>
<line x1="324.08" y1="360.16" x2="324.08" y2="363.78" stroke="#555" stroke-width="0.6"/>
<line x1="322.48" y1="360.16" x2="325.68" y2="360.16" stroke="#555" stroke-width="0.6"/>
<circle cx="324.38" cy="358.89" r="0.68" fill="#111"/>
<circle cx="325.19" cy="363.37" r="0.68" fill="#111"/>
<circle cx="324.55" cy="364.33" r="0.68" fill="#111"/>
<circle cx="324.53" cy="365.80" r="0.68" fill="#111"/>
<circle cx="322.66" cy="364.96" r="0.68" fill="#111"/>
<circle cx="325.72" cy="365.85" r="0.68" fill="#111"/>
<circle cx="325.24" cy="364.12" r="0.68" fill="#111"/>
<circle cx="323.64" cy="368.27" r="0.68" fill="#111"/>
<circle cx="324.17" cy="363.01" r="0.68" fill="#111"/>
<circle cx="325.08" cy="360.95" r="0.68" fill="#111"/>
<circle cx="325.07" cy="359.22" r="0.68" fill="#111"/>
<rect x="329.34" y="383.50" width="5.20" height="0.80" fill="#2eba46"/>
<line x1="331.94" y1="383.21" x2="331.94" y2="383.82" stroke="#555" stroke-width="0.6"/>
<line x1="330.34" y1="383.21" x2="333.54" y2="383.21" stroke="#555" stroke-width="0.6"/>
<circle cx="330.09" cy="383.00" r="0.68" fill="#111"/>
<circle cx="332.19" cy="383.40" r="0.68" fill="#111"/>
<circle cx="331.64" cy="383.97" r="0.68" fill="#111"/>
<circle cx="333.41" cy="383.81" r="0.68" fill="#111"/>
<circle cx="333.13" cy="384.10" r="0.68" fill="#111"/>
<circle cx="331.39" cy="384.09" r="0.68" fill="#111"/>
<circle cx="330.33" cy="383.45" r="0.68" fill="#111"/>
<circle cx="333.73" cy="384.09" r="0.68" fill="#111"/>
<circle cx="332.97" cy="383.51" r="0.68" fill="#111"/>
<circle cx="330.48" cy="383.67" r="0.68" fill="#111"/>
<circle cx="332.28" cy="384.19" r="0.68" fill="#111"/>
<rect x="337.20" y="378.87" width="5.20" height="5.43" fill="#2eba46"/>
<line x1="339.80" y1="378.26" x2="339.80" y2="378.87" stroke="#555" stroke-width="0.6"/>
<line x1="338.20" y1="378.26" x2="341.40" y2="378.26" stroke="#555" stroke-width="0.6"/>
<circle cx="339.22" cy="378.05" r="0.68" fill="#111"/>
<circle cx="340.10" cy="378.81" r="0.68" fill="#111"/>
<circle cx="340.28" cy="380.01" r="0.68" fill="#111"/>
<circle cx="341.67" cy="379.14" r="0.68" fill="#111"/>
<circle cx="341.59" cy="378.31" r="0.68" fill="#111"/>
<circle cx="338.76" cy="378.46" r="0.68" fill="#111"/>
<circle cx="340.91" cy="378.86" r="0.68" fill="#111"/>
<circle cx="340.81" cy="378.75" r="0.68" fill="#111"/>
<circle cx="338.54" cy="378.51" r="0.68" fill="#111"/>
<circle cx="341.31" cy="378.20" r="0.68" fill="#111"/>
<circle cx="341.01" cy="378.96" r="0.68" fill="#111"/>
<rect x="345.06" y="380.32" width="5.20" height="3.98" fill="#2eba46"/>
<line x1="347.66" y1="376.70" x2="347.66" y2="380.32" stroke="#555" stroke-width="0.6"/>
<line x1="346.06" y1="376.70" x2="349.26" y2="376.70" stroke="#555" stroke-width="0.6"/>
<circle cx="347.34" cy="375.43" r="0.68" fill="#111"/>
<circle cx="346.60" cy="375.72" r="0.68" fill="#111"/>
<circle cx="347.89" cy="376.26" r="0.68" fill="#111"/>
<circle cx="346.91" cy="379.11" r="0.68" fill="#111"/>
<circle cx="347.45" cy="379.42" r="0.68" fill="#111"/>
<circle cx="346.09" cy="381.88" r="0.68" fill="#111"/>
<circle cx="347.66" cy="383.65" r="0.68" fill="#111"/>
<circle cx="346.34" cy="375.76" r="0.68" fill="#111"/>
<circle cx="346.82" cy="379.99" r="0.68" fill="#111"/>
<circle cx="349.13" cy="376.43" r="0.68" fill="#111"/>
<circle cx="348.12" cy="375.23" r="0.68" fill="#111"/>
<rect x="352.92" y="382.91" width="5.20" height="1.39" fill="#046a4e"/>
<line x1="355.52" y1="381.70" x2="355.52" y2="382.91" stroke="#555" stroke-width="0.6"/>
<line x1="353.92" y1="381.70" x2="357.12" y2="381.70" stroke="#555" stroke-width="0.6"/>
<circle cx="356.74" cy="381.28" r="0.68" fill="#111"/>
<circle cx="354.27" cy="383.12" r="0.68" fill="#111"/>
<circle cx="356.00" cy="382.64" r="0.68" fill="#111"/>
<circle cx="356.59" cy="382.48" r="0.68" fill="#111"/>
<circle cx="356.96" cy="382.84" r="0.68" fill="#111"/>
<circle cx="355.73" cy="381.84" r="0.68" fill="#111"/>
<circle cx="356.95" cy="384.27" r="0.68" fill="#111"/>
<circle cx="355.24" cy="383.29" r="0.68" fill="#111"/>
<circle cx="353.71" cy="384.01" r="0.68" fill="#111"/>
<circle cx="355.37" cy="382.33" r="0.68" fill="#111"/>
<circle cx="354.08" cy="382.55" r="0.68" fill="#111"/>
<rect x="360.78" y="379.23" width="5.20" height="5.07" fill="#046a4e"/>
<line x1="363.38" y1="376.82" x2="363.38" y2="379.23" stroke="#555" stroke-width="0.6"/>
<line x1="361.78" y1="376.82" x2="364.98" y2="376.82" stroke="#555" stroke-width="0.6"/>
<circle cx="364.29" cy="375.97" r="0.68" fill="#111"/>
<circle cx="364.87" cy="379.67" r="0.68" fill="#111"/>
<circle cx="365.12" cy="378.67" r="0.68" fill="#111"/>
<circle cx="362.50" cy="375.50" r="0.68" fill="#111"/>
<circle cx="364.86" cy="376.94" r="0.68" fill="#111"/>
<circle cx="364.51" cy="376.93" r="0.68" fill="#111"/>
<circle cx="361.91" cy="381.29" r="0.68" fill="#111"/>
<circle cx="362.37" cy="377.89" r="0.68" fill="#111"/>
<circle cx="361.82" cy="381.84" r="0.68" fill="#111"/>
<circle cx="365.01" cy="377.77" r="0.68" fill="#111"/>
<circle cx="362.38" cy="374.53" r="0.68" fill="#111"/>
<rect x="368.64" y="379.83" width="5.20" height="4.47" fill="#046a4e"/>
<line x1="371.24" y1="378.63" x2="371.24" y2="379.83" stroke="#555" stroke-width="0.6"/>
<line x1="369.64" y1="378.63" x2="372.84" y2="378.63" stroke="#555" stroke-width="0.6"/>
<circle cx="372.45" cy="378.20" r="0.68" fill="#111"/>
<circle cx="371.13" cy="378.90" r="0.68" fill="#111"/>
<circle cx="372.00" cy="381.88" r="0.68" fill="#111"/>
<circle cx="369.75" cy="380.28" r="0.68" fill="#111"/>
<circle cx="372.70" cy="378.18" r="0.68" fill="#111"/>
<circle cx="372.92" cy="380.10" r="0.68" fill="#111"/>
<circle cx="370.54" cy="380.01" r="0.68" fill="#111"/>
<circle cx="369.44" cy="379.20" r="0.68" fill="#111"/>
<circle cx="370.41" cy="379.54" r="0.68" fill="#111"/>
<circle cx="371.74" cy="380.51" r="0.68" fill="#111"/>
<circle cx="372.59" cy="382.45" r="0.68" fill="#111"/>
<line x1="255.90" y1="384.30" x2="376.80" y2="384.30" stroke="#231f20" stroke-width="1.3"/>
<line x1="261.20" y1="384.30" x2="261.20" y2="386.90" stroke="#231f20" stroke-width="0.9"/>
<line x1="269.06" y1="384.30" x2="269.06" y2="386.90" stroke="#231f20" stroke-width="0.9"/>
<line x1="276.92" y1="384.30" x2="276.92" y2="386.90" stroke="#231f20" stroke-width="0.9"/>
<line x1="284.78" y1="384.30" x2="284.78" y2="386.90" stroke="#231f20" stroke-width="0.9"/>
<line x1="292.64" y1="384.30" x2="292.64" y2="386.90" stroke="#231f20" stroke-width="0.9"/>
<line x1="300.50" y1="384.30" x2="300.50" y2="386.90" stroke="#231f20" stroke-width="0.9"/>
<line x1="308.36" y1="384.30" x2="308.36" y2="386.90" stroke="#231f20" stroke-width="0.9"/>
<line x1="316.22" y1="384.30" x2="316.22" y2="386.90" stroke="#231f20" stroke-width="0.9"/>
<line x1="324.08" y1="384.30" x2="324.08" y2="386.90" stroke="#231f20" stroke-width="0.9"/>
<line x1="331.94" y1="384.30" x2="331.94" y2="386.90" stroke="#231f20" stroke-width="0.9"/>
<line x1="339.80" y1="384.30" x2="339.80" y2="386.90" stroke="#231f20" stroke-width="0.9"/>
<line x1="347.66" y1="384.30" x2="347.66" y2="386.90" stroke="#231f20" stroke-width="0.9"/>
<line x1="355.52" y1="384.30" x2="355.52" y2="386.90" stroke="#231f20" stroke-width="0.9"/>
<line x1="363.38" y1="384.30" x2="363.38" y2="386.90" stroke="#231f20" stroke-width="0.9"/>
<line x1="371.24" y1="384.30" x2="371.24" y2="386.90" stroke="#231f20" stroke-width="0.9"/>
<text x="261.20" y="393.00" font-size="5.2" text-anchor="middle" fill="#333" stroke="#333" stroke-width="0.15">+</text>
<text x="261.20" y="399.20" font-size="5.2" text-anchor="middle" fill="#333" stroke="#333" stroke-width="0.15">–</text>
<text x="261.20" y="405.10" font-size="5.2" text-anchor="middle" fill="#333" stroke="#333" stroke-width="0.15">–</text>
<text x="269.06" y="393.00" font-size="5.2" text-anchor="middle" fill="#333" stroke="#333" stroke-width="0.15">–</text>
<text x="269.06" y="399.20" font-size="5.2" text-anchor="middle" fill="#333" stroke="#333" stroke-width="0.15">+</text>
<text x="269.06" y="405.10" font-size="5.2" text-anchor="middle" fill="#333" stroke="#333" stroke-width="0.15">–</text>
<text x="276.92" y="393.00" font-size="5.2" text-anchor="middle" fill="#333" stroke="#333" stroke-width="0.15">–</text>
<text x="276.92" y="399.20" font-size="5.2" text-anchor="middle" fill="#333" stroke="#333" stroke-width="0.15">–</text>
<text x="276.92" y="405.10" font-size="5.2" text-anchor="middle" fill="#333" stroke="#333" stroke-width="0.15">+</text>
<text x="284.78" y="393.00" font-size="5.2" text-anchor="middle" fill="#333" stroke="#333" stroke-width="0.15">+</text>
<text x="284.78" y="399.20" font-size="5.2" text-anchor="middle" fill="#333" stroke="#333" stroke-width="0.15">–</text>
<text x="284.78" y="405.10" font-size="5.2" text-anchor="middle" fill="#333" stroke="#333" stroke-width="0.15">–</text>
<text x="292.64" y="393.00" font-size="5.2" text-anchor="middle" fill="#333" stroke="#333" stroke-width="0.15">–</text>
<text x="292.64" y="399.20" font-size="5.2" text-anchor="middle" fill="#333" stroke="#333" stroke-width="0.15">+</text>
<text x="292.64" y="405.10" font-size="5.2" text-anchor="middle" fill="#333" stroke="#333" stroke-width="0.15">–</text>
<text x="300.50" y="393.00" font-size="5.2" text-anchor="middle" fill="#333" stroke="#333" stroke-width="0.15">–</text>
<text x="300.50" y="399.20" font-size="5.2" text-anchor="middle" fill="#333" stroke="#333" stroke-width="0.15">–</text>
<text x="300.50" y="405.10" font-size="5.2" text-anchor="middle" fill="#333" stroke="#333" stroke-width="0.15">+</text>
<text x="308.36" y="393.00" font-size="5.2" text-anchor="middle" fill="#333" stroke="#333" stroke-width="0.15">+</text>
<text x="308.36" y="399.20" font-size="5.2" text-anchor="middle" fill="#333" stroke="#333" stroke-width="0.15">–</text>
<text x="308.36" y="405.10" font-size="5.2" text-anchor="middle" fill="#333" stroke="#333" stroke-width="0.15">–</text>
<text x="316.22" y="393.00" font-size="5.2" text-anchor="middle" fill="#333" stroke="#333" stroke-width="0.15">–</text>
<text x="316.22" y="399.20" font-size="5.2" text-anchor="middle" fill="#333" stroke="#333" stroke-width="0.15">+</text>
<text x="316.22" y="405.10" font-size="5.2" text-anchor="middle" fill="#333" stroke="#333" stroke-width="0.15">–</text>
<text x="324.08" y="393.00" font-size="5.2" text-anchor="middle" fill="#333" stroke="#333" stroke-width="0.15">–</text>
<text x="324.08" y="399.20" font-size="5.2" text-anchor="middle" fill="#333" stroke="#333" stroke-width="0.15">–</text>
<text x="324.08" y="405.10" font-size="5.2" text-anchor="middle" fill="#333" stroke="#333" stroke-width="0.15">+</text>
<text x="331.94" y="393.00" font-size="5.2" text-anchor="middle" fill="#333" stroke="#333" stroke-width="0.15">+</text>
<text x="331.94" y="399.20" font-size="5.2" text-anchor="middle" fill="#333" stroke="#333" stroke-width="0.15">–</text>
<text x="331.94" y="405.10" font-size="5.2" text-anchor="middle" fill="#333" stroke="#333" stroke-width="0.15">–</text>
<text x="339.80" y="393.00" font-size="5.2" text-anchor="middle" fill="#333" stroke="#333" stroke-width="0.15">–</text>
<text x="339.80" y="399.20" font-size="5.2" text-anchor="middle" fill="#333" stroke="#333" stroke-width="0.15">+</text>
<text x="339.80" y="405.10" font-size="5.2" text-anchor="middle" fill="#333" stroke="#333" stroke-width="0.15">–</text>
<text x="347.66" y="393.00" font-size="5.2" text-anchor="middle" fill="#333" stroke="#333" stroke-width="0.15">–</text>
<text x="347.66" y="399.20" font-size="5.2" text-anchor="middle" fill="#333" stroke="#333" stroke-width="0.15">–</text>
<text x="347.66" y="405.10" font-size="5.2" text-anchor="middle" fill="#333" stroke="#333" stroke-width="0.15">+</text>
<text x="355.52" y="393.00" font-size="5.2" text-anchor="middle" fill="#333" stroke="#333" stroke-width="0.15">+</text>
<text x="355.52" y="399.20" font-size="5.2" text-anchor="middle" fill="#333" stroke="#333" stroke-width="0.15">–</text>
<text x="355.52" y="405.10" font-size="5.2" text-anchor="middle" fill="#333" stroke="#333" stroke-width="0.15">–</text>
<text x="363.38" y="393.00" font-size="5.2" text-anchor="middle" fill="#333" stroke="#333" stroke-width="0.15">–</text>
<text x="363.38" y="399.20" font-size="5.2" text-anchor="middle" fill="#333" stroke="#333" stroke-width="0.15">+</text>
<text x="363.38" y="405.10" font-size="5.2" text-anchor="middle" fill="#333" stroke="#333" stroke-width="0.15">–</text>
<text x="371.24" y="393.00" font-size="5.2" text-anchor="middle" fill="#333" stroke="#333" stroke-width="0.15">–</text>
<text x="371.24" y="399.20" font-size="5.2" text-anchor="middle" fill="#333" stroke="#333" stroke-width="0.15">–</text>
<text x="371.24" y="405.10" font-size="5.2" text-anchor="middle" fill="#333" stroke="#333" stroke-width="0.15">+</text>
<line x1="257.80" y1="406.90" x2="278.80" y2="406.90" stroke="#666" stroke-width="1.2"/>
<text x="268.30" y="414.40" font-size="6.6" text-anchor="middle" fill="#333" textLength="12.6" lengthAdjust="spacingAndGlyphs" stroke="#333" stroke-width="0.15">2mo</text>
<line x1="281.38" y1="406.90" x2="302.38" y2="406.90" stroke="#666" stroke-width="1.2"/>
<text x="291.88" y="414.40" font-size="6.6" text-anchor="middle" fill="#333" textLength="6.0" lengthAdjust="spacingAndGlyphs" stroke="#333" stroke-width="0.15">1y</text>
<line x1="304.96" y1="406.90" x2="325.96" y2="406.90" stroke="#666" stroke-width="1.2"/>
<text x="315.46" y="414.40" font-size="6.6" text-anchor="middle" fill="#333" textLength="6.0" lengthAdjust="spacingAndGlyphs" stroke="#333" stroke-width="0.15">2y</text>
<line x1="328.54" y1="406.90" x2="349.54" y2="406.90" stroke="#666" stroke-width="1.2"/>
<text x="339.04" y="414.40" font-size="6.6" text-anchor="middle" fill="#333" textLength="12.6" lengthAdjust="spacingAndGlyphs" stroke="#333" stroke-width="0.15">2mo</text>
<line x1="352.12" y1="406.90" x2="373.12" y2="406.90" stroke="#666" stroke-width="1.2"/>
<text x="362.62" y="414.40" font-size="6.6" text-anchor="middle" fill="#333" textLength="6.0" lengthAdjust="spacingAndGlyphs" stroke="#333" stroke-width="0.15">1y</text>
<line x1="257.80" y1="416.60" x2="326.80" y2="416.60" stroke="#666" stroke-width="1.3"/>
<text x="292.30" y="423.90" font-size="6.6" text-anchor="middle" fill="#333" textLength="24" lengthAdjust="spacingAndGlyphs" stroke="#333" stroke-width="0.15">WT, SPF</text>
<line x1="330.40" y1="416.60" x2="375.80" y2="416.60" stroke="#666" stroke-width="1.3"/>
<text x="353.60" y="423.90" font-size="6.6" text-anchor="middle" fill="#333" textLength="21.5" lengthAdjust="spacingAndGlyphs" stroke="#333" stroke-width="0.15">WT, GF</text>
<line x1="298.40" y1="311.50" x2="370.40" y2="311.50" stroke="#555" stroke-width="1.25"/>
<circle cx="299.70" cy="308.90" r="0.85" fill="#1a1a1a"/>
<line x1="274.60" y1="316.30" x2="346.20" y2="316.30" stroke="#555" stroke-width="1.25"/>
<circle cx="275.90" cy="313.70" r="0.85" fill="#1a1a1a"/>
<line x1="274.60" y1="322.30" x2="321.50" y2="322.30" stroke="#555" stroke-width="1.25"/>
<circle cx="275.90" cy="319.70" r="0.85" fill="#1a1a1a"/>
<circle cx="278.65" cy="319.70" r="0.85" fill="#1a1a1a"/>
<line x1="258.50" y1="330.50" x2="275.80" y2="330.50" stroke="#555" stroke-width="1.25"/>
<circle cx="259.80" cy="327.90" r="0.85" fill="#1a1a1a"/>
<circle cx="262.55" cy="327.90" r="0.85" fill="#1a1a1a"/>
<circle cx="265.30" cy="327.90" r="0.85" fill="#1a1a1a"/>
<circle cx="268.05" cy="327.90" r="0.85" fill="#1a1a1a"/>
<line x1="258.50" y1="334.80" x2="270.70" y2="334.80" stroke="#555" stroke-width="1.25"/>
<circle cx="259.80" cy="332.20" r="0.85" fill="#1a1a1a"/>
<circle cx="262.55" cy="332.20" r="0.85" fill="#1a1a1a"/>
<circle cx="265.30" cy="332.20" r="0.85" fill="#1a1a1a"/>
<circle cx="268.05" cy="332.20" r="0.85" fill="#1a1a1a"/>
<line x1="283.20" y1="330.50" x2="300.00" y2="330.50" stroke="#555" stroke-width="1.25"/>
<circle cx="284.50" cy="327.90" r="0.85" fill="#1a1a1a"/>
<circle cx="287.25" cy="327.90" r="0.85" fill="#1a1a1a"/>
<circle cx="290.00" cy="327.90" r="0.85" fill="#1a1a1a"/>
<circle cx="292.75" cy="327.90" r="0.85" fill="#1a1a1a"/>
<line x1="283.20" y1="334.80" x2="292.00" y2="334.80" stroke="#555" stroke-width="1.25"/>
<circle cx="284.50" cy="332.20" r="0.85" fill="#1a1a1a"/>
<circle cx="287.25" cy="332.20" r="0.85" fill="#1a1a1a"/>
<line x1="307.60" y1="330.50" x2="324.20" y2="330.50" stroke="#555" stroke-width="1.25"/>
<circle cx="308.90" cy="327.90" r="0.85" fill="#1a1a1a"/>
<line x1="307.60" y1="334.80" x2="317.30" y2="334.80" stroke="#555" stroke-width="1.25"/>
<circle cx="308.90" cy="332.20" r="0.85" fill="#1a1a1a"/>
<line x1="330.00" y1="330.50" x2="347.30" y2="330.50" stroke="#555" stroke-width="1.25"/>
<circle cx="331.30" cy="327.90" r="0.85" fill="#1a1a1a"/>
<line x1="330.00" y1="334.80" x2="340.40" y2="334.80" stroke="#555" stroke-width="1.25"/>
<circle cx="331.30" cy="332.20" r="0.85" fill="#1a1a1a"/>
<circle cx="334.05" cy="332.20" r="0.85" fill="#1a1a1a"/>
<circle cx="336.80" cy="332.20" r="0.85" fill="#1a1a1a"/>
<circle cx="339.55" cy="332.20" r="0.85" fill="#1a1a1a"/>
<line x1="354.20" y1="330.50" x2="370.40" y2="330.50" stroke="#555" stroke-width="1.25"/>
<circle cx="355.50" cy="327.90" r="0.85" fill="#1a1a1a"/>
<line x1="354.20" y1="334.80" x2="363.50" y2="334.80" stroke="#555" stroke-width="1.25"/>
<circle cx="355.50" cy="332.20" r="0.85" fill="#1a1a1a"/>
<text x="449.90" y="305.80" font-size="7.4" text-anchor="middle" fill="#231f20" textLength="41.7" lengthAdjust="spacing" stroke="#231f20" stroke-width="0.15">WBM, IL-1b</text>
<line x1="389.40" y1="323.95" x2="389.40" y2="384.80" stroke="#231f20" stroke-width="1.1"/>
<line x1="386.60" y1="384.30" x2="389.40" y2="384.30" stroke="#231f20" stroke-width="1"/>
<text x="385.10" y="386.40" font-size="6.0" text-anchor="end" fill="#231f20" textLength="4.0" lengthAdjust="spacingAndGlyphs" stroke="#231f20" stroke-width="0.15">0</text>
<line x1="386.60" y1="372.23" x2="389.40" y2="372.23" stroke="#231f20" stroke-width="1"/>
<text x="385.10" y="374.33" font-size="6.0" text-anchor="end" fill="#231f20" textLength="8.0" lengthAdjust="spacingAndGlyphs" stroke="#231f20" stroke-width="0.15">20</text>
<line x1="386.60" y1="360.16" x2="389.40" y2="360.16" stroke="#231f20" stroke-width="1"/>
<text x="385.10" y="362.26" font-size="6.0" text-anchor="end" fill="#231f20" textLength="8.0" lengthAdjust="spacingAndGlyphs" stroke="#231f20" stroke-width="0.15">40</text>
<line x1="386.60" y1="348.09" x2="389.40" y2="348.09" stroke="#231f20" stroke-width="1"/>
<text x="385.10" y="350.19" font-size="6.0" text-anchor="end" fill="#231f20" textLength="8.0" lengthAdjust="spacingAndGlyphs" stroke="#231f20" stroke-width="0.15">60</text>
<line x1="386.60" y1="336.02" x2="389.40" y2="336.02" stroke="#231f20" stroke-width="1"/>
<text x="385.10" y="338.12" font-size="6.0" text-anchor="end" fill="#231f20" textLength="8.0" lengthAdjust="spacingAndGlyphs" stroke="#231f20" stroke-width="0.15">80</text>
<line x1="386.60" y1="323.95" x2="389.40" y2="323.95" stroke="#231f20" stroke-width="1"/>
<text x="385.10" y="326.05" font-size="6.0" text-anchor="end" fill="#231f20" textLength="12.0" lengthAdjust="spacingAndGlyphs" stroke="#231f20" stroke-width="0.15">100</text>
<line x1="414.28" y1="322.45" x2="414.28" y2="384.30" stroke="#111" stroke-width="1.0" stroke-dasharray="1.1 2.07"/>
<line x1="437.89" y1="322.45" x2="437.89" y2="384.30" stroke="#111" stroke-width="1.0" stroke-dasharray="1.1 2.07"/>
<line x1="461.50" y1="322.45" x2="461.50" y2="384.30" stroke="#111" stroke-width="1.0" stroke-dasharray="1.1 2.07"/>
<line x1="485.11" y1="322.45" x2="485.11" y2="384.30" stroke="#111" stroke-width="1.0" stroke-dasharray="1.1 2.07"/>
<rect x="392.00" y="383.50" width="5.20" height="0.80" fill="#105284"/>
<line x1="394.60" y1="383.09" x2="394.60" y2="383.70" stroke="#555" stroke-width="0.6"/>
<line x1="393.00" y1="383.09" x2="396.20" y2="383.09" stroke="#555" stroke-width="0.6"/>
<circle cx="394.16" cy="382.88" r="0.68" fill="#111"/>
<circle cx="393.66" cy="384.29" r="0.68" fill="#111"/>
<circle cx="393.48" cy="383.38" r="0.68" fill="#111"/>
<circle cx="395.51" cy="383.22" r="0.68" fill="#111"/>
<circle cx="394.78" cy="383.95" r="0.68" fill="#111"/>
<circle cx="395.09" cy="383.16" r="0.68" fill="#111"/>
<circle cx="395.32" cy="383.50" r="0.68" fill="#111"/>
<circle cx="393.51" cy="383.41" r="0.68" fill="#111"/>
<circle cx="394.18" cy="384.25" r="0.68" fill="#111"/>
<circle cx="396.35" cy="384.17" r="0.68" fill="#111"/>
<circle cx="394.70" cy="384.24" r="0.68" fill="#111"/>
<rect x="399.87" y="381.28" width="5.20" height="3.02" fill="#105284"/>
<line x1="402.47" y1="379.47" x2="402.47" y2="381.28" stroke="#555" stroke-width="0.6"/>
<line x1="400.87" y1="379.47" x2="404.07" y2="379.47" stroke="#555" stroke-width="0.6"/>
<circle cx="403.43" cy="378.84" r="0.68" fill="#111"/>
<circle cx="402.54" cy="381.65" r="0.68" fill="#111"/>
<circle cx="402.78" cy="382.10" r="0.68" fill="#111"/>
<circle cx="404.02" cy="383.23" r="0.68" fill="#111"/>
<circle cx="403.59" cy="380.83" r="0.68" fill="#111"/>
<circle cx="403.24" cy="380.99" r="0.68" fill="#111"/>
<circle cx="402.95" cy="381.98" r="0.68" fill="#111"/>
<circle cx="401.23" cy="381.19" r="0.68" fill="#111"/>
<circle cx="404.28" cy="381.32" r="0.68" fill="#111"/>
<circle cx="402.82" cy="382.76" r="0.68" fill="#111"/>
<circle cx="402.08" cy="379.76" r="0.68" fill="#111"/>
<rect x="407.74" y="378.26" width="5.20" height="6.04" fill="#105284"/>
<line x1="410.34" y1="375.85" x2="410.34" y2="378.26" stroke="#555" stroke-width="0.6"/>
<line x1="408.74" y1="375.85" x2="411.94" y2="375.85" stroke="#555" stroke-width="0.6"/>
<circle cx="412.18" cy="375.01" r="0.68" fill="#111"/>
<circle cx="410.47" cy="377.39" r="0.68" fill="#111"/>
<circle cx="411.14" cy="377.88" r="0.68" fill="#111"/>
<circle cx="410.74" cy="379.76" r="0.68" fill="#111"/>
<circle cx="408.74" cy="378.42" r="0.68" fill="#111"/>
<circle cx="412.11" cy="381.99" r="0.68" fill="#111"/>
<circle cx="410.20" cy="379.35" r="0.68" fill="#111"/>
<circle cx="408.81" cy="379.16" r="0.68" fill="#111"/>
<circle cx="411.14" cy="377.86" r="0.68" fill="#111"/>
<circle cx="411.73" cy="374.84" r="0.68" fill="#111"/>
<circle cx="409.88" cy="377.81" r="0.68" fill="#111"/>
<rect x="415.61" y="383.50" width="5.20" height="0.80" fill="#561e68"/>
<line x1="418.21" y1="383.09" x2="418.21" y2="383.70" stroke="#555" stroke-width="0.6"/>
<line x1="416.61" y1="383.09" x2="419.81" y2="383.09" stroke="#555" stroke-width="0.6"/>
<circle cx="418.19" cy="382.88" r="0.68" fill="#111"/>
<circle cx="419.11" cy="383.79" r="0.68" fill="#111"/>
<circle cx="418.53" cy="384.07" r="0.68" fill="#111"/>
<circle cx="416.59" cy="383.89" r="0.68" fill="#111"/>
<circle cx="418.56" cy="382.92" r="0.68" fill="#111"/>
<circle cx="418.13" cy="383.65" r="0.68" fill="#111"/>
<circle cx="418.29" cy="383.57" r="0.68" fill="#111"/>
<circle cx="419.84" cy="384.03" r="0.68" fill="#111"/>
<circle cx="419.29" cy="383.98" r="0.68" fill="#111"/>
<circle cx="419.96" cy="383.67" r="0.68" fill="#111"/>
<circle cx="417.87" cy="383.66" r="0.68" fill="#111"/>
<rect x="423.48" y="379.47" width="5.20" height="4.83" fill="#561e68"/>
<line x1="426.08" y1="377.06" x2="426.08" y2="379.47" stroke="#555" stroke-width="0.6"/>
<line x1="424.48" y1="377.06" x2="427.68" y2="377.06" stroke="#555" stroke-width="0.6"/>
<circle cx="426.84" cy="376.21" r="0.68" fill="#111"/>
<circle cx="424.85" cy="378.78" r="0.68" fill="#111"/>
<circle cx="425.52" cy="381.37" r="0.68" fill="#111"/>
<circle cx="426.66" cy="377.52" r="0.68" fill="#111"/>
<circle cx="426.57" cy="376.43" r="0.68" fill="#111"/>
<circle cx="426.56" cy="380.50" r="0.68" fill="#111"/>
<circle cx="426.65" cy="380.42" r="0.68" fill="#111"/>
<circle cx="426.41" cy="377.06" r="0.68" fill="#111"/>
<circle cx="424.96" cy="382.49" r="0.68" fill="#111"/>
<circle cx="426.89" cy="379.30" r="0.68" fill="#111"/>
<circle cx="425.14" cy="378.99" r="0.68" fill="#111"/>
<rect x="431.35" y="380.08" width="5.20" height="4.22" fill="#561e68"/>
<line x1="433.95" y1="378.26" x2="433.95" y2="380.08" stroke="#555" stroke-width="0.6"/>
<line x1="432.35" y1="378.26" x2="435.55" y2="378.26" stroke="#555" stroke-width="0.6"/>
<circle cx="435.80" cy="377.63" r="0.68" fill="#111"/>
<circle cx="434.26" cy="377.90" r="0.68" fill="#111"/>
<circle cx="432.31" cy="378.83" r="0.68" fill="#111"/>
<circle cx="435.28" cy="380.19" r="0.68" fill="#111"/>
<circle cx="433.20" cy="380.20" r="0.68" fill="#111"/>
<circle cx="432.57" cy="377.50" r="0.68" fill="#111"/>
<circle cx="433.58" cy="381.41" r="0.68" fill="#111"/>
<circle cx="432.41" cy="378.76" r="0.68" fill="#111"/>
<circle cx="432.33" cy="378.20" r="0.68" fill="#111"/>
<circle cx="432.99" cy="378.07" r="0.68" fill="#111"/>
<circle cx="433.28" cy="378.28" r="0.68" fill="#111"/>
<rect x="439.22" y="383.50" width="5.20" height="0.80" fill="#c41430"/>
<line x1="441.82" y1="383.09" x2="441.82" y2="383.70" stroke="#555" stroke-width="0.6"/>
<line x1="440.22" y1="383.09" x2="443.42" y2="383.09" stroke="#555" stroke-width="0.6"/>
<circle cx="441.49" cy="382.88" r="0.68" fill="#111"/>
<circle cx="443.52" cy="383.51" r="0.68" fill="#111"/>
<circle cx="443.20" cy="383.97" r="0.68" fill="#111"/>
<circle cx="440.85" cy="383.26" r="0.68" fill="#111"/>
<circle cx="441.12" cy="383.30" r="0.68" fill="#111"/>
<circle cx="443.31" cy="382.93" r="0.68" fill="#111"/>
<circle cx="441.18" cy="383.51" r="0.68" fill="#111"/>
<circle cx="440.31" cy="384.09" r="0.68" fill="#111"/>
<circle cx="441.22" cy="383.35" r="0.68" fill="#111"/>
<circle cx="440.59" cy="384.05" r="0.68" fill="#111"/>
<circle cx="440.42" cy="383.56" r="0.68" fill="#111"/>
<rect x="447.09" y="375.25" width="5.20" height="9.05" fill="#c41430"/>
<line x1="449.69" y1="373.44" x2="449.69" y2="375.25" stroke="#555" stroke-width="0.6"/>
<line x1="448.09" y1="373.44" x2="451.29" y2="373.44" stroke="#555" stroke-width="0.6"/>
<circle cx="449.90" cy="372.80" r="0.68" fill="#111"/>
<circle cx="449.70" cy="376.41" r="0.68" fill="#111"/>
<circle cx="449.30" cy="376.41" r="0.68" fill="#111"/>
<circle cx="451.20" cy="374.34" r="0.68" fill="#111"/>
<circle cx="449.93" cy="372.90" r="0.68" fill="#111"/>
<circle cx="448.56" cy="375.28" r="0.68" fill="#111"/>
<circle cx="448.44" cy="372.25" r="0.68" fill="#111"/>
<circle cx="449.96" cy="377.05" r="0.68" fill="#111"/>
<circle cx="448.21" cy="377.07" r="0.68" fill="#111"/>
<circle cx="449.10" cy="374.46" r="0.68" fill="#111"/>
<circle cx="451.55" cy="375.35" r="0.68" fill="#111"/>
<rect x="454.96" y="375.85" width="5.20" height="8.45" fill="#c41430"/>
<line x1="457.56" y1="373.44" x2="457.56" y2="375.85" stroke="#555" stroke-width="0.6"/>
<line x1="455.96" y1="373.44" x2="459.16" y2="373.44" stroke="#555" stroke-width="0.6"/>
<circle cx="455.95" cy="372.59" r="0.68" fill="#111"/>
<circle cx="458.90" cy="378.78" r="0.68" fill="#111"/>
<circle cx="458.66" cy="376.07" r="0.68" fill="#111"/>
<circle cx="459.20" cy="375.69" r="0.68" fill="#111"/>
<circle cx="459.09" cy="373.95" r="0.68" fill="#111"/>
<circle cx="456.92" cy="375.26" r="0.68" fill="#111"/>
<circle cx="457.34" cy="376.88" r="0.68" fill="#111"/>
<circle cx="459.45" cy="372.88" r="0.68" fill="#111"/>
<circle cx="458.35" cy="373.64" r="0.68" fill="#111"/>
<circle cx="456.40" cy="378.67" r="0.68" fill="#111"/>
<circle cx="457.49" cy="376.77" r="0.68" fill="#111"/>
<rect x="462.83" y="383.50" width="5.20" height="0.80" fill="#2eba46"/>
<line x1="465.43" y1="383.82" x2="465.43" y2="384.00" stroke="#555" stroke-width="0.6"/>
<line x1="463.83" y1="383.82" x2="467.03" y2="383.82" stroke="#555" stroke-width="0.6"/>
<circle cx="465.68" cy="383.75" r="0.68" fill="#111"/>
<circle cx="467.00" cy="384.03" r="0.68" fill="#111"/>
<circle cx="464.92" cy="383.91" r="0.68" fill="#111"/>
<circle cx="465.47" cy="383.71" r="0.68" fill="#111"/>
<circle cx="466.10" cy="383.77" r="0.68" fill="#111"/>
<circle cx="464.79" cy="384.04" r="0.68" fill="#111"/>
<circle cx="466.70" cy="383.93" r="0.68" fill="#111"/>
<circle cx="464.69" cy="384.04" r="0.68" fill="#111"/>
<circle cx="466.94" cy="383.70" r="0.68" fill="#111"/>
<circle cx="464.02" cy="383.93" r="0.68" fill="#111"/>
<circle cx="464.09" cy="383.87" r="0.68" fill="#111"/>
<rect x="470.70" y="383.50" width="5.20" height="0.80" fill="#2eba46"/>
<line x1="473.30" y1="383.82" x2="473.30" y2="384.00" stroke="#555" stroke-width="0.6"/>
<line x1="471.70" y1="383.82" x2="474.90" y2="383.82" stroke="#555" stroke-width="0.6"/>
<circle cx="473.44" cy="383.75" r="0.68" fill="#111"/>
<circle cx="472.22" cy="384.02" r="0.68" fill="#111"/>
<circle cx="474.81" cy="384.04" r="0.68" fill="#111"/>
<circle cx="471.71" cy="383.89" r="0.68" fill="#111"/>
<circle cx="473.57" cy="384.23" r="0.68" fill="#111"/>
<circle cx="472.37" cy="383.86" r="0.68" fill="#111"/>
<circle cx="471.92" cy="383.93" r="0.68" fill="#111"/>
<circle cx="471.46" cy="384.00" r="0.68" fill="#111"/>
<circle cx="472.47" cy="384.25" r="0.68" fill="#111"/>
<circle cx="472.49" cy="383.90" r="0.68" fill="#111"/>
<circle cx="471.47" cy="383.98" r="0.68" fill="#111"/>
<rect x="478.57" y="378.87" width="5.20" height="5.43" fill="#2eba46"/>
<line x1="481.17" y1="377.66" x2="481.17" y2="378.87" stroke="#555" stroke-width="0.6"/>
<line x1="479.57" y1="377.66" x2="482.77" y2="377.66" stroke="#555" stroke-width="0.6"/>
<circle cx="481.79" cy="377.24" r="0.68" fill="#111"/>
<circle cx="479.82" cy="377.93" r="0.68" fill="#111"/>
<circle cx="481.56" cy="378.29" r="0.68" fill="#111"/>
<circle cx="480.31" cy="378.28" r="0.68" fill="#111"/>
<circle cx="481.64" cy="379.67" r="0.68" fill="#111"/>
<circle cx="480.18" cy="378.96" r="0.68" fill="#111"/>
<circle cx="480.70" cy="379.16" r="0.68" fill="#111"/>
<circle cx="481.77" cy="379.59" r="0.68" fill="#111"/>
<circle cx="480.24" cy="378.89" r="0.68" fill="#111"/>
<circle cx="480.11" cy="378.17" r="0.68" fill="#111"/>
<circle cx="479.57" cy="379.34" r="0.68" fill="#111"/>
<rect x="486.44" y="383.50" width="5.20" height="0.80" fill="#046a4e"/>
<line x1="489.04" y1="383.82" x2="489.04" y2="384.00" stroke="#555" stroke-width="0.6"/>
<line x1="487.44" y1="383.82" x2="490.64" y2="383.82" stroke="#555" stroke-width="0.6"/>
<circle cx="490.49" cy="383.75" r="0.68" fill="#111"/>
<circle cx="488.72" cy="383.93" r="0.68" fill="#111"/>
<circle cx="490.81" cy="384.29" r="0.68" fill="#111"/>
<circle cx="490.05" cy="383.88" r="0.68" fill="#111"/>
<circle cx="489.06" cy="383.99" r="0.68" fill="#111"/>
<circle cx="488.12" cy="383.88" r="0.68" fill="#111"/>
<circle cx="488.06" cy="384.05" r="0.68" fill="#111"/>
<circle cx="489.99" cy="383.92" r="0.68" fill="#111"/>
<circle cx="488.93" cy="384.12" r="0.68" fill="#111"/>
<circle cx="489.47" cy="384.09" r="0.68" fill="#111"/>
<circle cx="490.34" cy="384.01" r="0.68" fill="#111"/>
<rect x="494.31" y="383.50" width="5.20" height="0.80" fill="#046a4e"/>
<line x1="496.91" y1="383.82" x2="496.91" y2="384.00" stroke="#555" stroke-width="0.6"/>
<line x1="495.31" y1="383.82" x2="498.51" y2="383.82" stroke="#555" stroke-width="0.6"/>
<circle cx="496.77" cy="383.75" r="0.68" fill="#111"/>
<circle cx="497.89" cy="384.19" r="0.68" fill="#111"/>
<circle cx="496.34" cy="383.71" r="0.68" fill="#111"/>
<circle cx="496.68" cy="383.85" r="0.68" fill="#111"/>
<circle cx="496.43" cy="383.98" r="0.68" fill="#111"/>
<circle cx="495.98" cy="383.85" r="0.68" fill="#111"/>
<circle cx="497.91" cy="383.90" r="0.68" fill="#111"/>
<circle cx="498.15" cy="384.11" r="0.68" fill="#111"/>
<circle cx="496.71" cy="384.02" r="0.68" fill="#111"/>
<circle cx="495.21" cy="383.90" r="0.68" fill="#111"/>
<circle cx="496.64" cy="383.94" r="0.68" fill="#111"/>
<rect x="502.18" y="383.50" width="5.20" height="0.80" fill="#046a4e"/>
<line x1="504.78" y1="383.09" x2="504.78" y2="383.70" stroke="#555" stroke-width="0.6"/>
<line x1="503.18" y1="383.09" x2="506.38" y2="383.09" stroke="#555" stroke-width="0.6"/>
<circle cx="505.36" cy="382.88" r="0.68" fill="#111"/>
<circle cx="503.47" cy="384.28" r="0.68" fill="#111"/>
<circle cx="504.30" cy="383.68" r="0.68" fill="#111"/>
<circle cx="505.31" cy="383.39" r="0.68" fill="#111"/>
<circle cx="504.50" cy="383.18" r="0.68" fill="#111"/>
<circle cx="505.39" cy="383.62" r="0.68" fill="#111"/>
<circle cx="505.17" cy="383.49" r="0.68" fill="#111"/>
<circle cx="503.91" cy="384.10" r="0.68" fill="#111"/>
<circle cx="503.08" cy="384.30" r="0.68" fill="#111"/>
<circle cx="504.83" cy="383.51" r="0.68" fill="#111"/>
<circle cx="503.83" cy="383.98" r="0.68" fill="#111"/>
<line x1="388.90" y1="384.30" x2="510.20" y2="384.30" stroke="#231f20" stroke-width="1.3"/>
<line x1="394.60" y1="384.30" x2="394.60" y2="386.90" stroke="#231f20" stroke-width="0.9"/>
<line x1="402.47" y1="384.30" x2="402.47" y2="386.90" stroke="#231f20" stroke-width="0.9"/>
<line x1="410.34" y1="384.30" x2="410.34" y2="386.90" stroke="#231f20" stroke-width="0.9"/>
<line x1="418.21" y1="384.30" x2="418.21" y2="386.90" stroke="#231f20" stroke-width="0.9"/>
<line x1="426.08" y1="384.30" x2="426.08" y2="386.90" stroke="#231f20" stroke-width="0.9"/>
<line x1="433.95" y1="384.30" x2="433.95" y2="386.90" stroke="#231f20" stroke-width="0.9"/>
<line x1="441.82" y1="384.30" x2="441.82" y2="386.90" stroke="#231f20" stroke-width="0.9"/>
<line x1="449.69" y1="384.30" x2="449.69" y2="386.90" stroke="#231f20" stroke-width="0.9"/>
<line x1="457.56" y1="384.30" x2="457.56" y2="386.90" stroke="#231f20" stroke-width="0.9"/>
<line x1="465.43" y1="384.30" x2="465.43" y2="386.90" stroke="#231f20" stroke-width="0.9"/>
<line x1="473.30" y1="384.30" x2="473.30" y2="386.90" stroke="#231f20" stroke-width="0.9"/>
<line x1="481.17" y1="384.30" x2="481.17" y2="386.90" stroke="#231f20" stroke-width="0.9"/>
<line x1="489.04" y1="384.30" x2="489.04" y2="386.90" stroke="#231f20" stroke-width="0.9"/>
<line x1="496.91" y1="384.30" x2="496.91" y2="386.90" stroke="#231f20" stroke-width="0.9"/>
<line x1="504.78" y1="384.30" x2="504.78" y2="386.90" stroke="#231f20" stroke-width="0.9"/>
<text x="394.60" y="393.00" font-size="5.2" text-anchor="middle" fill="#333" stroke="#333" stroke-width="0.15">+</text>
<text x="394.60" y="399.20" font-size="5.2" text-anchor="middle" fill="#333" stroke="#333" stroke-width="0.15">–</text>
<text x="394.60" y="405.10" font-size="5.2" text-anchor="middle" fill="#333" stroke="#333" stroke-width="0.15">–</text>
<text x="402.47" y="393.00" font-size="5.2" text-anchor="middle" fill="#333" stroke="#333" stroke-width="0.15">–</text>
<text x="402.47" y="399.20" font-size="5.2" text-anchor="middle" fill="#333" stroke="#333" stroke-width="0.15">+</text>
<text x="402.47" y="405.10" font-size="5.2" text-anchor="middle" fill="#333" stroke="#333" stroke-width="0.15">–</text>
<text x="410.34" y="393.00" font-size="5.2" text-anchor="middle" fill="#333" stroke="#333" stroke-width="0.15">–</text>
<text x="410.34" y="399.20" font-size="5.2" text-anchor="middle" fill="#333" stroke="#333" stroke-width="0.15">–</text>
<text x="410.34" y="405.10" font-size="5.2" text-anchor="middle" fill="#333" stroke="#333" stroke-width="0.15">+</text>
<text x="418.21" y="393.00" font-size="5.2" text-anchor="middle" fill="#333" stroke="#333" stroke-width="0.15">+</text>
<text x="418.21" y="399.20" font-size="5.2" text-anchor="middle" fill="#333" stroke="#333" stroke-width="0.15">–</text>
<text x="418.21" y="405.10" font-size="5.2" text-anchor="middle" fill="#333" stroke="#333" stroke-width="0.15">–</text>
<text x="426.08" y="393.00" font-size="5.2" text-anchor="middle" fill="#333" stroke="#333" stroke-width="0.15">–</text>
<text x="426.08" y="399.20" font-size="5.2" text-anchor="middle" fill="#333" stroke="#333" stroke-width="0.15">+</text>
<text x="426.08" y="405.10" font-size="5.2" text-anchor="middle" fill="#333" stroke="#333" stroke-width="0.15">–</text>
<text x="433.95" y="393.00" font-size="5.2" text-anchor="middle" fill="#333" stroke="#333" stroke-width="0.15">–</text>
<text x="433.95" y="399.20" font-size="5.2" text-anchor="middle" fill="#333" stroke="#333" stroke-width="0.15">–</text>
<text x="433.95" y="405.10" font-size="5.2" text-anchor="middle" fill="#333" stroke="#333" stroke-width="0.15">+</text>
<text x="441.82" y="393.00" font-size="5.2" text-anchor="middle" fill="#333" stroke="#333" stroke-width="0.15">+</text>
<text x="441.82" y="399.20" font-size="5.2" text-anchor="middle" fill="#333" stroke="#333" stroke-width="0.15">–</text>
<text x="441.82" y="405.10" font-size="5.2" text-anchor="middle" fill="#333" stroke="#333" stroke-width="0.15">–</text>
<text x="449.69" y="393.00" font-size="5.2" text-anchor="middle" fill="#333" stroke="#333" stroke-width="0.15">–</text>
<text x="449.69" y="399.20" font-size="5.2" text-anchor="middle" fill="#333" stroke="#333" stroke-width="0.15">+</text>
<text x="449.69" y="405.10" font-size="5.2" text-anchor="middle" fill="#333" stroke="#333" stroke-width="0.15">–</text>
<text x="457.56" y="393.00" font-size="5.2" text-anchor="middle" fill="#333" stroke="#333" stroke-width="0.15">–</text>
<text x="457.56" y="399.20" font-size="5.2" text-anchor="middle" fill="#333" stroke="#333" stroke-width="0.15">–</text>
<text x="457.56" y="405.10" font-size="5.2" text-anchor="middle" fill="#333" stroke="#333" stroke-width="0.15">+</text>
<text x="465.43" y="393.00" font-size="5.2" text-anchor="middle" fill="#333" stroke="#333" stroke-width="0.15">+</text>
<text x="465.43" y="399.20" font-size="5.2" text-anchor="middle" fill="#333" stroke="#333" stroke-width="0.15">–</text>
<text x="465.43" y="405.10" font-size="5.2" text-anchor="middle" fill="#333" stroke="#333" stroke-width="0.15">–</text>
<text x="473.30" y="393.00" font-size="5.2" text-anchor="middle" fill="#333" stroke="#333" stroke-width="0.15">–</text>
<text x="473.30" y="399.20" font-size="5.2" text-anchor="middle" fill="#333" stroke="#333" stroke-width="0.15">+</text>
<text x="473.30" y="405.10" font-size="5.2" text-anchor="middle" fill="#333" stroke="#333" stroke-width="0.15">–</text>
<text x="481.17" y="393.00" font-size="5.2" text-anchor="middle" fill="#333" stroke="#333" stroke-width="0.15">–</text>
<text x="481.17" y="399.20" font-size="5.2" text-anchor="middle" fill="#333" stroke="#333" stroke-width="0.15">–</text>
<text x="481.17" y="405.10" font-size="5.2" text-anchor="middle" fill="#333" stroke="#333" stroke-width="0.15">+</text>
<text x="489.04" y="393.00" font-size="5.2" text-anchor="middle" fill="#333" stroke="#333" stroke-width="0.15">+</text>
<text x="489.04" y="399.20" font-size="5.2" text-anchor="middle" fill="#333" stroke="#333" stroke-width="0.15">–</text>
<text x="489.04" y="405.10" font-size="5.2" text-anchor="middle" fill="#333" stroke="#333" stroke-width="0.15">–</text>
<text x="496.91" y="393.00" font-size="5.2" text-anchor="middle" fill="#333" stroke="#333" stroke-width="0.15">–</text>
<text x="496.91" y="399.20" font-size="5.2" text-anchor="middle" fill="#333" stroke="#333" stroke-width="0.15">+</text>
<text x="496.91" y="405.10" font-size="5.2" text-anchor="middle" fill="#333" stroke="#333" stroke-width="0.15">–</text>
<text x="504.78" y="393.00" font-size="5.2" text-anchor="middle" fill="#333" stroke="#333" stroke-width="0.15">–</text>
<text x="504.78" y="399.20" font-size="5.2" text-anchor="middle" fill="#333" stroke="#333" stroke-width="0.15">–</text>
<text x="504.78" y="405.10" font-size="5.2" text-anchor="middle" fill="#333" stroke="#333" stroke-width="0.15">+</text>
<line x1="391.20" y1="406.90" x2="412.20" y2="406.90" stroke="#666" stroke-width="1.2"/>
<text x="401.70" y="414.40" font-size="6.6" text-anchor="middle" fill="#333" textLength="12.6" lengthAdjust="spacingAndGlyphs" stroke="#333" stroke-width="0.15">2mo</text>
<line x1="414.81" y1="406.90" x2="435.81" y2="406.90" stroke="#666" stroke-width="1.2"/>
<text x="425.31" y="414.40" font-size="6.6" text-anchor="middle" fill="#333" textLength="6.0" lengthAdjust="spacingAndGlyphs" stroke="#333" stroke-width="0.15">1y</text>
<line x1="438.42" y1="406.90" x2="459.42" y2="406.90" stroke="#666" stroke-width="1.2"/>
<text x="448.92" y="414.40" font-size="6.6" text-anchor="middle" fill="#333" textLength="6.0" lengthAdjust="spacingAndGlyphs" stroke="#333" stroke-width="0.15">2y</text>
<line x1="462.03" y1="406.90" x2="483.03" y2="406.90" stroke="#666" stroke-width="1.2"/>
<text x="472.53" y="414.40" font-size="6.6" text-anchor="middle" fill="#333" textLength="12.6" lengthAdjust="spacingAndGlyphs" stroke="#333" stroke-width="0.15">2mo</text>
<line x1="485.64" y1="406.90" x2="506.64" y2="406.90" stroke="#666" stroke-width="1.2"/>
<text x="496.14" y="414.40" font-size="6.6" text-anchor="middle" fill="#333" textLength="6.0" lengthAdjust="spacingAndGlyphs" stroke="#333" stroke-width="0.15">1y</text>
<line x1="391.20" y1="416.60" x2="460.20" y2="416.60" stroke="#666" stroke-width="1.3"/>
<text x="425.70" y="423.90" font-size="6.6" text-anchor="middle" fill="#333" textLength="24" lengthAdjust="spacingAndGlyphs" stroke="#333" stroke-width="0.15">WT, SPF</text>
<line x1="463.80" y1="416.60" x2="509.20" y2="416.60" stroke="#666" stroke-width="1.3"/>
<text x="487.00" y="423.90" font-size="6.6" text-anchor="middle" fill="#333" textLength="21.5" lengthAdjust="spacingAndGlyphs" stroke="#333" stroke-width="0.15">WT, GF</text>
<line x1="392.40" y1="330.80" x2="409.70" y2="330.80" stroke="#555" stroke-width="1.25"/>
<circle cx="393.70" cy="328.20" r="0.85" fill="#1a1a1a"/>
<circle cx="396.45" cy="328.20" r="0.85" fill="#1a1a1a"/>
<circle cx="399.20" cy="328.20" r="0.85" fill="#1a1a1a"/>
<circle cx="401.95" cy="328.20" r="0.85" fill="#1a1a1a"/>
<line x1="392.40" y1="335.20" x2="402.30" y2="335.20" stroke="#555" stroke-width="1.25"/>
<circle cx="393.70" cy="332.60" r="0.85" fill="#1a1a1a"/>
<circle cx="396.45" cy="332.60" r="0.85" fill="#1a1a1a"/>
<line x1="416.30" y1="330.80" x2="434.10" y2="330.80" stroke="#555" stroke-width="1.25"/>
<circle cx="417.60" cy="328.20" r="0.85" fill="#1a1a1a"/>
<circle cx="420.35" cy="328.20" r="0.85" fill="#1a1a1a"/>
<circle cx="423.10" cy="328.20" r="0.85" fill="#1a1a1a"/>
<line x1="416.30" y1="335.20" x2="426.10" y2="335.20" stroke="#555" stroke-width="1.25"/>
<circle cx="417.60" cy="332.60" r="0.85" fill="#1a1a1a"/>
<circle cx="420.35" cy="332.60" r="0.85" fill="#1a1a1a"/>
<circle cx="423.10" cy="332.60" r="0.85" fill="#1a1a1a"/>
<line x1="441.00" y1="330.80" x2="458.90" y2="330.80" stroke="#555" stroke-width="1.25"/>
<circle cx="442.30" cy="328.20" r="0.85" fill="#1a1a1a"/>
<circle cx="445.05" cy="328.20" r="0.85" fill="#1a1a1a"/>
<circle cx="447.80" cy="328.20" r="0.85" fill="#1a1a1a"/>
<circle cx="450.55" cy="328.20" r="0.85" fill="#1a1a1a"/>
<line x1="441.00" y1="335.20" x2="451.40" y2="335.20" stroke="#555" stroke-width="1.25"/>
<circle cx="442.30" cy="332.60" r="0.85" fill="#1a1a1a"/>
<circle cx="445.05" cy="332.60" r="0.85" fill="#1a1a1a"/>
<circle cx="447.80" cy="332.60" r="0.85" fill="#1a1a1a"/>
<circle cx="450.55" cy="332.60" r="0.85" fill="#1a1a1a"/>
<line x1="464.80" y1="330.80" x2="482.70" y2="330.80" stroke="#555" stroke-width="1.25"/>
<circle cx="466.10" cy="328.20" r="0.85" fill="#1a1a1a"/>
<circle cx="468.85" cy="328.20" r="0.85" fill="#1a1a1a"/>
<circle cx="471.60" cy="328.20" r="0.85" fill="#1a1a1a"/>
<circle cx="474.35" cy="328.20" r="0.85" fill="#1a1a1a"/>
<line x1="488.70" y1="330.80" x2="506.60" y2="330.80" stroke="#555" stroke-width="1.25"/>
<circle cx="490.00" cy="328.20" r="0.85" fill="#1a1a1a"/>
<g transform="translate(0 0)" fill="none" stroke="#2a2a2a" stroke-width="0.75" stroke-linejoin="round" stroke-linecap="round"><path d="M38.8 186.2 C41 179 46 172 54 169.5 C60 168.3 66 170.5 70 174"/><path d="M70 174 C70.3 171.2 72.3 168.8 73.8 168.9 C75.6 169.3 76.1 171.2 75.3 173 C74.5 174.8 72.8 176.6 71.2 177.3 C70.4 176.3 70 175.2 70 174 Z"/><path d="M75.3 172.6 C78 174 81 176.3 82.6 179.2 C82.9 181 81.2 182.2 78.2 182.6 C74.2 183.1 70.4 185 69.2 187.6 C68.6 189.6 70.2 191.6 73 192.4 L74.6 192.9"/><path d="M71.5 192.3 C67 191 62 189.8 57.5 189.5 C54.5 189.4 52.5 190.3 51.2 191.2 L53.8 192.6 M51.2 191.2 C47 191 42.5 190.2 39.3 188.6"/><path d="M39.0 186.4 C32 188 22 189.8 17 193 C13.5 195.5 14.5 199.6 25.6 202.2 M39.6 189.2 C33 190.3 23 192 19 194.5 C16.5 196.5 17.5 199.5 25.6 201.5"/></g>
<circle cx="76.90" cy="178.30" r="0.55" fill="#222"/>
<g transform="translate(-2 271.5)" fill="none" stroke="#2a2a2a" stroke-width="0.75" stroke-linejoin="round" stroke-linecap="round"><path d="M38.8 186.2 C41 179 46 172 54 169.5 C60 168.3 66 170.5 70 174"/><path d="M70 174 C70.3 171.2 72.3 168.8 73.8 168.9 C75.6 169.3 76.1 171.2 75.3 173 C74.5 174.8 72.8 176.6 71.2 177.3 C70.4 176.3 70 175.2 70 174 Z"/><path d="M75.3 172.6 C78 174 81 176.3 82.6 179.2 C82.9 181 81.2 182.2 78.2 182.6 C74.2 183.1 70.4 185 69.2 187.6 C68.6 189.6 70.2 191.6 73 192.4 L74.6 192.9"/><path d="M71.5 192.3 C67 191 62 189.8 57.5 189.5 C54.5 189.4 52.5 190.3 51.2 191.2 L53.8 192.6 M51.2 191.2 C47 191 42.5 190.2 39.3 188.6"/><path d="M39.0 186.4 C32 188 22 189.8 17 193 C13.5 195.5 14.5 199.6 25.6 202.2 M39.6 189.2 C33 190.3 23 192 19 194.5 C16.5 196.5 17.5 199.5 25.6 201.5"/></g>
<circle cx="74.90" cy="449.80" r="0.55" fill="#222"/>
<text x="49.60" y="214.50" font-size="6.3" text-anchor="middle" fill="#231f20" textLength="59.2" lengthAdjust="spacing" stroke="#231f20" stroke-width="0.15">2mo WT SPF and GF</text>
<text x="49.60" y="222.00" font-size="6.3" text-anchor="middle" fill="#231f20" textLength="28.4" lengthAdjust="spacing" stroke="#231f20" stroke-width="0.15">1y WT GF</text>
<text x="49.40" y="229.50" font-size="6.3" text-anchor="middle" fill="#231f20" textLength="31.1" lengthAdjust="spacing" stroke="#231f20" stroke-width="0.15">2y WT SPF</text>
<line x1="49.50" y1="235.50" x2="49.50" y2="246.60" stroke="#111" stroke-width="0.9"/>
<path d="M47.90 245.60 L49.50 249.60 L51.10 245.60 Z" fill="#111"/>
<text x="10.80" y="259.60" font-size="6.3" text-anchor="start" fill="#231f20" textLength="62.3" lengthAdjust="spacing" font-weight="bold" stroke="#231f20" stroke-width="0.1">Sort BM populations:</text>
<circle cx="12.00" cy="265.40" r="1.15" fill="#111"/>
<circle cx="12.00" cy="280.40" r="1.15" fill="#111"/>
<circle cx="12.00" cy="295.30" r="1.15" fill="#111"/>
<text x="17.10" y="267.50" font-size="6.3" text-anchor="start" fill="#231f20" textLength="33.2" lengthAdjust="spacing" stroke="#231f20" stroke-width="0.15">iMonocytes</text>
<text x="17.1" y="274.4" font-size="6.4" fill="#231f20" stroke="#231f20" stroke-width="0.15" textLength="72.7" lengthAdjust="spacing">(CD11b<tspan font-size="4.6" dy="-2.3">+</tspan><tspan dy="2.3"> Gr1</tspan><tspan font-size="4.6" dy="-2.3">low</tspan><tspan dy="2.3"> Ly6C</tspan><tspan font-size="4.6" dy="-2.3">high</tspan><tspan dy="2.3">)</tspan></text>
<text x="17.10" y="282.30" font-size="6.3" text-anchor="start" fill="#231f20" textLength="38.1" lengthAdjust="spacing" stroke="#231f20" stroke-width="0.15">Granulocytes</text>
<text x="17.1" y="289.3" font-size="6.4" fill="#231f20" stroke="#231f20" stroke-width="0.15" textLength="49.3" lengthAdjust="spacing">(CD11b<tspan font-size="4.6" dy="-2.3">+</tspan><tspan dy="2.3"> Gr1</tspan><tspan font-size="4.6" dy="-2.3">high</tspan><tspan dy="2.3">)</tspan></text>
<text x="17.10" y="297.40" font-size="6.3" text-anchor="start" fill="#231f20" textLength="30.3" lengthAdjust="spacing" stroke="#231f20" stroke-width="0.15">Whole BM</text>
<line x1="49.30" y1="311.30" x2="49.30" y2="322.20" stroke="#111" stroke-width="0.9"/>
<path d="M47.70 321.20 L49.30 325.20 L50.90 321.20 Z" fill="#111"/>
<text x="11.10" y="334.50" font-size="6.3" text-anchor="start" fill="#231f20" textLength="22.5" lengthAdjust="spacing" font-weight="bold" font-style="italic" stroke="#231f20" stroke-width="0.1">Ex vivo:</text>
<text x="11.10" y="342.30" font-size="6.3" text-anchor="start" fill="#231f20" textLength="61.1" lengthAdjust="spacing" stroke="#231f20" stroke-width="0.15">1. Expose cells to LPS</text>
<text x="18.00" y="349.60" font-size="6.3" text-anchor="start" fill="#231f20" textLength="30.3" lengthAdjust="spacing" stroke="#231f20" stroke-width="0.15">(100ng/ml)</text>
<text x="11.10" y="357.50" font-size="6.3" text-anchor="start" fill="#231f20" textLength="68.7" lengthAdjust="spacing" stroke="#231f20" stroke-width="0.15">2. Harvest culture media</text>
<text x="11.10" y="364.50" font-size="6.3" text-anchor="start" fill="#231f20" textLength="52.7" lengthAdjust="spacing" stroke="#231f20" stroke-width="0.15">3. Measure IL-1a/b</text>
<text x="18.00" y="372.10" font-size="6.3" text-anchor="start" fill="#231f20" textLength="37.5" lengthAdjust="spacing" stroke="#231f20" stroke-width="0.15">protein levels</text>
<text x="47.60" y="486.20" font-size="6.7" text-anchor="middle" fill="#231f20" textLength="37.5" lengthAdjust="spacing" stroke="#231f20" stroke-width="0.15">2mo / 1y / 2y</text>
<line x1="47.50" y1="493.30" x2="47.50" y2="504.30" stroke="#111" stroke-width="0.9"/>
<path d="M45.90 503.30 L47.50 507.30 L49.10 503.30 Z" fill="#111"/>
<text x="47.30" y="518.00" font-size="6.7" text-anchor="middle" fill="#231f20" textLength="74.6" lengthAdjust="spacing" stroke="#231f20" stroke-width="0.15">I.P. injection of LPS (35ug)</text>
<line x1="47.50" y1="526.00" x2="47.50" y2="537.40" stroke="#111" stroke-width="0.9"/>
<path d="M45.90 536.40 L47.50 540.40 L49.10 536.40 Z" fill="#111"/>
<text x="47.60" y="551.50" font-size="6.7" text-anchor="middle" fill="#231f20" textLength="85.6" lengthAdjust="spacing" stroke="#231f20" stroke-width="0.15">Measure IL1-a/b protein levels</text>
<text x="47.30" y="559.60" font-size="6.7" text-anchor="middle" fill="#231f20" textLength="78.4" lengthAdjust="spacing" stroke="#231f20" stroke-width="0.15">in BM lysate and PB plasma</text>
<text x="215.00" y="453.70" font-size="9" text-anchor="middle" fill="#231f20" textLength="109.3" lengthAdjust="spacingAndGlyphs" stroke="#231f20" stroke-width="0.15">IL-1a, WT SPF BM (lysate)</text>
<line x1="152.40" y1="462.38" x2="152.40" y2="545.80" stroke="#231f20" stroke-width="1.2"/>
<line x1="149.60" y1="545.30" x2="152.40" y2="545.30" stroke="#231f20" stroke-width="1.0"/>
<text x="146.90" y="547.90" font-size="7.3" text-anchor="end" fill="#231f20" textLength="4.2" lengthAdjust="spacingAndGlyphs" stroke="#231f20" stroke-width="0.15">0</text>
<line x1="149.60" y1="517.66" x2="152.40" y2="517.66" stroke="#231f20" stroke-width="1.0"/>
<text x="146.90" y="520.26" font-size="7.3" text-anchor="end" fill="#231f20" textLength="16.8" lengthAdjust="spacingAndGlyphs" stroke="#231f20" stroke-width="0.15">4000</text>
<line x1="149.60" y1="490.02" x2="152.40" y2="490.02" stroke="#231f20" stroke-width="1.0"/>
<text x="146.90" y="492.62" font-size="7.3" text-anchor="end" fill="#231f20" textLength="16.8" lengthAdjust="spacingAndGlyphs" stroke="#231f20" stroke-width="0.15">8000</text>
<line x1="149.60" y1="462.38" x2="152.40" y2="462.38" stroke="#231f20" stroke-width="1.0"/>
<text x="146.90" y="464.98" font-size="7.3" text-anchor="end" fill="#231f20" textLength="21.0" lengthAdjust="spacingAndGlyphs" stroke="#231f20" stroke-width="0.15">12000</text>
<line x1="151.90" y1="545.90" x2="277.30" y2="545.90" stroke="#231f20" stroke-width="1.25"/>
<line x1="152.40" y1="545.90" x2="152.40" y2="548.50" stroke="#231f20" stroke-width="1.0"/>
<text x="152.40" y="557.60" font-size="7.3" text-anchor="middle" fill="#231f20" textLength="4.1" lengthAdjust="spacingAndGlyphs" stroke="#231f20" stroke-width="0.15">0</text>
<line x1="177.38" y1="545.90" x2="177.38" y2="548.50" stroke="#231f20" stroke-width="1.0"/>
<text x="177.38" y="557.60" font-size="7.3" text-anchor="middle" fill="#231f20" textLength="4.1" lengthAdjust="spacingAndGlyphs" stroke="#231f20" stroke-width="0.15">5</text>
<line x1="202.36" y1="545.90" x2="202.36" y2="548.50" stroke="#231f20" stroke-width="1.0"/>
<text x="202.36" y="557.60" font-size="7.3" text-anchor="middle" fill="#231f20" textLength="8.2" lengthAdjust="spacingAndGlyphs" stroke="#231f20" stroke-width="0.15">10</text>
<line x1="227.34" y1="545.90" x2="227.34" y2="548.50" stroke="#231f20" stroke-width="1.0"/>
<text x="227.34" y="557.60" font-size="7.3" text-anchor="middle" fill="#231f20" textLength="8.2" lengthAdjust="spacingAndGlyphs" stroke="#231f20" stroke-width="0.15">15</text>
<line x1="252.32" y1="545.90" x2="252.32" y2="548.50" stroke="#231f20" stroke-width="1.0"/>
<text x="252.32" y="557.60" font-size="7.3" text-anchor="middle" fill="#231f20" textLength="8.2" lengthAdjust="spacingAndGlyphs" stroke="#231f20" stroke-width="0.15">20</text>
<line x1="277.30" y1="545.90" x2="277.30" y2="548.50" stroke="#231f20" stroke-width="1.0"/>
<text x="277.30" y="557.60" font-size="7.3" text-anchor="middle" fill="#231f20" textLength="8.2" lengthAdjust="spacingAndGlyphs" stroke="#231f20" stroke-width="0.15">25</text>
<text x="215.60" y="569.60" font-size="8.8" text-anchor="middle" fill="#231f20" textLength="86.6" lengthAdjust="spacingAndGlyphs" stroke="#231f20" stroke-width="0.15">Hours (from LPS injection)</text>
<text x="118.30" y="504.10" font-size="7.6" text-anchor="middle" fill="#231f20" textLength="19.5" lengthAdjust="spacingAndGlyphs" transform="rotate(-90 118.30 504.10)" stroke="#231f20" stroke-width="0.15">pg/ml</text>
<path d="M152.40 545.30 L172.38 532.07 L222.34 520.62 L252.32 529.41" fill="none" stroke="#c41430" stroke-width="1.3"/>
<path d="M150.50 543.90 L154.30 543.90 L152.40 547.20 Z" fill="#c41430"/>
<line x1="172.38" y1="530.35" x2="172.38" y2="533.80" stroke="#c41430" stroke-width="0.8"/>
<line x1="170.78" y1="530.35" x2="173.98" y2="530.35" stroke="#c41430" stroke-width="0.8"/>
<line x1="170.78" y1="533.80" x2="173.98" y2="533.80" stroke="#c41430" stroke-width="0.8"/>
<path d="M170.48 530.67 L174.28 530.67 L172.38 533.97 Z" fill="#c41430"/>
<line x1="222.34" y1="510.16" x2="222.34" y2="527.53" stroke="#c41430" stroke-width="0.8"/>
<line x1="220.74" y1="510.16" x2="223.94" y2="510.16" stroke="#c41430" stroke-width="0.8"/>
<line x1="220.74" y1="527.53" x2="223.94" y2="527.53" stroke="#c41430" stroke-width="0.8"/>
<path d="M220.44 519.22 L224.24 519.22 L222.34 522.52 Z" fill="#c41430"/>
<line x1="252.32" y1="527.68" x2="252.32" y2="531.48" stroke="#c41430" stroke-width="0.8"/>
<line x1="250.72" y1="527.68" x2="253.92" y2="527.68" stroke="#c41430" stroke-width="0.8"/>
<line x1="250.72" y1="531.48" x2="253.92" y2="531.48" stroke="#c41430" stroke-width="0.8"/>
<path d="M250.42 528.01 L254.22 528.01 L252.32 531.31 Z" fill="#c41430"/>
<path d="M152.40 545.30 L172.38 525.56 L222.34 527.93 L252.32 528.42" fill="none" stroke="#561e68" stroke-width="1.3"/>
<rect x="150.80" y="543.70" width="3.20" height="3.20" fill="#561e68"/>
<line x1="172.38" y1="523.14" x2="172.38" y2="527.98" stroke="#561e68" stroke-width="0.8"/>
<line x1="170.78" y1="523.14" x2="173.98" y2="523.14" stroke="#561e68" stroke-width="0.8"/>
<line x1="170.78" y1="527.98" x2="173.98" y2="527.98" stroke="#561e68" stroke-width="0.8"/>
<rect x="170.78" y="523.96" width="3.20" height="3.20" fill="#561e68"/>
<line x1="222.34" y1="525.86" x2="222.34" y2="534.84" stroke="#561e68" stroke-width="0.8"/>
<line x1="220.74" y1="525.86" x2="223.94" y2="525.86" stroke="#561e68" stroke-width="0.8"/>
<line x1="220.74" y1="534.84" x2="223.94" y2="534.84" stroke="#561e68" stroke-width="0.8"/>
<rect x="220.74" y="526.33" width="3.20" height="3.20" fill="#561e68"/>
<line x1="252.32" y1="527.38" x2="252.32" y2="529.46" stroke="#561e68" stroke-width="0.8"/>
<line x1="250.72" y1="527.38" x2="253.92" y2="527.38" stroke="#561e68" stroke-width="0.8"/>
<line x1="250.72" y1="529.46" x2="253.92" y2="529.46" stroke="#561e68" stroke-width="0.8"/>
<rect x="250.72" y="526.82" width="3.20" height="3.20" fill="#561e68"/>
<path d="M152.40 545.30 L172.38 535.72 L222.34 542.74 L252.32 541.15" fill="none" stroke="#105284" stroke-width="1.3"/>
<circle cx="152.40" cy="545.30" r="1.65" fill="#105284"/>
<line x1="172.38" y1="534.69" x2="172.38" y2="536.76" stroke="#105284" stroke-width="0.8"/>
<line x1="170.78" y1="534.69" x2="173.98" y2="534.69" stroke="#105284" stroke-width="0.8"/>
<line x1="170.78" y1="536.76" x2="173.98" y2="536.76" stroke="#105284" stroke-width="0.8"/>
<circle cx="172.38" cy="535.72" r="1.65" fill="#105284"/>
<line x1="222.34" y1="542.18" x2="222.34" y2="543.29" stroke="#105284" stroke-width="0.8"/>
<line x1="220.74" y1="542.18" x2="223.94" y2="542.18" stroke="#105284" stroke-width="0.8"/>
<line x1="220.74" y1="543.29" x2="223.94" y2="543.29" stroke="#105284" stroke-width="0.8"/>
<circle cx="222.34" cy="542.74" r="1.65" fill="#105284"/>
<line x1="252.32" y1="540.74" x2="252.32" y2="541.57" stroke="#105284" stroke-width="0.8"/>
<line x1="250.72" y1="540.74" x2="253.92" y2="540.74" stroke="#105284" stroke-width="0.8"/>
<line x1="250.72" y1="541.57" x2="253.92" y2="541.57" stroke="#105284" stroke-width="0.8"/>
<circle cx="252.32" cy="541.15" r="1.65" fill="#105284"/>
<line x1="257.00" y1="527.70" x2="257.00" y2="542.20" stroke="#222" stroke-width="1.0"/>
<circle cx="261.90" cy="535.25" r="1.05" fill="#1a1a1a"/>
<circle cx="266.30" cy="535.25" r="1.05" fill="#1a1a1a"/>
<circle cx="270.70" cy="535.25" r="1.05" fill="#1a1a1a"/>
<text x="394.10" y="453.70" font-size="9" text-anchor="middle" fill="#231f20" textLength="109.3" lengthAdjust="spacingAndGlyphs" stroke="#231f20" stroke-width="0.15">IL-1b, WT SPF BM (lysate)</text>
<line x1="331.40" y1="462.14" x2="331.40" y2="545.80" stroke="#231f20" stroke-width="1.2"/>
<line x1="328.60" y1="545.30" x2="331.40" y2="545.30" stroke="#231f20" stroke-width="1.0"/>
<text x="325.90" y="547.90" font-size="7.3" text-anchor="end" fill="#231f20" textLength="4.2" lengthAdjust="spacingAndGlyphs" stroke="#231f20" stroke-width="0.15">0</text>
<line x1="328.60" y1="517.58" x2="331.40" y2="517.58" stroke="#231f20" stroke-width="1.0"/>
<text x="325.90" y="520.18" font-size="7.3" text-anchor="end" fill="#231f20" textLength="16.8" lengthAdjust="spacingAndGlyphs" stroke="#231f20" stroke-width="0.15">4000</text>
<line x1="328.60" y1="489.86" x2="331.40" y2="489.86" stroke="#231f20" stroke-width="1.0"/>
<text x="325.90" y="492.46" font-size="7.3" text-anchor="end" fill="#231f20" textLength="16.8" lengthAdjust="spacingAndGlyphs" stroke="#231f20" stroke-width="0.15">8000</text>
<line x1="328.60" y1="462.14" x2="331.40" y2="462.14" stroke="#231f20" stroke-width="1.0"/>
<text x="325.90" y="464.74" font-size="7.3" text-anchor="end" fill="#231f20" textLength="21.0" lengthAdjust="spacingAndGlyphs" stroke="#231f20" stroke-width="0.15">12000</text>
<line x1="330.90" y1="545.90" x2="458.15" y2="545.90" stroke="#231f20" stroke-width="1.25"/>
<line x1="331.40" y1="545.90" x2="331.40" y2="548.50" stroke="#231f20" stroke-width="1.0"/>
<text x="331.40" y="557.60" font-size="7.3" text-anchor="middle" fill="#231f20" textLength="4.1" lengthAdjust="spacingAndGlyphs" stroke="#231f20" stroke-width="0.15">0</text>
<line x1="356.75" y1="545.90" x2="356.75" y2="548.50" stroke="#231f20" stroke-width="1.0"/>
<text x="356.75" y="557.60" font-size="7.3" text-anchor="middle" fill="#231f20" textLength="4.1" lengthAdjust="spacingAndGlyphs" stroke="#231f20" stroke-width="0.15">5</text>
<line x1="382.10" y1="545.90" x2="382.10" y2="548.50" stroke="#231f20" stroke-width="1.0"/>
<text x="382.10" y="557.60" font-size="7.3" text-anchor="middle" fill="#231f20" textLength="8.2" lengthAdjust="spacingAndGlyphs" stroke="#231f20" stroke-width="0.15">10</text>
<line x1="407.45" y1="545.90" x2="407.45" y2="548.50" stroke="#231f20" stroke-width="1.0"/>
<text x="407.45" y="557.60" font-size="7.3" text-anchor="middle" fill="#231f20" textLength="8.2" lengthAdjust="spacingAndGlyphs" stroke="#231f20" stroke-width="0.15">15</text>
<line x1="432.80" y1="545.90" x2="432.80" y2="548.50" stroke="#231f20" stroke-width="1.0"/>
<text x="432.80" y="557.60" font-size="7.3" text-anchor="middle" fill="#231f20" textLength="8.2" lengthAdjust="spacingAndGlyphs" stroke="#231f20" stroke-width="0.15">20</text>
<line x1="458.15" y1="545.90" x2="458.15" y2="548.50" stroke="#231f20" stroke-width="1.0"/>
<text x="458.15" y="557.60" font-size="7.3" text-anchor="middle" fill="#231f20" textLength="8.2" lengthAdjust="spacingAndGlyphs" stroke="#231f20" stroke-width="0.15">25</text>
<text x="394.60" y="569.60" font-size="8.8" text-anchor="middle" fill="#231f20" textLength="86.6" lengthAdjust="spacingAndGlyphs" stroke="#231f20" stroke-width="0.15">Hours (from LPS injection)</text>
<text x="297.30" y="504.10" font-size="7.6" text-anchor="middle" fill="#231f20" textLength="19.5" lengthAdjust="spacingAndGlyphs" transform="rotate(-90 297.30 504.10)" stroke="#231f20" stroke-width="0.15">pg/ml</text>
<path d="M331.40 545.30 L351.68 495.60 L402.38 522.83 L432.80 532.83" fill="none" stroke="#c41430" stroke-width="1.3"/>
<path d="M329.50 543.90 L333.30 543.90 L331.40 547.20 Z" fill="#c41430"/>
<line x1="351.68" y1="484.81" x2="351.68" y2="501.15" stroke="#c41430" stroke-width="0.8"/>
<line x1="350.08" y1="484.81" x2="353.28" y2="484.81" stroke="#c41430" stroke-width="0.8"/>
<line x1="350.08" y1="501.15" x2="353.28" y2="501.15" stroke="#c41430" stroke-width="0.8"/>
<path d="M349.78 494.20 L353.58 494.20 L351.68 497.50 Z" fill="#c41430"/>
<line x1="402.38" y1="514.71" x2="402.38" y2="531.84" stroke="#c41430" stroke-width="0.8"/>
<line x1="400.78" y1="514.71" x2="403.98" y2="514.71" stroke="#c41430" stroke-width="0.8"/>
<line x1="400.78" y1="531.84" x2="403.98" y2="531.84" stroke="#c41430" stroke-width="0.8"/>
<path d="M400.48 521.43 L404.28 521.43 L402.38 524.73 Z" fill="#c41430"/>
<line x1="432.80" y1="531.09" x2="432.80" y2="534.56" stroke="#c41430" stroke-width="0.8"/>
<line x1="431.20" y1="531.09" x2="434.40" y2="531.09" stroke="#c41430" stroke-width="0.8"/>
<line x1="431.20" y1="534.56" x2="434.40" y2="534.56" stroke="#c41430" stroke-width="0.8"/>
<path d="M430.90 531.43 L434.70 531.43 L432.80 534.73 Z" fill="#c41430"/>
<path d="M331.40 545.30 L351.68 497.48 L402.38 534.31 L432.80 532.13" fill="none" stroke="#561e68" stroke-width="1.3"/>
<rect x="329.80" y="543.70" width="3.20" height="3.20" fill="#561e68"/>
<line x1="351.68" y1="490.55" x2="351.68" y2="508.27" stroke="#561e68" stroke-width="0.8"/>
<line x1="350.08" y1="490.55" x2="353.28" y2="490.55" stroke="#561e68" stroke-width="0.8"/>
<line x1="350.08" y1="508.27" x2="353.28" y2="508.27" stroke="#561e68" stroke-width="0.8"/>
<rect x="350.08" y="495.88" width="3.20" height="3.20" fill="#561e68"/>
<line x1="402.38" y1="533.27" x2="402.38" y2="535.35" stroke="#561e68" stroke-width="0.8"/>
<line x1="400.78" y1="533.27" x2="403.98" y2="533.27" stroke="#561e68" stroke-width="0.8"/>
<line x1="400.78" y1="535.35" x2="403.98" y2="535.35" stroke="#561e68" stroke-width="0.8"/>
<rect x="400.78" y="532.71" width="3.20" height="3.20" fill="#561e68"/>
<line x1="432.80" y1="530.75" x2="432.80" y2="533.52" stroke="#561e68" stroke-width="0.8"/>
<line x1="431.20" y1="530.75" x2="434.40" y2="530.75" stroke="#561e68" stroke-width="0.8"/>
<line x1="431.20" y1="533.52" x2="434.40" y2="533.52" stroke="#561e68" stroke-width="0.8"/>
<rect x="431.20" y="530.53" width="3.20" height="3.20" fill="#561e68"/>
<path d="M331.40 545.30 L351.68 516.98 L402.38 543.02 L432.80 543.57" fill="none" stroke="#105284" stroke-width="1.3"/>
<circle cx="331.40" cy="545.30" r="1.65" fill="#105284"/>
<line x1="351.68" y1="513.52" x2="351.68" y2="520.45" stroke="#105284" stroke-width="0.8"/>
<line x1="350.08" y1="513.52" x2="353.28" y2="513.52" stroke="#105284" stroke-width="0.8"/>
<line x1="350.08" y1="520.45" x2="353.28" y2="520.45" stroke="#105284" stroke-width="0.8"/>
<circle cx="351.68" cy="516.98" r="1.65" fill="#105284"/>
<line x1="402.38" y1="542.47" x2="402.38" y2="543.57" stroke="#105284" stroke-width="0.8"/>
<line x1="400.78" y1="542.47" x2="403.98" y2="542.47" stroke="#105284" stroke-width="0.8"/>
<line x1="400.78" y1="543.57" x2="403.98" y2="543.57" stroke="#105284" stroke-width="0.8"/>
<circle cx="402.38" cy="543.02" r="1.65" fill="#105284"/>
<line x1="432.80" y1="543.15" x2="432.80" y2="543.98" stroke="#105284" stroke-width="0.8"/>
<line x1="431.20" y1="543.15" x2="434.40" y2="543.15" stroke="#105284" stroke-width="0.8"/>
<line x1="431.20" y1="543.98" x2="434.40" y2="543.98" stroke="#105284" stroke-width="0.8"/>
<circle cx="432.80" cy="543.57" r="1.65" fill="#105284"/>
<line x1="437.50" y1="530.30" x2="437.50" y2="545.10" stroke="#222" stroke-width="1.0"/>
<circle cx="442.40" cy="538.00" r="1.05" fill="#1a1a1a"/>
<circle cx="446.80" cy="538.00" r="1.05" fill="#1a1a1a"/>
<circle cx="451.20" cy="538.00" r="1.05" fill="#1a1a1a"/>
<line x1="470.60" y1="461.80" x2="479.60" y2="461.80" stroke="#105284" stroke-width="1.3"/>
<circle cx="475.1" cy="461.8" r="1.35" fill="#105284"/>
<text x="482.80" y="464.40" font-size="7.4" text-anchor="start" fill="#231f20" textLength="14.7" lengthAdjust="spacingAndGlyphs" stroke="#231f20" stroke-width="0.15">2mo</text>
<line x1="470.60" y1="473.30" x2="479.60" y2="473.30" stroke="#561e68" stroke-width="1.3"/>
<rect x="473.80" y="472.00" width="2.60" height="2.60" fill="#561e68"/>
<text x="482.80" y="475.90" font-size="7.4" text-anchor="start" fill="#231f20" textLength="7.4" lengthAdjust="spacingAndGlyphs" stroke="#231f20" stroke-width="0.15">1y</text>
<line x1="470.60" y1="484.40" x2="479.60" y2="484.40" stroke="#c41430" stroke-width="1.3"/>
<path d="M473.6 483.29999999999995 L476.6 483.29999999999995 L475.1 485.9 Z" fill="#c41430"/>
<text x="482.80" y="487.00" font-size="7.4" text-anchor="start" fill="#231f20" textLength="7.4" lengthAdjust="spacingAndGlyphs" stroke="#231f20" stroke-width="0.15">2y</text>
<text x="7.10" y="14.80" font-size="11.00" font-weight="bold" fill="#000" stroke="#000" stroke-width="0.25" textLength="7.90" lengthAdjust="spacingAndGlyphs">A</text>
<text x="7.30" y="168.80" font-size="10.86" font-weight="bold" fill="#000" stroke="#000" stroke-width="0.25" textLength="6.70" lengthAdjust="spacingAndGlyphs">B</text>
<text x="98.90" y="169.20" font-size="12.00" font-weight="bold" fill="#000" stroke="#000" stroke-width="0.25" textLength="7.10" lengthAdjust="spacingAndGlyphs">C</text>
<text x="99.10" y="306.80" font-size="11.14" font-weight="bold" fill="#000" stroke="#000" stroke-width="0.25" textLength="7.90" lengthAdjust="spacingAndGlyphs">D</text>
<text x="7.50" y="448.70" font-size="11.57" font-weight="bold" fill="#000" stroke="#000" stroke-width="0.25" textLength="6.20" lengthAdjust="spacingAndGlyphs">E</text>
<text x="99.30" y="448.70" font-size="11.29" font-weight="bold" fill="#000" stroke="#000" stroke-width="0.25" textLength="5.60" lengthAdjust="spacingAndGlyphs">F</text>
<rect x="0.5" y="0.5" width="519" height="580" fill="none" stroke="#000" stroke-width="1"/>
</svg>
</body></html>
